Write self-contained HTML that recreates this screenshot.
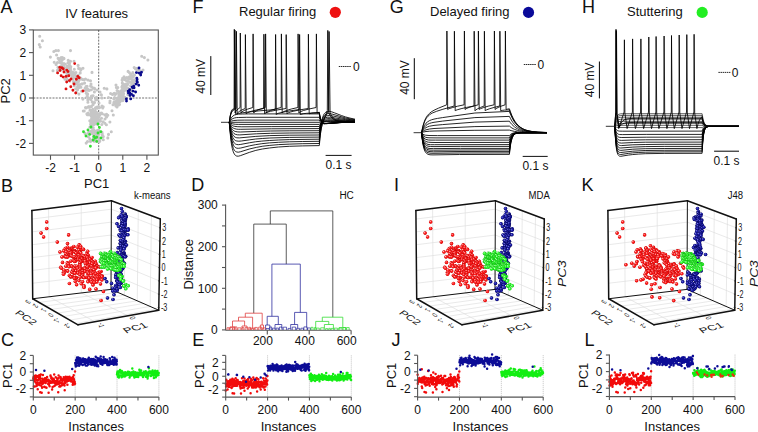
<!DOCTYPE html>
<html><head><meta charset="utf-8"><style>
html,body{margin:0;padding:0;background:#fff;}
svg{display:block;}
text{font-family:"Liberation Sans",sans-serif;fill:#111;}
</style></head><body>
<svg width="758" height="432" viewBox="0 0 758 432">
<rect width="758" height="432" fill="#fff"/>
<defs>
<clipPath id="clipA"><rect x="33.3" y="30" width="125" height="125.1"/></clipPath>
<g id="sr"><circle r="1.8" fill="#c40000"/><circle r="1.45" fill="#ff1c1c"/><circle cx="-0.5" cy="-0.55" r="0.65" fill="#ffb4b4"/></g>
<g id="sb"><circle r="1.8" fill="#000050"/><circle r="1.45" fill="#1c1ca8"/><circle cx="-0.5" cy="-0.55" r="0.6" fill="#8888ee"/></g>
<g id="sg"><circle r="1.8" fill="#10b010"/><circle r="1.45" fill="#30ff30"/><circle cx="-0.5" cy="-0.55" r="0.65" fill="#d0ffd0"/></g>
<radialGradient id="gr" cx="0.35" cy="0.35" r="0.7"><stop offset="0" stop-color="#ff9a9a"/><stop offset="0.45" stop-color="#ee1010"/><stop offset="1" stop-color="#a00000"/></radialGradient>
<radialGradient id="gb" cx="0.35" cy="0.35" r="0.7"><stop offset="0" stop-color="#8a8aee"/><stop offset="0.45" stop-color="#1a1aa8"/><stop offset="1" stop-color="#000060"/></radialGradient>
<radialGradient id="gg" cx="0.35" cy="0.35" r="0.7"><stop offset="0" stop-color="#c8ffc8"/><stop offset="0.45" stop-color="#22ee22"/><stop offset="1" stop-color="#10a010"/></radialGradient>
</defs><text x="0.5" y="12.7" font-size="18" text-anchor="start" >A</text>
<text x="1" y="191.5" font-size="18" text-anchor="start" >B</text>
<text x="0.9" y="345.5" font-size="18" text-anchor="start" >C</text>
<text x="191.3" y="191.2" font-size="18" text-anchor="start" >D</text>
<text x="192.2" y="345.6" font-size="18" text-anchor="start" >E</text>
<text x="192.6" y="12.7" font-size="18" text-anchor="start" >F</text>
<text x="389.8" y="12.7" font-size="18" text-anchor="start" >G</text>
<text x="582" y="12.9" font-size="18" text-anchor="start" >H</text>
<text x="394" y="190.7" font-size="18" text-anchor="start" >I</text>
<text x="391.5" y="345.7" font-size="18" text-anchor="start" >J</text>
<text x="581.6" y="191.3" font-size="18" text-anchor="start" >K</text>
<text x="584.5" y="345.7" font-size="18" text-anchor="start" >L</text>
<text x="96.7" y="18" font-size="13" text-anchor="middle" >IV features</text>
<rect x="33.3" y="30" width="125" height="125.1" fill="none" stroke="#555" stroke-width="1.1"/>
<line x1="29" y1="29.9" x2="33.3" y2="29.9" stroke="#555" stroke-width="1.1" />
<text x="26.2" y="34.2" font-size="12" text-anchor="end" >3</text>
<line x1="29" y1="52.6" x2="33.3" y2="52.6" stroke="#555" stroke-width="1.1" />
<text x="26.2" y="56.9" font-size="12" text-anchor="end" >2</text>
<line x1="29" y1="75.3" x2="33.3" y2="75.3" stroke="#555" stroke-width="1.1" />
<text x="26.2" y="79.6" font-size="12" text-anchor="end" >1</text>
<line x1="29" y1="98" x2="33.3" y2="98" stroke="#555" stroke-width="1.1" />
<text x="26.2" y="102.3" font-size="12" text-anchor="end" >0</text>
<line x1="29" y1="120.7" x2="33.3" y2="120.7" stroke="#555" stroke-width="1.1" />
<text x="26.2" y="125" font-size="12" text-anchor="end" >-1</text>
<line x1="29" y1="143.4" x2="33.3" y2="143.4" stroke="#555" stroke-width="1.1" />
<text x="26.2" y="147.7" font-size="12" text-anchor="end" >-2</text>
<line x1="50.5" y1="155.1" x2="50.5" y2="159.8" stroke="#555" stroke-width="1.1" />
<text x="50.5" y="172" font-size="12" text-anchor="middle" >-2</text>
<line x1="74.6" y1="155.1" x2="74.6" y2="159.8" stroke="#555" stroke-width="1.1" />
<text x="74.6" y="172" font-size="12" text-anchor="middle" >-1</text>
<line x1="98.7" y1="155.1" x2="98.7" y2="159.8" stroke="#555" stroke-width="1.1" />
<text x="98.7" y="172" font-size="12" text-anchor="middle" >0</text>
<line x1="122.8" y1="155.1" x2="122.8" y2="159.8" stroke="#555" stroke-width="1.1" />
<text x="122.8" y="172" font-size="12" text-anchor="middle" >1</text>
<line x1="146.9" y1="155.1" x2="146.9" y2="159.8" stroke="#555" stroke-width="1.1" />
<text x="146.9" y="172" font-size="12" text-anchor="middle" >2</text>
<text x="96.7" y="187.7" font-size="13" text-anchor="middle" >PC1</text>
<text x="0" y="0" font-size="13" text-anchor="middle" transform="translate(9.7,90.9) rotate(-90)">PC2</text>
<g clip-path="url(#clipA)">
<line x1="33.3" y1="98" x2="158.3" y2="98" stroke="#222" stroke-width="0.65" stroke-dasharray="2,1.2"/>
<line x1="98.7" y1="30" x2="98.7" y2="155.1" stroke="#222" stroke-width="0.65" stroke-dasharray="2,1.2"/>
<path d="M66.9 74.9h0M56.1 64.5h0M78.6 81.5h0M76 81.5h0M59.6 58.7h0M60 62.5h0M72.8 77.8h0M67.2 66.8h0M77.5 89.7h0M73.8 74.7h0M89.1 107.1h0M66.5 72.6h0M60.6 66.2h0M87 96.3h0M68 62.7h0M73.7 72.8h0M77.3 83.5h0M64.6 67.6h0M86 86.5h0M78.6 85.4h0M76.4 76.9h0M78.9 94.1h0M70 66h0M92.9 95.9h0M87.5 89h0M53 70.8h0M73.2 76.9h0M77.9 78.4h0M61.2 57.5h0M84 79.7h0M93.1 95.7h0M75.7 88.7h0M85.5 79h0M92.2 101.9h0M76.1 78.8h0M85.3 88.7h0M76.3 92.2h0M68.4 70.6h0M72.4 75.1h0M75.6 78.3h0M62.7 66.3h0M86.2 93.2h0M62 63.9h0M87.8 100h0M63.9 58.3h0M90.2 98.8h0M87.3 96.3h0M75.1 75h0M65 79.3h0M68.2 60.2h0M63.6 66.2h0M73.6 81.8h0M80 84.5h0M73.1 77.1h0M78.6 68.4h0M87.1 86.3h0M80.6 78.1h0M62.3 57.6h0M90.9 99.5h0M94.5 88.4h0M73.5 74.6h0M80.9 87.3h0M57.4 62.5h0M62.4 66.1h0M70.2 73.4h0M62.9 64.8h0M61.4 62.2h0M90.6 97.8h0M79.5 86.9h0M68.6 75.3h0M66.8 78.2h0M91.4 106.4h0M76.5 77.8h0M60.8 62.7h0M70.9 72.9h0M57.4 70.4h0M54.2 62.3h0M63.9 63.6h0M74.3 85.8h0M94.5 102.6h0M91.5 96.1h0M73.6 72.5h0M63 66h0M91.3 89.7h0M68.9 73.7h0M89.7 107.3h0M88.2 98.1h0M91.4 86.5h0M68.8 65.6h0M58.5 59h0M58.5 58.9h0M81.6 91.3h0M101.4 94.9h0M93.1 104.6h0M95.7 99.7h0M64.2 69.7h0M63.4 67.9h0M87.9 102.2h0M94.4 91.9h0M87.6 94.5h0M64 58.6h0M93.4 88.1h0M88.2 90h0M87.5 93.7h0M67.3 75.3h0M80.5 68.8h0M67.8 80.2h0M65.3 64.2h0M57.9 67.2h0M82.9 99.1h0M58.6 68.1h0M90.5 80.7h0M72.3 72.4h0M58.1 58.2h0M97.2 99.7h0M96.5 97.3h0M69.8 81.1h0M69.5 63.8h0M67.4 68.8h0M77.6 86.4h0M71.7 71.8h0M87.1 90.2h0M75.9 72.5h0M86.8 90.2h0M72.8 79.1h0M79.1 78.6h0M75.3 81.9h0M68.5 71h0M63.7 66.5h0M77.6 77.1h0M84.6 83.1h0M78.1 78.8h0M78.2 80.7h0M79.5 79.6h0M71.1 71.8h0M73.6 82.8h0M78.3 80.9h0M80.2 72.9h0M82.5 79.4h0M82.1 83.9h0M78.1 75.4h0M89 90h0M78.6 87.8h0M74.3 69.2h0M74.7 84.4h0M69 68.1h0M67.9 68.4h0M70 72.5h0M67.7 66.1h0M90.6 86.1h0M68.7 69.4h0M70.8 66.7h0M85.5 90.4h0M89.1 90.5h0M80.8 69.9h0M85.1 88.2h0M70.5 67.9h0M71.8 75.9h0M70.5 69.7h0M61.4 69.6h0M39.7 36.3h0M42.4 40.8h0M39.3 44.6h0M40.2 47h0M53.8 51.5h0M55.9 50.6h0M58.4 50.6h0M70.5 50.6h0M56.6 55h0M50.4 57.1h0M59.4 59.9h0M62.2 59.9h0M70.5 61.3h0M74 61.3h0M78.1 65.4h0M83 68.2h0M92 72.4h0M88 80h0M91 84h0M97 90h0M100 92h0M125.8 84.2h0M121.2 92.9h0M126.9 81.2h0M136.6 68.5h0M133.3 76.7h0M119.1 95h0M114.4 103.8h0M113.8 98.7h0M127.9 92.5h0M116.3 93.5h0M120 101.7h0M127.9 77.8h0M119.5 104.5h0M124.8 90.3h0M118.7 104.9h0M130.6 74.3h0M115.7 102.4h0M132.8 72.5h0M121.9 86.9h0M138.5 72.8h0M122 96.7h0M121.4 97.9h0M116.1 101.3h0M118.7 98.1h0M118.8 92.3h0M124.8 97.4h0M126.2 87.3h0M115.9 106h0M123.9 98.9h0M126.7 84.9h0M110.6 93.5h0M116.7 101.8h0M129.4 72.6h0M134.5 75.1h0M117.8 87.5h0M136.4 68.5h0M123.6 93.8h0M124.2 78.8h0M122.1 89.6h0M116.9 100.7h0M114.6 102.3h0M114.6 97.5h0M118.3 104h0M124 76.9h0M119.9 94.6h0M126.5 89.6h0M114.6 97.7h0M136.9 69.9h0M134.2 67.6h0M135.5 68.8h0M120.3 93.5h0M122.3 91h0M122.4 86.1h0M125.1 86.3h0M113 104.7h0M123.9 91.1h0M116.5 105.1h0M118.9 96.6h0M122.1 80.1h0M127.9 80.1h0M132.4 79.9h0M118.8 91.6h0M139.5 70.4h0M132.3 83.7h0M117.3 105.5h0M122.6 78.2h0M131.2 78.3h0M124 84.6h0M127.9 88.1h0M128.1 71.4h0M130.6 85.7h0M126.8 77.5h0M120.1 97.5h0M122 91.9h0M117.5 102.4h0M124.8 79.6h0M126.6 80.9h0M109.9 102.8h0M132.1 75.5h0M122.3 82.9h0M133.3 83.5h0M121 97h0M114.3 101.9h0M122.8 100.6h0M134.2 79.9h0M121.6 90.5h0M122.4 85.9h0M123.1 79.1h0M129.9 82.2h0M119.9 96.1h0M129.5 76.7h0M117 106.9h0M113.9 102.4h0M134.1 82.3h0M128.3 79.4h0M127.7 90.1h0M128.9 90.8h0M122.1 100.4h0M137 69.1h0M123.8 87.9h0M132 83.6h0M121.2 93.8h0M122.5 96.4h0M125.6 86.9h0M114.2 93.2h0M119 96.5h0M124.6 78.8h0M127.6 84.4h0M123.4 96.3h0M116.7 98.4h0M115.5 98.3h0M122.4 93.4h0M118.8 96.2h0M131.5 82.6h0M118 100h0M115.2 94.5h0M129.8 78.9h0M117.1 90.5h0M116.4 87.5h0M131.6 90.5h0M121.3 91h0M119.5 99.5h0M120.4 98.4h0M129.4 78.4h0M121.2 94.3h0M123.5 97.6h0M127.9 94.8h0M128 81.3h0M131.6 89.2h0M122.8 86.1h0M141.7 56.3h0M144.4 57.6h0M147.9 60h0M104.2 88.2h0M106.9 88.9h0M102 98h0M112.5 94.4h0M143 70h0M108.5 97.5h0M110 101h0M116 85h0M88.6 132.8h0M93.2 122.7h0M98.1 133.8h0M98 107.7h0M92.3 140.4h0M91.6 118.8h0M96.2 117h0M107.8 115.3h0M97.5 130.2h0M89.8 120.7h0M93.5 112.2h0M93.2 139.6h0M93.6 124.4h0M86.2 143.1h0M93.5 122.7h0M92.8 109.4h0M92.5 118.7h0M93.4 115.6h0M89.8 127.2h0M100.4 121.1h0M99.8 121.2h0M96 118.5h0M97.1 108.2h0M83.3 111h0M101.8 124.5h0M101.9 113.8h0M95.2 116h0M90.8 122.6h0M90.5 141.4h0M102.6 106.6h0M97.5 107.1h0M104.9 123.3h0M91 127.8h0M95.9 140.3h0M88.3 136.8h0M105 114.9h0M91.9 110.1h0M91.1 131.4h0M97.1 140.8h0M102.3 134.1h0M96.7 122.9h0M96.2 134.9h0M89.4 114.8h0M98.5 117.2h0M95.2 110.7h0M89.2 132h0M90 110.3h0M93.2 127.6h0M94.4 120.4h0M88.9 106.6h0M106.6 116.9h0M92.8 129.9h0M99.2 138.6h0M94.7 115.2h0M97.1 141.5h0M98.8 106.7h0M97.7 124.4h0M99.5 115.4h0M92.7 130.8h0M96.5 107.2h0M101.5 118.3h0M91.9 113.4h0M96.2 135.5h0M100.6 113.4h0M99.2 141.8h0M87.3 114.8h0M95 114.2h0M99.8 141.1h0M94.2 124.4h0M92.4 121.5h0M93.2 130.7h0M96.2 120.5h0M92.7 113.9h0M95.5 107.9h0M102.8 108h0M89.8 138.9h0M85.1 133.4h0M95.5 118.2h0M88.2 113.1h0M98 107.1h0M98.9 130.5h0M92.3 118.4h0M91.4 112.4h0M95.3 119h0M87.5 141.6h0M86.9 113.9h0M91.6 119.3h0M103.1 121.8h0M99.4 107.7h0M95.2 140h0M101.6 113h0M87.6 107.3h0M92.4 121.3h0M102.3 107.3h0M85.5 107.5h0M91.3 115.6h0M92.4 133.7h0M97.8 116h0M98.6 141.4h0M98.1 132.5h0M95.4 117.7h0M95.4 134h0M103.3 139.7h0M103.2 106.7h0M106.6 114.3h0M94.2 141.3h0M95.4 120.3h0M90.6 124.4h0M92.5 140.4h0M88.2 133.5h0M95.8 133.5h0M99.3 120h0M98.5 119.9h0M90 114.5h0M94.5 117.1h0M96.6 113.4h0M96.8 112.6h0M97.9 137.4h0M94.2 135.3h0M94.4 114.2h0M99.3 113.9h0M95.3 123.6h0M98.5 117.6h0M93.8 129.8h0M93.6 131.8h0M98.2 114.7h0M97.6 133.7h0M91.2 122.2h0M95.5 131.3h0M92.5 118.6h0M91.3 116.3h0M97.8 120.2h0M91.4 122.7h0M94.9 118h0M102 132.4h0M102.3 113.7h0M92.9 124.6h0M102.3 135.1h0M94.6 113h0M93 117.1h0M103.3 136.6h0M98.8 121.3h0M98.9 134.2h0M95.6 132.3h0M93.5 137h0M105 119h0M109.9 122h0M106.4 124.7h0M112 110.8h0M113.3 115h0M111.3 131.7h0M108.5 134.4h0M107.8 137.9h0M84.2 111h0M86 108h0M99 103h0M102 106h0" stroke="#c6c6c6" stroke-width="3.1" stroke-linecap="round" fill="none" />
<path d="M74.7 63.6h0M59.7 67.4h0M61.8 67.8h0M63.2 68.8h0M66.7 70.1h0M68 71.5h0M57.6 72.9h0M61.1 75.7h0M63.2 77.1h0M66 76.4h0M68.8 75.7h0M77.8 76.4h0M79.2 77.8h0M76.4 79.2h0M66.7 82h0M69.4 80.6h0M70.8 86.8h0M66 88.9h0M72.9 90.3h0M75.7 93h0M83 91h0M64 72h0M71 79h0M74 84h0M60 70.5h0" stroke="#dd1111" stroke-width="2.9" stroke-linecap="round" fill="none" />
<path d="M137.4 82.2h0M129.7 93.1h0M131.4 94.3h0M128.2 91.2h0M128.4 93.1h0M126.4 99h0M133.4 95.7h0M133 91.1h0M138.7 85.2h0M130.7 98.9h0M136 84.1h0M136.9 81.3h0M137.1 79.5h0M132.5 87.5h0M141.5 72.2h0M129.7 89.8h0M132.1 87.1h0M140.7 75h0M130.3 94.1h0M136.8 78.2h0M139.1 73.1h0M134.1 87.7h0M136.4 72.6h0M133.7 86.3h0M129.3 90.7h0M135.6 92h0M130 95.6h0M126.5 101.1h0M139 68h0" stroke="#0a0a8c" stroke-width="2.9" stroke-linecap="round" fill="none" />
<path d="M83.5 131.7h0M90.4 146.3h0M89.7 134.4h0M93.9 136.5h0M96.7 137.2h0M99.4 127.5h0M100.8 131.7h0M98 133h0M95.3 137.9h0M93.2 140h0M96.7 141.4h0M88 130h0M91 127h0M86 136h0M98 124h0M101 138h0" stroke="#33dd33" stroke-width="2.9" stroke-linecap="round" fill="none" />
</g>
<line x1="49.14" y1="296.79" x2="48.59" y2="208.52" stroke="#dadada" stroke-width="0.6" />
<line x1="81.25" y1="292.95" x2="81.19" y2="204.46" stroke="#dadada" stroke-width="0.6" />
<line x1="32.56" y1="283.26" x2="111.07" y2="273.82" stroke="#dadada" stroke-width="0.6" />
<line x1="32.44" y1="270.42" x2="111.13" y2="260.89" stroke="#dadada" stroke-width="0.6" />
<line x1="32.33" y1="257.58" x2="111.19" y2="247.97" stroke="#dadada" stroke-width="0.6" />
<line x1="32.21" y1="244.73" x2="111.25" y2="235.04" stroke="#dadada" stroke-width="0.6" />
<line x1="32.09" y1="231.89" x2="111.3" y2="222.12" stroke="#dadada" stroke-width="0.6" />
<line x1="31.98" y1="219.04" x2="111.36" y2="209.2" stroke="#dadada" stroke-width="0.6" />
<line x1="124.37" y1="295.22" x2="125.09" y2="205.82" stroke="#dadada" stroke-width="0.6" />
<line x1="137.26" y1="300.84" x2="138.3" y2="210.76" stroke="#dadada" stroke-width="0.6" />
<line x1="150.15" y1="306.46" x2="151.5" y2="215.71" stroke="#dadada" stroke-width="0.6" />
<line x1="111.07" y1="273.82" x2="159.02" y2="294.18" stroke="#dadada" stroke-width="0.6" />
<line x1="111.13" y1="260.89" x2="159.25" y2="280.89" stroke="#dadada" stroke-width="0.6" />
<line x1="111.19" y1="247.97" x2="159.47" y2="267.6" stroke="#dadada" stroke-width="0.6" />
<line x1="111.25" y1="235.04" x2="159.7" y2="254.31" stroke="#dadada" stroke-width="0.6" />
<line x1="111.3" y1="222.12" x2="159.93" y2="241.02" stroke="#dadada" stroke-width="0.6" />
<line x1="111.36" y1="209.2" x2="160.15" y2="227.74" stroke="#dadada" stroke-width="0.6" />
<line x1="49.14" y1="296.79" x2="94.96" y2="321.73" stroke="#dadada" stroke-width="0.6" />
<line x1="81.25" y1="292.95" x2="128.06" y2="315.75" stroke="#dadada" stroke-width="0.6" />
<line x1="39.04" y1="302.4" x2="117.69" y2="292.31" stroke="#dadada" stroke-width="0.6" />
<line x1="45.38" y1="306.04" x2="124.37" y2="295.22" stroke="#dadada" stroke-width="0.6" />
<line x1="51.27" y1="309.43" x2="130.58" y2="297.93" stroke="#dadada" stroke-width="0.6" />
<line x1="57.62" y1="313.08" x2="137.26" y2="300.84" stroke="#dadada" stroke-width="0.6" />
<line x1="63.5" y1="316.46" x2="143.47" y2="303.54" stroke="#dadada" stroke-width="0.6" />
<line x1="69.85" y1="320.11" x2="150.15" y2="306.46" stroke="#dadada" stroke-width="0.6" />
<line x1="75.73" y1="323.5" x2="156.36" y2="309.16" stroke="#dadada" stroke-width="0.6" />
<line x1="32.7" y1="298.75" x2="31.9" y2="210.6" stroke="#111" stroke-width="1.5" stroke-linecap="round"/>
<line x1="31.9" y1="210.6" x2="111.4" y2="200.7" stroke="#111" stroke-width="1.5" stroke-linecap="round"/>
<line x1="111.4" y1="200.7" x2="160.3" y2="219" stroke="#111" stroke-width="1.5" stroke-linecap="round"/>
<line x1="160.3" y1="219" x2="158.75" y2="310.2" stroke="#111" stroke-width="1.5" stroke-linecap="round"/>
<line x1="158.75" y1="310.2" x2="78" y2="324.8" stroke="#111" stroke-width="1.5" stroke-linecap="round"/>
<line x1="78" y1="324.8" x2="32.7" y2="298.75" stroke="#111" stroke-width="1.5" stroke-linecap="round"/>
<line x1="32.7" y1="298.75" x2="111" y2="289.4" stroke="#111" stroke-width="1.0" stroke-linecap="round"/>
<line x1="111" y1="289.4" x2="158.75" y2="310.2" stroke="#111" stroke-width="1.0" stroke-linecap="round"/>
<line x1="111" y1="289.4" x2="111.4" y2="200.7" stroke="#111" stroke-width="1.0" stroke-linecap="round"/>
<line x1="159" y1="227.8" x2="160.9" y2="227.8" stroke="#222" stroke-width="0.7" />
<text transform="translate(162.2,231.4) scale(0.72,1)" font-size="10" fill="#222">3</text>
<line x1="158.78" y1="241.08" x2="160.68" y2="241.08" stroke="#222" stroke-width="0.7" />
<text transform="translate(162,244.7) scale(0.72,1)" font-size="10" fill="#222">2</text>
<line x1="158.56" y1="254.36" x2="160.46" y2="254.36" stroke="#222" stroke-width="0.7" />
<text transform="translate(161.8,258) scale(0.72,1)" font-size="10" fill="#222">1</text>
<line x1="158.34" y1="267.64" x2="160.24" y2="267.64" stroke="#222" stroke-width="0.7" />
<text transform="translate(161.5,271.2) scale(0.72,1)" font-size="10" fill="#222">0</text>
<line x1="158.12" y1="280.92" x2="160.02" y2="280.92" stroke="#222" stroke-width="0.7" />
<text transform="translate(161.3,284.5) scale(0.72,1)" font-size="10" fill="#222">-1</text>
<line x1="157.9" y1="294.2" x2="159.8" y2="294.2" stroke="#222" stroke-width="0.7" />
<text transform="translate(161.1,297.8) scale(0.72,1)" font-size="10" fill="#222">-2</text>
<line x1="157.68" y1="307.48" x2="159.58" y2="307.48" stroke="#222" stroke-width="0.7" />
<text transform="translate(160.9,311.1) scale(0.72,1)" font-size="10" fill="#222">-3</text>
<text transform="translate(152.3,198.8) scale(0.87,1)" font-size="11" text-anchor="middle">k-means</text>
<text transform="translate(25.8,300.4) rotate(120) scale(0.7,1)" font-size="7.5" fill="#444" text-anchor="middle">3</text>
<text transform="translate(33.3,304.5) rotate(120) scale(0.7,1)" font-size="7.5" fill="#444" text-anchor="middle">2</text>
<text transform="translate(41.4,309.1) rotate(120) scale(0.7,1)" font-size="7.5" fill="#444" text-anchor="middle">1</text>
<text transform="translate(48.4,313.7) rotate(120) scale(0.7,1)" font-size="7.5" fill="#444" text-anchor="middle">0</text>
<text transform="translate(54.7,318.9) rotate(120) scale(0.7,1)" font-size="7.5" fill="#444" text-anchor="middle">-1</text>
<text transform="translate(65.1,324.1) rotate(120) scale(0.7,1)" font-size="7.5" fill="#444" text-anchor="middle">-2</text>
<text transform="translate(98.8,325.5) rotate(80) scale(0.7,1)" font-size="7.5" fill="#444" text-anchor="middle">-1</text>
<text transform="translate(130,318.5) rotate(80) scale(0.7,1)" font-size="7.5" fill="#444" text-anchor="middle">0</text>
<text transform="translate(137.5,330.2) rotate(-16) skewX(28) scale(1.05,0.72)" font-size="11.5" fill="#333" text-anchor="middle">PC1</text>
<text transform="translate(23.5,319.5) rotate(33) skewX(-20) scale(1,0.75)" font-size="11.5" fill="#333" text-anchor="middle">PC2</text>
<use href="#sr" x="46.7" y="222"/>
<use href="#sr" x="46.7" y="228.5"/>
<use href="#sr" x="41.1" y="233.1"/>
<use href="#sr" x="68.6" y="234.9"/>
<use href="#sr" x="43.6" y="237"/>
<use href="#sr" x="57.3" y="242.1"/>
<use href="#sr" x="67.5" y="243.6"/>
<use href="#sr" x="79.2" y="244.9"/>
<use href="#sr" x="80.6" y="246.2"/>
<use href="#sr" x="78.2" y="246.5"/>
<use href="#sr" x="73.8" y="246.5"/>
<use href="#sr" x="67.7" y="247.3"/>
<use href="#sr" x="77.4" y="247.3"/>
<use href="#sr" x="71.9" y="247.7"/>
<use href="#sr" x="80.6" y="247.7"/>
<use href="#sr" x="65.8" y="248.4"/>
<use href="#sr" x="70.2" y="249"/>
<use href="#sr" x="64.5" y="249.2"/>
<use href="#sr" x="83.5" y="249.3"/>
<use href="#sr" x="71.9" y="249.3"/>
<use href="#sr" x="71.4" y="249.5"/>
<use href="#sr" x="83.2" y="249.5"/>
<use href="#sr" x="80.7" y="249.9"/>
<use href="#sr" x="79" y="249.9"/>
<use href="#sr" x="70.3" y="250"/>
<use href="#sr" x="70" y="250.4"/>
<use href="#sr" x="74.7" y="250.6"/>
<use href="#sr" x="65.9" y="250.7"/>
<use href="#sr" x="63.8" y="251"/>
<use href="#sr" x="69.4" y="251.1"/>
<use href="#sr" x="75" y="251.2"/>
<use href="#sr" x="87.6" y="251.3"/>
<use href="#sr" x="75.1" y="251.9"/>
<use href="#sr" x="60" y="252"/>
<use href="#sr" x="66.3" y="252"/>
<use href="#sr" x="74.6" y="252.1"/>
<use href="#sr" x="80.2" y="252.1"/>
<use href="#sr" x="71.4" y="252.2"/>
<use href="#sr" x="71.2" y="252.4"/>
<use href="#sr" x="77.3" y="252.5"/>
<use href="#sr" x="68.6" y="253"/>
<use href="#sr" x="80.8" y="253.1"/>
<use href="#sr" x="76.1" y="253.1"/>
<use href="#sr" x="70.5" y="253.3"/>
<use href="#sr" x="86.8" y="253.6"/>
<use href="#sr" x="67.5" y="253.7"/>
<use href="#sr" x="65.6" y="254"/>
<use href="#sr" x="86.5" y="254.3"/>
<use href="#sr" x="71.2" y="254.7"/>
<use href="#sr" x="78.3" y="254.9"/>
<use href="#sr" x="69.2" y="255.1"/>
<use href="#sr" x="67.2" y="255.3"/>
<use href="#sr" x="78.7" y="255.3"/>
<use href="#sr" x="88.3" y="255.4"/>
<use href="#sr" x="83.6" y="255.5"/>
<use href="#sr" x="68.7" y="255.6"/>
<use href="#sr" x="70.8" y="255.7"/>
<use href="#sr" x="85.6" y="255.8"/>
<use href="#sr" x="83.5" y="256"/>
<use href="#sr" x="68" y="256.2"/>
<use href="#sr" x="75.6" y="256.3"/>
<use href="#sr" x="67.2" y="256.3"/>
<use href="#sr" x="72.3" y="256.5"/>
<use href="#sr" x="67.7" y="256.5"/>
<use href="#sr" x="64.9" y="256.6"/>
<use href="#sr" x="73.4" y="256.7"/>
<use href="#sr" x="80.4" y="256.8"/>
<use href="#sr" x="74.4" y="256.8"/>
<use href="#sr" x="62" y="257"/>
<use href="#sr" x="65.9" y="257"/>
<use href="#sr" x="87.7" y="257.1"/>
<use href="#sr" x="67.5" y="257.1"/>
<use href="#sr" x="78.5" y="257.3"/>
<use href="#sr" x="84.6" y="257.3"/>
<use href="#sr" x="92" y="257.5"/>
<use href="#sr" x="87.3" y="257.5"/>
<use href="#sr" x="76.6" y="257.6"/>
<use href="#sr" x="77" y="257.8"/>
<use href="#sr" x="81.9" y="257.8"/>
<use href="#sr" x="81.6" y="257.9"/>
<use href="#sr" x="82.1" y="258.4"/>
<use href="#sr" x="76.1" y="258.6"/>
<use href="#sr" x="81.8" y="258.6"/>
<use href="#sr" x="78.3" y="258.8"/>
<use href="#sr" x="88.5" y="258.8"/>
<use href="#sr" x="89.9" y="258.9"/>
<use href="#sr" x="84.9" y="259"/>
<use href="#sr" x="74.7" y="259.5"/>
<use href="#sr" x="87.8" y="259.7"/>
<use href="#sr" x="78.1" y="259.7"/>
<use href="#sr" x="73.5" y="259.8"/>
<use href="#sr" x="75" y="259.9"/>
<use href="#sr" x="84.9" y="260"/>
<use href="#sr" x="75.7" y="260.1"/>
<use href="#sr" x="80.2" y="260.2"/>
<use href="#sr" x="91.3" y="260.4"/>
<use href="#sr" x="73.3" y="260.4"/>
<use href="#sr" x="83.2" y="260.6"/>
<use href="#sr" x="91.2" y="260.7"/>
<use href="#sr" x="90.4" y="260.8"/>
<use href="#sr" x="83.2" y="260.9"/>
<use href="#sr" x="80.8" y="261"/>
<use href="#sr" x="92.2" y="261.2"/>
<use href="#sr" x="95.2" y="261.2"/>
<use href="#sr" x="70.6" y="261.2"/>
<use href="#sr" x="75.4" y="261.3"/>
<use href="#sr" x="85.2" y="261.3"/>
<use href="#sr" x="74.5" y="261.4"/>
<use href="#sr" x="81" y="261.8"/>
<use href="#sr" x="80.9" y="261.8"/>
<use href="#sr" x="88.9" y="262"/>
<use href="#sr" x="92.8" y="262"/>
<use href="#sr" x="89.5" y="262.2"/>
<use href="#sr" x="89.9" y="262.3"/>
<use href="#sr" x="62.5" y="262.4"/>
<use href="#sr" x="93.4" y="262.6"/>
<use href="#sr" x="90" y="262.8"/>
<use href="#sr" x="67.3" y="262.9"/>
<use href="#sr" x="86.9" y="263.1"/>
<use href="#sr" x="79.8" y="263.1"/>
<use href="#sr" x="85.4" y="263.5"/>
<use href="#sr" x="96" y="263.7"/>
<use href="#sr" x="92.2" y="263.8"/>
<use href="#sr" x="68.4" y="263.9"/>
<use href="#sr" x="79.7" y="264.9"/>
<use href="#sr" x="95.1" y="265.3"/>
<use href="#sr" x="79.8" y="265.4"/>
<use href="#sr" x="90.3" y="265.6"/>
<use href="#sr" x="71.1" y="265.7"/>
<use href="#sr" x="96.7" y="265.9"/>
<use href="#sr" x="86.2" y="266"/>
<use href="#sr" x="74.9" y="266.1"/>
<use href="#sr" x="97.2" y="266.1"/>
<use href="#sr" x="91.6" y="266.2"/>
<use href="#sr" x="76.7" y="266.2"/>
<use href="#sr" x="65.9" y="266.3"/>
<use href="#sr" x="88.3" y="266.3"/>
<use href="#sr" x="87.9" y="266.3"/>
<use href="#sr" x="71.7" y="266.4"/>
<use href="#sr" x="69" y="266.7"/>
<use href="#sr" x="93.8" y="267"/>
<use href="#sr" x="99.5" y="267.1"/>
<use href="#sr" x="95.9" y="267.1"/>
<use href="#sr" x="93.7" y="267.2"/>
<use href="#sr" x="87.4" y="267.3"/>
<use href="#sr" x="60.7" y="267.3"/>
<use href="#sr" x="79.8" y="267.5"/>
<use href="#sr" x="80.4" y="267.7"/>
<use href="#sr" x="93.1" y="267.9"/>
<use href="#sr" x="95.7" y="268.3"/>
<use href="#sr" x="61.5" y="268.3"/>
<use href="#sr" x="76.9" y="268.4"/>
<use href="#sr" x="84.9" y="268.4"/>
<use href="#sr" x="83.7" y="268.4"/>
<use href="#sr" x="77.6" y="268.5"/>
<use href="#sr" x="84" y="268.6"/>
<use href="#sr" x="85" y="268.7"/>
<use href="#sr" x="92" y="269"/>
<use href="#sr" x="74.5" y="269.1"/>
<use href="#sr" x="80.1" y="269.3"/>
<use href="#sr" x="87.8" y="269.5"/>
<use href="#sr" x="93.1" y="269.6"/>
<use href="#sr" x="87.6" y="269.9"/>
<use href="#sr" x="94.1" y="270"/>
<use href="#sr" x="72.6" y="270.1"/>
<use href="#sr" x="78.7" y="270.3"/>
<use href="#sr" x="64.1" y="270.3"/>
<use href="#sr" x="88.7" y="270.5"/>
<use href="#sr" x="73.1" y="270.7"/>
<use href="#sr" x="67.1" y="270.8"/>
<use href="#sr" x="82.6" y="270.9"/>
<use href="#sr" x="76.1" y="271"/>
<use href="#sr" x="67.7" y="271.1"/>
<use href="#sr" x="84.9" y="271.4"/>
<use href="#sr" x="101.1" y="271.5"/>
<use href="#sr" x="91.3" y="271.8"/>
<use href="#sr" x="78.1" y="271.8"/>
<use href="#sr" x="88.3" y="271.8"/>
<use href="#sr" x="87.6" y="272"/>
<use href="#sr" x="71.7" y="272.1"/>
<use href="#sr" x="98.8" y="272.3"/>
<use href="#sr" x="94.2" y="272.3"/>
<use href="#sr" x="99.8" y="272.5"/>
<use href="#sr" x="87.8" y="272.5"/>
<use href="#sr" x="63.4" y="272.5"/>
<use href="#sr" x="97.9" y="272.7"/>
<use href="#sr" x="79.6" y="272.8"/>
<use href="#sr" x="64.2" y="272.8"/>
<use href="#sr" x="93" y="273"/>
<use href="#sr" x="89.9" y="273"/>
<use href="#sr" x="73.7" y="273.1"/>
<use href="#sr" x="77.8" y="273.1"/>
<use href="#sr" x="75" y="273.2"/>
<use href="#sr" x="82.7" y="273.4"/>
<use href="#sr" x="87.7" y="273.5"/>
<use href="#sr" x="95.7" y="273.6"/>
<use href="#sr" x="89.2" y="273.6"/>
<use href="#sr" x="91.2" y="273.7"/>
<use href="#sr" x="63.5" y="274.3"/>
<use href="#sr" x="79.8" y="274.6"/>
<use href="#sr" x="82.7" y="274.9"/>
<use href="#sr" x="69.4" y="275.4"/>
<use href="#sr" x="100.1" y="275.5"/>
<use href="#sr" x="97.9" y="275.6"/>
<use href="#sr" x="94" y="275.7"/>
<use href="#sr" x="102.2" y="276.1"/>
<use href="#sr" x="82" y="276.2"/>
<use href="#sr" x="101.3" y="276.5"/>
<use href="#sr" x="70.4" y="276.5"/>
<use href="#sr" x="72.3" y="276.6"/>
<use href="#sr" x="102" y="276.6"/>
<use href="#sr" x="96.6" y="276.7"/>
<use href="#sr" x="88.2" y="276.7"/>
<use href="#sr" x="70.8" y="276.9"/>
<use href="#sr" x="80.2" y="277.3"/>
<use href="#sr" x="75.5" y="277.3"/>
<use href="#sr" x="99.3" y="277.4"/>
<use href="#sr" x="86.2" y="277.4"/>
<use href="#sr" x="83.3" y="277.4"/>
<use href="#sr" x="95.3" y="277.5"/>
<use href="#sr" x="97.6" y="277.5"/>
<use href="#sr" x="84" y="277.6"/>
<use href="#sr" x="90.8" y="277.7"/>
<use href="#sr" x="76.4" y="277.8"/>
<use href="#sr" x="76" y="278.1"/>
<use href="#sr" x="89.2" y="278.2"/>
<use href="#sr" x="92.1" y="278.4"/>
<use href="#sr" x="74.5" y="278.4"/>
<use href="#sr" x="92.7" y="278.8"/>
<use href="#sr" x="95.9" y="278.8"/>
<use href="#sr" x="94" y="279.1"/>
<use href="#sr" x="98.1" y="279.4"/>
<use href="#sr" x="96.9" y="279.7"/>
<use href="#sr" x="101.9" y="279.9"/>
<use href="#sr" x="91.3" y="280.3"/>
<use href="#sr" x="94.6" y="280.5"/>
<use href="#sr" x="79" y="280.6"/>
<use href="#sr" x="88.3" y="280.9"/>
<use href="#sr" x="75.3" y="281.5"/>
<use href="#sr" x="92.9" y="281.6"/>
<use href="#sr" x="82.6" y="281.8"/>
<use href="#sr" x="88" y="281.8"/>
<use href="#sr" x="96.9" y="282"/>
<use href="#sr" x="91.6" y="282.2"/>
<use href="#sr" x="94.4" y="282.5"/>
<use href="#sr" x="69.4" y="283.5"/>
<use href="#sr" x="81.3" y="283.8"/>
<use href="#sr" x="100.5" y="284"/>
<use href="#sr" x="76.6" y="284.7"/>
<use href="#sr" x="93" y="284.9"/>
<use href="#sr" x="84" y="285.9"/>
<use href="#sr" x="84" y="287.5"/>
<use href="#sr" x="96" y="289"/>
<use href="#sr" x="89.7" y="289.4"/>
<use href="#sr" x="103.4" y="291.5"/>
<use href="#sr" x="101.1" y="300.5"/>
<use href="#sb" x="121.5" y="208.5"/>
<use href="#sb" x="122.3" y="211.5"/>
<use href="#sb" x="125.2" y="214.1"/>
<use href="#sb" x="121.3" y="214.7"/>
<use href="#sb" x="125.1" y="215.2"/>
<use href="#sb" x="125.6" y="215.8"/>
<use href="#sb" x="124.9" y="215.9"/>
<use href="#sb" x="126.1" y="216.4"/>
<use href="#sb" x="122.2" y="216.5"/>
<use href="#sb" x="119.5" y="217"/>
<use href="#sb" x="126.1" y="217.2"/>
<use href="#sb" x="118.6" y="217.7"/>
<use href="#sb" x="125.3" y="218.1"/>
<use href="#sb" x="123.8" y="219.2"/>
<use href="#sb" x="125.5" y="219.7"/>
<use href="#sb" x="122" y="219.8"/>
<use href="#sb" x="125.2" y="220.2"/>
<use href="#sb" x="123.6" y="220.7"/>
<use href="#sb" x="125.1" y="220.8"/>
<use href="#sb" x="122.1" y="221.1"/>
<use href="#sb" x="124.2" y="221.8"/>
<use href="#sb" x="123" y="222.4"/>
<use href="#sb" x="125.2" y="223.4"/>
<use href="#sb" x="121.6" y="223.4"/>
<use href="#sb" x="117" y="223.8"/>
<use href="#sb" x="121.7" y="223.9"/>
<use href="#sb" x="123.1" y="224.2"/>
<use href="#sb" x="124.7" y="224.7"/>
<use href="#sb" x="124.9" y="224.7"/>
<use href="#sb" x="122.3" y="225.7"/>
<use href="#sb" x="124.8" y="225.8"/>
<use href="#sb" x="123.1" y="226"/>
<use href="#sb" x="121.9" y="226.1"/>
<use href="#sb" x="118.6" y="226.4"/>
<use href="#sb" x="124.8" y="226.8"/>
<use href="#sb" x="123.6" y="227.3"/>
<use href="#sb" x="128.1" y="228.7"/>
<use href="#sb" x="123.9" y="229.1"/>
<use href="#sb" x="122.1" y="229.3"/>
<use href="#sb" x="124.8" y="229.4"/>
<use href="#sb" x="120.3" y="229.6"/>
<use href="#sb" x="124.1" y="230"/>
<use href="#sb" x="126.5" y="230.1"/>
<use href="#sb" x="128.1" y="230.3"/>
<use href="#sb" x="120.5" y="230.8"/>
<use href="#sb" x="122.3" y="231"/>
<use href="#sb" x="122.8" y="232.2"/>
<use href="#sb" x="124.8" y="232.9"/>
<use href="#sb" x="122.5" y="232.9"/>
<use href="#sb" x="123.6" y="232.9"/>
<use href="#sb" x="124.3" y="233.9"/>
<use href="#sb" x="126.1" y="234.6"/>
<use href="#sb" x="123.6" y="234.6"/>
<use href="#sb" x="127.9" y="234.8"/>
<use href="#sb" x="121.1" y="235"/>
<use href="#sb" x="119" y="235"/>
<use href="#sb" x="124.6" y="235.6"/>
<use href="#sb" x="120.1" y="236.2"/>
<use href="#sb" x="122.8" y="236.7"/>
<use href="#sb" x="123.3" y="237.7"/>
<use href="#sb" x="123.9" y="238"/>
<use href="#sb" x="123.3" y="240"/>
<use href="#sb" x="120.4" y="240.2"/>
<use href="#sb" x="120.8" y="240.7"/>
<use href="#sb" x="125.4" y="241.2"/>
<use href="#sb" x="124.6" y="241.6"/>
<use href="#sb" x="122.5" y="241.7"/>
<use href="#sb" x="121.1" y="243.2"/>
<use href="#sb" x="123.8" y="243.3"/>
<use href="#sb" x="123.2" y="243.4"/>
<use href="#sb" x="124.8" y="243.4"/>
<use href="#sb" x="120.2" y="243.6"/>
<use href="#sb" x="121.3" y="244.1"/>
<use href="#sb" x="123.3" y="244.1"/>
<use href="#sb" x="123.6" y="244.5"/>
<use href="#sb" x="126.5" y="245.1"/>
<use href="#sb" x="123.2" y="245.2"/>
<use href="#sb" x="122" y="245.4"/>
<use href="#sb" x="122.9" y="245.9"/>
<use href="#sb" x="120.7" y="246"/>
<use href="#sb" x="123.3" y="246.3"/>
<use href="#sb" x="123.1" y="246.4"/>
<use href="#sb" x="124.8" y="246.9"/>
<use href="#sb" x="118.2" y="247.9"/>
<use href="#sb" x="120.9" y="247.9"/>
<use href="#sb" x="121.3" y="248.6"/>
<use href="#sb" x="124.1" y="249"/>
<use href="#sb" x="120.8" y="250.4"/>
<use href="#sb" x="117.3" y="252.6"/>
<use href="#sb" x="123.9" y="252.8"/>
<use href="#sb" x="121.1" y="253.7"/>
<use href="#sb" x="124.2" y="253.7"/>
<use href="#sb" x="123.1" y="254.1"/>
<use href="#sg" x="110.6" y="251.6"/>
<use href="#sb" x="123.2" y="254.6"/>
<use href="#sb" x="120.1" y="254.7"/>
<use href="#sb" x="121.9" y="254.9"/>
<use href="#sb" x="120.5" y="255.9"/>
<use href="#sb" x="123.7" y="256.1"/>
<use href="#sg" x="109.4" y="253.1"/>
<use href="#sb" x="125.7" y="256.3"/>
<use href="#sg" x="100.5" y="253.4"/>
<use href="#sg" x="104.2" y="253.4"/>
<use href="#sg" x="114.1" y="253.4"/>
<use href="#sg" x="105.7" y="253.6"/>
<use href="#sb" x="125.2" y="256.9"/>
<use href="#sb" x="121.2" y="257.2"/>
<use href="#sb" x="118.9" y="257.4"/>
<use href="#sg" x="111.6" y="254.6"/>
<use href="#sg" x="108.5" y="254.6"/>
<use href="#sg" x="109.5" y="254.8"/>
<use href="#sg" x="116" y="255"/>
<use href="#sg" x="111.1" y="255"/>
<use href="#sg" x="110.8" y="255"/>
<use href="#sg" x="108.3" y="255"/>
<use href="#sg" x="106" y="255.1"/>
<use href="#sg" x="111.9" y="255.1"/>
<use href="#sb" x="119.7" y="258.2"/>
<use href="#sg" x="112.1" y="255.2"/>
<use href="#sg" x="112.1" y="255.4"/>
<use href="#sg" x="103.4" y="255.5"/>
<use href="#sb" x="115" y="258.5"/>
<use href="#sb" x="120.7" y="258.9"/>
<use href="#sg" x="115.8" y="255.9"/>
<use href="#sg" x="115.3" y="256"/>
<use href="#sb" x="122.2" y="259.3"/>
<use href="#sg" x="105.3" y="256.3"/>
<use href="#sg" x="103.5" y="256.4"/>
<use href="#sg" x="107.7" y="256.5"/>
<use href="#sg" x="116.3" y="256.5"/>
<use href="#sg" x="104.2" y="256.7"/>
<use href="#sg" x="111.2" y="256.8"/>
<use href="#sg" x="112.8" y="256.8"/>
<use href="#sg" x="102.1" y="256.8"/>
<use href="#sg" x="110.4" y="256.8"/>
<use href="#sg" x="105" y="256.9"/>
<use href="#sg" x="118" y="256.9"/>
<use href="#sg" x="101.7" y="256.9"/>
<use href="#sg" x="104.3" y="257.1"/>
<use href="#sb" x="119.1" y="260.2"/>
<use href="#sg" x="119.3" y="257.2"/>
<use href="#sg" x="110" y="257.4"/>
<use href="#sb" x="120.7" y="260.5"/>
<use href="#sb" x="118.8" y="260.6"/>
<use href="#sg" x="109.9" y="257.6"/>
<use href="#sg" x="105.8" y="257.9"/>
<use href="#sg" x="119.7" y="258"/>
<use href="#sg" x="108.5" y="258.1"/>
<use href="#sg" x="103.5" y="258.2"/>
<use href="#sg" x="106.4" y="258.2"/>
<use href="#sg" x="115.5" y="258.4"/>
<use href="#sg" x="118.8" y="258.6"/>
<use href="#sg" x="116.6" y="258.6"/>
<use href="#sb" x="122.7" y="261.6"/>
<use href="#sg" x="101.4" y="258.6"/>
<use href="#sg" x="108.5" y="258.7"/>
<use href="#sg" x="105.8" y="258.8"/>
<use href="#sg" x="112.1" y="258.9"/>
<use href="#sg" x="102" y="259"/>
<use href="#sb" x="119.6" y="262.1"/>
<use href="#sg" x="119.8" y="259.1"/>
<use href="#sg" x="108.4" y="259.2"/>
<use href="#sg" x="101.3" y="259.3"/>
<use href="#sg" x="106.1" y="259.4"/>
<use href="#sg" x="102.9" y="259.4"/>
<use href="#sg" x="108" y="259.4"/>
<use href="#sg" x="100.5" y="259.5"/>
<use href="#sg" x="101.7" y="259.5"/>
<use href="#sg" x="121.3" y="259.6"/>
<use href="#sg" x="108" y="259.8"/>
<use href="#sg" x="102.8" y="259.9"/>
<use href="#sg" x="115.1" y="260"/>
<use href="#sg" x="105.1" y="260"/>
<use href="#sb" x="124.3" y="263.2"/>
<use href="#sg" x="112.7" y="260.2"/>
<use href="#sg" x="115.9" y="260.3"/>
<use href="#sg" x="101.5" y="260.3"/>
<use href="#sg" x="104.6" y="260.4"/>
<use href="#sb" x="121.2" y="263.4"/>
<use href="#sg" x="101.9" y="260.5"/>
<use href="#sg" x="114.9" y="260.6"/>
<use href="#sg" x="103.4" y="260.8"/>
<use href="#sg" x="106.2" y="261.1"/>
<use href="#sg" x="116.6" y="261.2"/>
<use href="#sg" x="114.9" y="261.2"/>
<use href="#sg" x="104.8" y="261.3"/>
<use href="#sb" x="123" y="264.3"/>
<use href="#sg" x="109" y="261.3"/>
<use href="#sg" x="105.1" y="261.4"/>
<use href="#sg" x="111.4" y="261.4"/>
<use href="#sg" x="103.9" y="261.4"/>
<use href="#sg" x="100.6" y="261.4"/>
<use href="#sg" x="105.6" y="261.5"/>
<use href="#sg" x="110.5" y="261.6"/>
<use href="#sg" x="101.5" y="261.7"/>
<use href="#sg" x="101.4" y="261.7"/>
<use href="#sg" x="115.1" y="261.7"/>
<use href="#sb" x="117.8" y="264.9"/>
<use href="#sg" x="115.6" y="261.9"/>
<use href="#sb" x="120.9" y="265.2"/>
<use href="#sb" x="122" y="265.4"/>
<use href="#sg" x="102.9" y="262.5"/>
<use href="#sg" x="115" y="262.8"/>
<use href="#sg" x="121.2" y="262.8"/>
<use href="#sb" x="121" y="265.8"/>
<use href="#sb" x="117.7" y="265.8"/>
<use href="#sg" x="114.5" y="262.9"/>
<use href="#sg" x="112.8" y="263"/>
<use href="#sg" x="107.9" y="263.1"/>
<use href="#sg" x="105.5" y="263.1"/>
<use href="#sg" x="108.7" y="263.1"/>
<use href="#sg" x="122.4" y="263.1"/>
<use href="#sg" x="104.5" y="263.3"/>
<use href="#sg" x="102.4" y="263.3"/>
<use href="#sg" x="103.8" y="263.4"/>
<use href="#sg" x="118.7" y="263.5"/>
<use href="#sg" x="107.1" y="263.6"/>
<use href="#sg" x="119.8" y="263.6"/>
<use href="#sg" x="106.8" y="263.9"/>
<use href="#sg" x="106.8" y="264"/>
<use href="#sg" x="124.1" y="264.1"/>
<use href="#sg" x="119.5" y="264.1"/>
<use href="#sg" x="113" y="264.1"/>
<use href="#sg" x="118.5" y="264.2"/>
<use href="#sg" x="120.5" y="264.3"/>
<use href="#sb" x="123" y="267.5"/>
<use href="#sg" x="107.6" y="264.6"/>
<use href="#sb" x="117.3" y="267.6"/>
<use href="#sg" x="121.7" y="264.6"/>
<use href="#sg" x="114.6" y="264.7"/>
<use href="#sg" x="118.8" y="264.9"/>
<use href="#sg" x="111" y="264.9"/>
<use href="#sg" x="113.1" y="265"/>
<use href="#sg" x="115.2" y="265.1"/>
<use href="#sg" x="114.1" y="265.1"/>
<use href="#sg" x="110.3" y="265.2"/>
<use href="#sg" x="107.4" y="265.4"/>
<use href="#sb" x="122.7" y="268.5"/>
<use href="#sg" x="119.7" y="265.5"/>
<use href="#sg" x="120.5" y="265.5"/>
<use href="#sg" x="111.4" y="265.6"/>
<use href="#sg" x="109.8" y="265.6"/>
<use href="#sg" x="121.1" y="265.6"/>
<use href="#sg" x="114.3" y="265.8"/>
<use href="#sg" x="122" y="266"/>
<use href="#sg" x="122" y="266.1"/>
<use href="#sg" x="108.6" y="266.1"/>
<use href="#sb" x="119" y="269.2"/>
<use href="#sg" x="110.7" y="266.3"/>
<use href="#sg" x="112.3" y="266.5"/>
<use href="#sg" x="121.5" y="266.5"/>
<use href="#sg" x="124.1" y="266.5"/>
<use href="#sg" x="117" y="266.6"/>
<use href="#sg" x="119.2" y="266.6"/>
<use href="#sb" x="121.7" y="269.7"/>
<use href="#sg" x="101.3" y="267"/>
<use href="#sg" x="104.5" y="267.1"/>
<use href="#sg" x="102.6" y="267.1"/>
<use href="#sg" x="117.6" y="267.1"/>
<use href="#sg" x="108.8" y="267.2"/>
<use href="#sg" x="114.7" y="267.6"/>
<use href="#sg" x="115.7" y="267.8"/>
<use href="#sg" x="111.7" y="267.9"/>
<use href="#sg" x="108.7" y="268.2"/>
<use href="#sb" x="120.7" y="271.5"/>
<use href="#sg" x="110" y="268.5"/>
<use href="#sb" x="116.4" y="271.6"/>
<use href="#sb" x="118.6" y="271.7"/>
<use href="#sg" x="111" y="268.8"/>
<use href="#sb" x="117.3" y="271.9"/>
<use href="#sg" x="107.5" y="269"/>
<use href="#sg" x="113.6" y="269.5"/>
<use href="#sg" x="114" y="269.6"/>
<use href="#sb" x="118.7" y="272.7"/>
<use href="#sg" x="120.1" y="269.7"/>
<use href="#sg" x="119" y="269.8"/>
<use href="#sg" x="114.8" y="269.9"/>
<use href="#sg" x="116.3" y="270.2"/>
<use href="#sg" x="117.6" y="270.4"/>
<use href="#sb" x="121.1" y="274.3"/>
<use href="#sb" x="119.8" y="274.8"/>
<use href="#sb" x="115.8" y="274.9"/>
<use href="#sb" x="119.3" y="276.1"/>
<use href="#sb" x="115.7" y="277.1"/>
<use href="#sb" x="117.4" y="277.3"/>
<use href="#sb" x="120.1" y="277.5"/>
<use href="#sb" x="115.7" y="277.5"/>
<use href="#sb" x="120.3" y="277.6"/>
<use href="#sb" x="120.7" y="277.9"/>
<use href="#sg" x="120.1" y="275"/>
<use href="#sg" x="118.8" y="275.4"/>
<use href="#sb" x="121.3" y="278.4"/>
<use href="#sb" x="105" y="278.6"/>
<use href="#sg" x="120.3" y="275.6"/>
<use href="#sg" x="120.4" y="275.9"/>
<use href="#sg" x="119.5" y="275.9"/>
<use href="#sg" x="122.2" y="276.5"/>
<use href="#sg" x="121" y="276.6"/>
<use href="#sb" x="121.2" y="279.9"/>
<use href="#sg" x="120.7" y="277.2"/>
<use href="#sb" x="117.1" y="280.7"/>
<use href="#sb" x="117" y="280.9"/>
<use href="#sb" x="117.3" y="281"/>
<use href="#sb" x="120" y="281.7"/>
<use href="#sb" x="106.7" y="281.8"/>
<use href="#sb" x="117.6" y="281.9"/>
<use href="#sb" x="120.4" y="282.3"/>
<use href="#sg" x="120.8" y="279.5"/>
<use href="#sb" x="121.4" y="283.1"/>
<use href="#sb" x="111.5" y="283.4"/>
<use href="#sb" x="119.3" y="283.5"/>
<use href="#sb" x="120.3" y="283.6"/>
<use href="#sg" x="123.6" y="280.7"/>
<use href="#sg" x="123.2" y="281.3"/>
<use href="#sb" x="117.5" y="284.7"/>
<use href="#sb" x="119.5" y="284.8"/>
<use href="#sb" x="116.5" y="285.4"/>
<use href="#sb" x="115.7" y="285.5"/>
<use href="#sb" x="116.6" y="286.7"/>
<use href="#sb" x="115.7" y="287.3"/>
<use href="#sb" x="120.3" y="287.5"/>
<use href="#sg" x="125.9" y="284.6"/>
<use href="#sb" x="112.8" y="288.2"/>
<use href="#sb" x="114.8" y="288.3"/>
<use href="#sg" x="128.2" y="285.7"/>
<use href="#sg" x="123.9" y="285.9"/>
<use href="#sg" x="124.1" y="285.9"/>
<use href="#sb" x="117.3" y="289.4"/>
<use href="#sb" x="113.8" y="290.2"/>
<use href="#sb" x="117" y="290.7"/>
<use href="#sb" x="115.2" y="291.1"/>
<use href="#sb" x="112.7" y="291.1"/>
<use href="#sg" x="125.8" y="288.7"/>
<use href="#sb" x="114" y="294.8"/>
<use href="#sb" x="107.5" y="298"/>
<use href="#sb" x="113" y="299.5"/>
<line x1="433.14" y1="296.79" x2="432.6" y2="208.52" stroke="#dadada" stroke-width="0.6" />
<line x1="465.25" y1="292.95" x2="465.19" y2="204.46" stroke="#dadada" stroke-width="0.6" />
<line x1="416.56" y1="283.26" x2="495.07" y2="273.82" stroke="#dadada" stroke-width="0.6" />
<line x1="416.44" y1="270.42" x2="495.13" y2="260.89" stroke="#dadada" stroke-width="0.6" />
<line x1="416.33" y1="257.58" x2="495.19" y2="247.97" stroke="#dadada" stroke-width="0.6" />
<line x1="416.21" y1="244.73" x2="495.25" y2="235.04" stroke="#dadada" stroke-width="0.6" />
<line x1="416.09" y1="231.89" x2="495.3" y2="222.12" stroke="#dadada" stroke-width="0.6" />
<line x1="415.98" y1="219.04" x2="495.36" y2="209.2" stroke="#dadada" stroke-width="0.6" />
<line x1="508.37" y1="295.22" x2="509.09" y2="205.82" stroke="#dadada" stroke-width="0.6" />
<line x1="521.26" y1="300.84" x2="522.3" y2="210.76" stroke="#dadada" stroke-width="0.6" />
<line x1="534.15" y1="306.46" x2="535.5" y2="215.71" stroke="#dadada" stroke-width="0.6" />
<line x1="495.07" y1="273.82" x2="543.02" y2="294.18" stroke="#dadada" stroke-width="0.6" />
<line x1="495.13" y1="260.89" x2="543.25" y2="280.89" stroke="#dadada" stroke-width="0.6" />
<line x1="495.19" y1="247.97" x2="543.47" y2="267.6" stroke="#dadada" stroke-width="0.6" />
<line x1="495.25" y1="235.04" x2="543.7" y2="254.31" stroke="#dadada" stroke-width="0.6" />
<line x1="495.3" y1="222.12" x2="543.93" y2="241.02" stroke="#dadada" stroke-width="0.6" />
<line x1="495.36" y1="209.2" x2="544.15" y2="227.74" stroke="#dadada" stroke-width="0.6" />
<line x1="433.14" y1="296.79" x2="478.96" y2="321.73" stroke="#dadada" stroke-width="0.6" />
<line x1="465.25" y1="292.95" x2="512.07" y2="315.75" stroke="#dadada" stroke-width="0.6" />
<line x1="423.04" y1="302.4" x2="501.69" y2="292.31" stroke="#dadada" stroke-width="0.6" />
<line x1="429.38" y1="306.04" x2="508.37" y2="295.22" stroke="#dadada" stroke-width="0.6" />
<line x1="435.27" y1="309.43" x2="514.58" y2="297.93" stroke="#dadada" stroke-width="0.6" />
<line x1="441.62" y1="313.08" x2="521.26" y2="300.84" stroke="#dadada" stroke-width="0.6" />
<line x1="447.5" y1="316.46" x2="527.47" y2="303.54" stroke="#dadada" stroke-width="0.6" />
<line x1="453.85" y1="320.11" x2="534.15" y2="306.46" stroke="#dadada" stroke-width="0.6" />
<line x1="459.74" y1="323.5" x2="540.36" y2="309.16" stroke="#dadada" stroke-width="0.6" />
<line x1="416.7" y1="298.75" x2="415.9" y2="210.6" stroke="#111" stroke-width="1.5" stroke-linecap="round"/>
<line x1="415.9" y1="210.6" x2="495.4" y2="200.7" stroke="#111" stroke-width="1.5" stroke-linecap="round"/>
<line x1="495.4" y1="200.7" x2="544.3" y2="219" stroke="#111" stroke-width="1.5" stroke-linecap="round"/>
<line x1="544.3" y1="219" x2="542.75" y2="310.2" stroke="#111" stroke-width="1.5" stroke-linecap="round"/>
<line x1="542.75" y1="310.2" x2="462" y2="324.8" stroke="#111" stroke-width="1.5" stroke-linecap="round"/>
<line x1="462" y1="324.8" x2="416.7" y2="298.75" stroke="#111" stroke-width="1.5" stroke-linecap="round"/>
<line x1="416.7" y1="298.75" x2="495" y2="289.4" stroke="#111" stroke-width="1.0" stroke-linecap="round"/>
<line x1="495" y1="289.4" x2="542.75" y2="310.2" stroke="#111" stroke-width="1.0" stroke-linecap="round"/>
<line x1="495" y1="289.4" x2="495.4" y2="200.7" stroke="#111" stroke-width="1.0" stroke-linecap="round"/>
<line x1="543" y1="227.8" x2="544.9" y2="227.8" stroke="#222" stroke-width="0.7" />
<text transform="translate(546.2,231.4) scale(0.72,1)" font-size="10" fill="#222">3</text>
<line x1="542.78" y1="241.08" x2="544.68" y2="241.08" stroke="#222" stroke-width="0.7" />
<text transform="translate(546,244.7) scale(0.72,1)" font-size="10" fill="#222">2</text>
<line x1="542.56" y1="254.36" x2="544.46" y2="254.36" stroke="#222" stroke-width="0.7" />
<text transform="translate(545.8,258) scale(0.72,1)" font-size="10" fill="#222">1</text>
<line x1="542.34" y1="267.64" x2="544.24" y2="267.64" stroke="#222" stroke-width="0.7" />
<text transform="translate(545.5,271.2) scale(0.72,1)" font-size="10" fill="#222">0</text>
<line x1="542.12" y1="280.92" x2="544.02" y2="280.92" stroke="#222" stroke-width="0.7" />
<text transform="translate(545.3,284.5) scale(0.72,1)" font-size="10" fill="#222">-1</text>
<line x1="541.9" y1="294.2" x2="543.8" y2="294.2" stroke="#222" stroke-width="0.7" />
<text transform="translate(545.1,297.8) scale(0.72,1)" font-size="10" fill="#222">-2</text>
<line x1="541.68" y1="307.48" x2="543.58" y2="307.48" stroke="#222" stroke-width="0.7" />
<text transform="translate(544.9,311.1) scale(0.72,1)" font-size="10" fill="#222">-3</text>
<text transform="translate(539.2,198.8) scale(0.87,1)" font-size="11" text-anchor="middle">MDA</text>
<text transform="translate(409.8,300.4) rotate(120) scale(0.7,1)" font-size="7.5" fill="#444" text-anchor="middle">3</text>
<text transform="translate(417.3,304.5) rotate(120) scale(0.7,1)" font-size="7.5" fill="#444" text-anchor="middle">2</text>
<text transform="translate(425.4,309.1) rotate(120) scale(0.7,1)" font-size="7.5" fill="#444" text-anchor="middle">1</text>
<text transform="translate(432.4,313.7) rotate(120) scale(0.7,1)" font-size="7.5" fill="#444" text-anchor="middle">0</text>
<text transform="translate(438.7,318.9) rotate(120) scale(0.7,1)" font-size="7.5" fill="#444" text-anchor="middle">-1</text>
<text transform="translate(449.1,324.1) rotate(120) scale(0.7,1)" font-size="7.5" fill="#444" text-anchor="middle">-2</text>
<text transform="translate(482.8,325.5) rotate(80) scale(0.7,1)" font-size="7.5" fill="#444" text-anchor="middle">-1</text>
<text transform="translate(514,318.5) rotate(80) scale(0.7,1)" font-size="7.5" fill="#444" text-anchor="middle">0</text>
<text transform="translate(521.5,330.2) rotate(-16) skewX(28) scale(1.05,0.72)" font-size="11.5" fill="#333" text-anchor="middle">PC1</text>
<text transform="translate(407.5,319.5) rotate(33) skewX(-20) scale(1,0.75)" font-size="11.5" fill="#333" text-anchor="middle">PC2</text>
<text transform="translate(566.4,273.6) rotate(-90) scale(1.25,1)" font-size="11" font-style="italic" fill="#111" text-anchor="middle">PC3</text>
<use href="#sr" x="430.7" y="222"/>
<use href="#sr" x="430.7" y="228.5"/>
<use href="#sr" x="425.1" y="233.1"/>
<use href="#sr" x="452.6" y="234.9"/>
<use href="#sr" x="427.6" y="237"/>
<use href="#sr" x="441.3" y="242.1"/>
<use href="#sr" x="451.5" y="243.6"/>
<use href="#sr" x="463.2" y="244.9"/>
<use href="#sr" x="464.6" y="246.2"/>
<use href="#sr" x="462.2" y="246.5"/>
<use href="#sr" x="457.8" y="246.5"/>
<use href="#sr" x="451.7" y="247.3"/>
<use href="#sr" x="461.4" y="247.3"/>
<use href="#sr" x="455.9" y="247.7"/>
<use href="#sr" x="464.6" y="247.7"/>
<use href="#sr" x="449.8" y="248.4"/>
<use href="#sr" x="454.2" y="249"/>
<use href="#sr" x="448.5" y="249.2"/>
<use href="#sr" x="467.5" y="249.3"/>
<use href="#sr" x="455.9" y="249.3"/>
<use href="#sr" x="455.4" y="249.5"/>
<use href="#sr" x="467.2" y="249.5"/>
<use href="#sr" x="464.7" y="249.9"/>
<use href="#sr" x="463" y="249.9"/>
<use href="#sr" x="454.3" y="250"/>
<use href="#sr" x="454" y="250.4"/>
<use href="#sr" x="458.7" y="250.6"/>
<use href="#sr" x="449.9" y="250.7"/>
<use href="#sr" x="447.8" y="251"/>
<use href="#sr" x="453.4" y="251.1"/>
<use href="#sr" x="459" y="251.2"/>
<use href="#sr" x="471.6" y="251.3"/>
<use href="#sr" x="459.1" y="251.9"/>
<use href="#sr" x="444" y="252"/>
<use href="#sr" x="450.3" y="252"/>
<use href="#sr" x="458.6" y="252.1"/>
<use href="#sr" x="464.2" y="252.1"/>
<use href="#sr" x="455.4" y="252.2"/>
<use href="#sr" x="455.2" y="252.4"/>
<use href="#sr" x="461.3" y="252.5"/>
<use href="#sr" x="452.6" y="253"/>
<use href="#sr" x="464.8" y="253.1"/>
<use href="#sr" x="460.1" y="253.1"/>
<use href="#sr" x="454.5" y="253.3"/>
<use href="#sr" x="470.8" y="253.6"/>
<use href="#sr" x="451.5" y="253.7"/>
<use href="#sr" x="449.6" y="254"/>
<use href="#sr" x="470.5" y="254.3"/>
<use href="#sr" x="455.2" y="254.7"/>
<use href="#sr" x="462.3" y="254.9"/>
<use href="#sr" x="453.2" y="255.1"/>
<use href="#sr" x="451.2" y="255.3"/>
<use href="#sr" x="462.7" y="255.3"/>
<use href="#sr" x="472.3" y="255.4"/>
<use href="#sr" x="467.6" y="255.5"/>
<use href="#sr" x="452.7" y="255.6"/>
<use href="#sr" x="454.8" y="255.7"/>
<use href="#sr" x="469.6" y="255.8"/>
<use href="#sr" x="467.5" y="256"/>
<use href="#sr" x="452" y="256.2"/>
<use href="#sr" x="459.6" y="256.3"/>
<use href="#sr" x="451.2" y="256.3"/>
<use href="#sr" x="456.3" y="256.5"/>
<use href="#sr" x="451.7" y="256.5"/>
<use href="#sr" x="448.9" y="256.6"/>
<use href="#sr" x="457.4" y="256.7"/>
<use href="#sr" x="464.4" y="256.8"/>
<use href="#sr" x="458.4" y="256.8"/>
<use href="#sr" x="446" y="257"/>
<use href="#sr" x="449.9" y="257"/>
<use href="#sr" x="471.7" y="257.1"/>
<use href="#sr" x="451.5" y="257.1"/>
<use href="#sr" x="462.5" y="257.3"/>
<use href="#sr" x="468.6" y="257.3"/>
<use href="#sr" x="476" y="257.5"/>
<use href="#sr" x="471.3" y="257.5"/>
<use href="#sr" x="460.6" y="257.6"/>
<use href="#sr" x="461" y="257.8"/>
<use href="#sr" x="465.9" y="257.8"/>
<use href="#sr" x="465.6" y="257.9"/>
<use href="#sr" x="466.1" y="258.4"/>
<use href="#sr" x="460.1" y="258.6"/>
<use href="#sr" x="465.8" y="258.6"/>
<use href="#sr" x="462.3" y="258.8"/>
<use href="#sr" x="472.5" y="258.8"/>
<use href="#sr" x="473.9" y="258.9"/>
<use href="#sr" x="468.9" y="259"/>
<use href="#sr" x="458.7" y="259.5"/>
<use href="#sr" x="471.8" y="259.7"/>
<use href="#sr" x="462.1" y="259.7"/>
<use href="#sr" x="457.5" y="259.8"/>
<use href="#sr" x="459" y="259.9"/>
<use href="#sr" x="468.9" y="260"/>
<use href="#sr" x="459.7" y="260.1"/>
<use href="#sr" x="464.2" y="260.2"/>
<use href="#sr" x="475.3" y="260.4"/>
<use href="#sr" x="457.3" y="260.4"/>
<use href="#sr" x="467.2" y="260.6"/>
<use href="#sr" x="475.2" y="260.7"/>
<use href="#sr" x="474.4" y="260.8"/>
<use href="#sr" x="467.2" y="260.9"/>
<use href="#sr" x="464.8" y="261"/>
<use href="#sr" x="476.2" y="261.2"/>
<use href="#sr" x="479.2" y="261.2"/>
<use href="#sr" x="454.6" y="261.2"/>
<use href="#sr" x="459.4" y="261.3"/>
<use href="#sr" x="469.2" y="261.3"/>
<use href="#sr" x="458.5" y="261.4"/>
<use href="#sr" x="465" y="261.8"/>
<use href="#sr" x="464.9" y="261.8"/>
<use href="#sr" x="472.9" y="262"/>
<use href="#sr" x="476.8" y="262"/>
<use href="#sr" x="473.5" y="262.2"/>
<use href="#sr" x="473.9" y="262.3"/>
<use href="#sr" x="446.5" y="262.4"/>
<use href="#sr" x="477.4" y="262.6"/>
<use href="#sr" x="474" y="262.8"/>
<use href="#sr" x="451.3" y="262.9"/>
<use href="#sr" x="470.9" y="263.1"/>
<use href="#sr" x="463.8" y="263.1"/>
<use href="#sr" x="469.4" y="263.5"/>
<use href="#sr" x="480" y="263.7"/>
<use href="#sr" x="476.2" y="263.8"/>
<use href="#sr" x="452.4" y="263.9"/>
<use href="#sr" x="463.7" y="264.9"/>
<use href="#sr" x="479.1" y="265.3"/>
<use href="#sr" x="463.8" y="265.4"/>
<use href="#sr" x="474.3" y="265.6"/>
<use href="#sr" x="455.1" y="265.7"/>
<use href="#sr" x="480.7" y="265.9"/>
<use href="#sr" x="470.2" y="266"/>
<use href="#sr" x="458.9" y="266.1"/>
<use href="#sr" x="481.2" y="266.1"/>
<use href="#sr" x="475.6" y="266.2"/>
<use href="#sr" x="460.7" y="266.2"/>
<use href="#sr" x="449.9" y="266.3"/>
<use href="#sr" x="472.3" y="266.3"/>
<use href="#sr" x="471.9" y="266.3"/>
<use href="#sr" x="455.7" y="266.4"/>
<use href="#sr" x="453" y="266.7"/>
<use href="#sr" x="477.8" y="267"/>
<use href="#sr" x="483.5" y="267.1"/>
<use href="#sr" x="479.9" y="267.1"/>
<use href="#sr" x="477.7" y="267.2"/>
<use href="#sr" x="471.4" y="267.3"/>
<use href="#sr" x="444.7" y="267.3"/>
<use href="#sr" x="463.8" y="267.5"/>
<use href="#sr" x="464.4" y="267.7"/>
<use href="#sr" x="477.1" y="267.9"/>
<use href="#sr" x="479.7" y="268.3"/>
<use href="#sr" x="445.5" y="268.3"/>
<use href="#sr" x="460.9" y="268.4"/>
<use href="#sr" x="468.9" y="268.4"/>
<use href="#sr" x="467.7" y="268.4"/>
<use href="#sr" x="461.6" y="268.5"/>
<use href="#sr" x="468" y="268.6"/>
<use href="#sr" x="469" y="268.7"/>
<use href="#sr" x="476" y="269"/>
<use href="#sr" x="458.5" y="269.1"/>
<use href="#sr" x="464.1" y="269.3"/>
<use href="#sr" x="471.8" y="269.5"/>
<use href="#sr" x="477.1" y="269.6"/>
<use href="#sr" x="471.6" y="269.9"/>
<use href="#sr" x="478.1" y="270"/>
<use href="#sr" x="456.6" y="270.1"/>
<use href="#sr" x="462.7" y="270.3"/>
<use href="#sr" x="448.1" y="270.3"/>
<use href="#sr" x="472.7" y="270.5"/>
<use href="#sr" x="457.1" y="270.7"/>
<use href="#sr" x="451.1" y="270.8"/>
<use href="#sr" x="466.6" y="270.9"/>
<use href="#sr" x="460.1" y="271"/>
<use href="#sr" x="451.7" y="271.1"/>
<use href="#sr" x="468.9" y="271.4"/>
<use href="#sr" x="485.1" y="271.5"/>
<use href="#sr" x="475.3" y="271.8"/>
<use href="#sr" x="462.1" y="271.8"/>
<use href="#sr" x="472.3" y="271.8"/>
<use href="#sr" x="471.6" y="272"/>
<use href="#sr" x="455.7" y="272.1"/>
<use href="#sr" x="482.8" y="272.3"/>
<use href="#sr" x="478.2" y="272.3"/>
<use href="#sr" x="483.8" y="272.5"/>
<use href="#sr" x="471.8" y="272.5"/>
<use href="#sr" x="447.4" y="272.5"/>
<use href="#sr" x="481.9" y="272.7"/>
<use href="#sr" x="463.6" y="272.8"/>
<use href="#sr" x="448.2" y="272.8"/>
<use href="#sr" x="477" y="273"/>
<use href="#sr" x="473.9" y="273"/>
<use href="#sr" x="457.7" y="273.1"/>
<use href="#sr" x="461.8" y="273.1"/>
<use href="#sr" x="459" y="273.2"/>
<use href="#sr" x="466.7" y="273.4"/>
<use href="#sr" x="471.7" y="273.5"/>
<use href="#sr" x="479.7" y="273.6"/>
<use href="#sr" x="473.2" y="273.6"/>
<use href="#sr" x="475.2" y="273.7"/>
<use href="#sr" x="447.5" y="274.3"/>
<use href="#sr" x="463.8" y="274.6"/>
<use href="#sr" x="466.7" y="274.9"/>
<use href="#sr" x="453.4" y="275.4"/>
<use href="#sr" x="484.1" y="275.5"/>
<use href="#sr" x="481.9" y="275.6"/>
<use href="#sr" x="478" y="275.7"/>
<use href="#sr" x="486.2" y="276.1"/>
<use href="#sr" x="466" y="276.2"/>
<use href="#sr" x="485.3" y="276.5"/>
<use href="#sr" x="454.4" y="276.5"/>
<use href="#sr" x="456.3" y="276.6"/>
<use href="#sr" x="486" y="276.6"/>
<use href="#sr" x="480.6" y="276.7"/>
<use href="#sr" x="472.2" y="276.7"/>
<use href="#sr" x="454.8" y="276.9"/>
<use href="#sr" x="464.2" y="277.3"/>
<use href="#sr" x="459.5" y="277.3"/>
<use href="#sr" x="483.3" y="277.4"/>
<use href="#sr" x="470.2" y="277.4"/>
<use href="#sr" x="467.3" y="277.4"/>
<use href="#sr" x="479.3" y="277.5"/>
<use href="#sr" x="481.6" y="277.5"/>
<use href="#sr" x="468" y="277.6"/>
<use href="#sr" x="474.8" y="277.7"/>
<use href="#sr" x="460.4" y="277.8"/>
<use href="#sr" x="460" y="278.1"/>
<use href="#sr" x="473.2" y="278.2"/>
<use href="#sr" x="476.1" y="278.4"/>
<use href="#sr" x="458.5" y="278.4"/>
<use href="#sr" x="476.7" y="278.8"/>
<use href="#sr" x="479.9" y="278.8"/>
<use href="#sr" x="478" y="279.1"/>
<use href="#sr" x="482.1" y="279.4"/>
<use href="#sr" x="480.9" y="279.7"/>
<use href="#sr" x="485.9" y="279.9"/>
<use href="#sr" x="475.3" y="280.3"/>
<use href="#sr" x="478.6" y="280.5"/>
<use href="#sr" x="463" y="280.6"/>
<use href="#sr" x="472.3" y="280.9"/>
<use href="#sr" x="459.3" y="281.5"/>
<use href="#sr" x="476.9" y="281.6"/>
<use href="#sr" x="466.6" y="281.8"/>
<use href="#sr" x="472" y="281.8"/>
<use href="#sr" x="480.9" y="282"/>
<use href="#sr" x="475.6" y="282.2"/>
<use href="#sr" x="478.4" y="282.5"/>
<use href="#sr" x="453.4" y="283.5"/>
<use href="#sr" x="465.3" y="283.8"/>
<use href="#sr" x="484.5" y="284"/>
<use href="#sr" x="460.6" y="284.7"/>
<use href="#sr" x="477" y="284.9"/>
<use href="#sr" x="468" y="285.9"/>
<use href="#sr" x="468" y="287.5"/>
<use href="#sr" x="480" y="289"/>
<use href="#sr" x="473.7" y="289.4"/>
<use href="#sr" x="487.4" y="291.5"/>
<use href="#sr" x="485.1" y="300.5"/>
<use href="#sb" x="505.5" y="208.5"/>
<use href="#sb" x="506.3" y="211.5"/>
<use href="#sb" x="509.2" y="214.1"/>
<use href="#sb" x="505.3" y="214.7"/>
<use href="#sb" x="509.1" y="215.2"/>
<use href="#sb" x="509.6" y="215.8"/>
<use href="#sb" x="508.9" y="215.9"/>
<use href="#sb" x="510.1" y="216.4"/>
<use href="#sb" x="506.2" y="216.5"/>
<use href="#sb" x="503.5" y="217"/>
<use href="#sb" x="510.1" y="217.2"/>
<use href="#sb" x="502.6" y="217.7"/>
<use href="#sb" x="509.3" y="218.1"/>
<use href="#sb" x="507.8" y="219.2"/>
<use href="#sb" x="509.5" y="219.7"/>
<use href="#sb" x="506" y="219.8"/>
<use href="#sb" x="509.2" y="220.2"/>
<use href="#sb" x="507.6" y="220.7"/>
<use href="#sb" x="509.1" y="220.8"/>
<use href="#sb" x="506.1" y="221.1"/>
<use href="#sb" x="508.2" y="221.8"/>
<use href="#sb" x="507" y="222.4"/>
<use href="#sb" x="509.2" y="223.4"/>
<use href="#sb" x="505.6" y="223.4"/>
<use href="#sb" x="501" y="223.8"/>
<use href="#sb" x="505.7" y="223.9"/>
<use href="#sb" x="507.1" y="224.2"/>
<use href="#sb" x="508.7" y="224.7"/>
<use href="#sb" x="508.9" y="224.7"/>
<use href="#sb" x="506.3" y="225.7"/>
<use href="#sb" x="508.8" y="225.8"/>
<use href="#sb" x="507.1" y="226"/>
<use href="#sb" x="505.9" y="226.1"/>
<use href="#sb" x="502.6" y="226.4"/>
<use href="#sb" x="508.8" y="226.8"/>
<use href="#sb" x="507.6" y="227.3"/>
<use href="#sb" x="512.1" y="228.7"/>
<use href="#sb" x="507.9" y="229.1"/>
<use href="#sb" x="506.1" y="229.3"/>
<use href="#sb" x="508.8" y="229.4"/>
<use href="#sb" x="504.3" y="229.6"/>
<use href="#sb" x="508.1" y="230"/>
<use href="#sb" x="510.5" y="230.1"/>
<use href="#sb" x="512.1" y="230.3"/>
<use href="#sb" x="504.5" y="230.8"/>
<use href="#sb" x="506.3" y="231"/>
<use href="#sb" x="506.8" y="232.2"/>
<use href="#sb" x="508.8" y="232.9"/>
<use href="#sb" x="506.5" y="232.9"/>
<use href="#sb" x="507.6" y="232.9"/>
<use href="#sb" x="508.3" y="233.9"/>
<use href="#sb" x="510.1" y="234.6"/>
<use href="#sb" x="507.6" y="234.6"/>
<use href="#sb" x="511.9" y="234.8"/>
<use href="#sb" x="505.1" y="235"/>
<use href="#sb" x="503" y="235"/>
<use href="#sb" x="508.6" y="235.6"/>
<use href="#sb" x="504.1" y="236.2"/>
<use href="#sb" x="506.8" y="236.7"/>
<use href="#sb" x="507.3" y="237.7"/>
<use href="#sb" x="507.9" y="238"/>
<use href="#sb" x="507.3" y="240"/>
<use href="#sb" x="504.4" y="240.2"/>
<use href="#sb" x="504.8" y="240.7"/>
<use href="#sb" x="509.4" y="241.2"/>
<use href="#sb" x="508.6" y="241.6"/>
<use href="#sb" x="506.5" y="241.7"/>
<use href="#sb" x="505.1" y="243.2"/>
<use href="#sb" x="507.8" y="243.3"/>
<use href="#sb" x="507.2" y="243.4"/>
<use href="#sb" x="508.8" y="243.4"/>
<use href="#sb" x="504.2" y="243.6"/>
<use href="#sb" x="505.3" y="244.1"/>
<use href="#sb" x="507.3" y="244.1"/>
<use href="#sb" x="507.6" y="244.5"/>
<use href="#sb" x="510.5" y="245.1"/>
<use href="#sb" x="507.2" y="245.2"/>
<use href="#sb" x="506" y="245.4"/>
<use href="#sb" x="506.9" y="245.9"/>
<use href="#sb" x="504.7" y="246"/>
<use href="#sb" x="507.3" y="246.3"/>
<use href="#sb" x="507.1" y="246.4"/>
<use href="#sb" x="508.8" y="246.9"/>
<use href="#sb" x="502.2" y="247.9"/>
<use href="#sb" x="504.9" y="247.9"/>
<use href="#sb" x="505.3" y="248.6"/>
<use href="#sb" x="508.1" y="249"/>
<use href="#sb" x="504.8" y="250.4"/>
<use href="#sb" x="501.3" y="252.6"/>
<use href="#sb" x="507.9" y="252.8"/>
<use href="#sb" x="505.1" y="253.7"/>
<use href="#sb" x="508.2" y="253.7"/>
<use href="#sb" x="507.1" y="254.1"/>
<use href="#sg" x="494.6" y="251.6"/>
<use href="#sb" x="507.2" y="254.6"/>
<use href="#sb" x="504.1" y="254.7"/>
<use href="#sb" x="505.9" y="254.9"/>
<use href="#sb" x="504.5" y="255.9"/>
<use href="#sb" x="507.7" y="256.1"/>
<use href="#sg" x="493.4" y="253.1"/>
<use href="#sb" x="509.7" y="256.3"/>
<use href="#sg" x="484.5" y="253.4"/>
<use href="#sg" x="488.2" y="253.4"/>
<use href="#sg" x="498.1" y="253.4"/>
<use href="#sg" x="489.7" y="253.6"/>
<use href="#sb" x="509.2" y="256.9"/>
<use href="#sb" x="505.2" y="257.2"/>
<use href="#sb" x="502.9" y="257.4"/>
<use href="#sg" x="495.6" y="254.6"/>
<use href="#sg" x="492.5" y="254.6"/>
<use href="#sg" x="493.5" y="254.8"/>
<use href="#sg" x="500" y="255"/>
<use href="#sg" x="495.1" y="255"/>
<use href="#sg" x="494.8" y="255"/>
<use href="#sg" x="492.3" y="255"/>
<use href="#sg" x="490" y="255.1"/>
<use href="#sg" x="495.9" y="255.1"/>
<use href="#sb" x="503.7" y="258.2"/>
<use href="#sg" x="496.1" y="255.2"/>
<use href="#sg" x="496.1" y="255.4"/>
<use href="#sg" x="487.4" y="255.5"/>
<use href="#sb" x="499" y="258.5"/>
<use href="#sb" x="504.7" y="258.9"/>
<use href="#sg" x="499.8" y="255.9"/>
<use href="#sg" x="499.3" y="256"/>
<use href="#sb" x="506.2" y="259.3"/>
<use href="#sg" x="489.3" y="256.3"/>
<use href="#sg" x="487.5" y="256.4"/>
<use href="#sg" x="491.7" y="256.5"/>
<use href="#sg" x="500.3" y="256.5"/>
<use href="#sg" x="488.2" y="256.7"/>
<use href="#sg" x="495.2" y="256.8"/>
<use href="#sg" x="496.8" y="256.8"/>
<use href="#sg" x="486.1" y="256.8"/>
<use href="#sg" x="494.4" y="256.8"/>
<use href="#sg" x="489" y="256.9"/>
<use href="#sg" x="502" y="256.9"/>
<use href="#sg" x="485.7" y="256.9"/>
<use href="#sg" x="488.3" y="257.1"/>
<use href="#sb" x="503.1" y="260.2"/>
<use href="#sg" x="503.3" y="257.2"/>
<use href="#sg" x="494" y="257.4"/>
<use href="#sb" x="504.7" y="260.5"/>
<use href="#sb" x="502.8" y="260.6"/>
<use href="#sg" x="493.9" y="257.6"/>
<use href="#sg" x="489.8" y="257.9"/>
<use href="#sg" x="503.7" y="258"/>
<use href="#sg" x="492.5" y="258.1"/>
<use href="#sg" x="487.5" y="258.2"/>
<use href="#sg" x="490.4" y="258.2"/>
<use href="#sg" x="499.5" y="258.4"/>
<use href="#sg" x="502.8" y="258.6"/>
<use href="#sg" x="500.6" y="258.6"/>
<use href="#sb" x="506.7" y="261.6"/>
<use href="#sg" x="485.4" y="258.6"/>
<use href="#sg" x="492.5" y="258.7"/>
<use href="#sg" x="489.8" y="258.8"/>
<use href="#sg" x="496.1" y="258.9"/>
<use href="#sg" x="486" y="259"/>
<use href="#sb" x="503.6" y="262.1"/>
<use href="#sg" x="503.8" y="259.1"/>
<use href="#sg" x="492.4" y="259.2"/>
<use href="#sg" x="485.3" y="259.3"/>
<use href="#sg" x="490.1" y="259.4"/>
<use href="#sg" x="486.9" y="259.4"/>
<use href="#sg" x="492" y="259.4"/>
<use href="#sg" x="484.5" y="259.5"/>
<use href="#sg" x="485.7" y="259.5"/>
<use href="#sg" x="505.3" y="259.6"/>
<use href="#sg" x="492" y="259.8"/>
<use href="#sg" x="486.8" y="259.9"/>
<use href="#sg" x="499.1" y="260"/>
<use href="#sg" x="489.1" y="260"/>
<use href="#sb" x="508.3" y="263.2"/>
<use href="#sg" x="496.7" y="260.2"/>
<use href="#sg" x="499.9" y="260.3"/>
<use href="#sg" x="485.5" y="260.3"/>
<use href="#sg" x="488.6" y="260.4"/>
<use href="#sb" x="505.2" y="263.4"/>
<use href="#sg" x="485.9" y="260.5"/>
<use href="#sg" x="498.9" y="260.6"/>
<use href="#sg" x="487.4" y="260.8"/>
<use href="#sg" x="490.2" y="261.1"/>
<use href="#sg" x="500.6" y="261.2"/>
<use href="#sg" x="498.9" y="261.2"/>
<use href="#sg" x="488.8" y="261.3"/>
<use href="#sb" x="507" y="264.3"/>
<use href="#sg" x="493" y="261.3"/>
<use href="#sg" x="489.1" y="261.4"/>
<use href="#sg" x="495.4" y="261.4"/>
<use href="#sg" x="487.9" y="261.4"/>
<use href="#sg" x="484.6" y="261.4"/>
<use href="#sg" x="489.6" y="261.5"/>
<use href="#sg" x="494.5" y="261.6"/>
<use href="#sg" x="485.5" y="261.7"/>
<use href="#sg" x="485.4" y="261.7"/>
<use href="#sg" x="499.1" y="261.7"/>
<use href="#sb" x="501.8" y="264.9"/>
<use href="#sg" x="499.6" y="261.9"/>
<use href="#sb" x="504.9" y="265.2"/>
<use href="#sb" x="506" y="265.4"/>
<use href="#sg" x="486.9" y="262.5"/>
<use href="#sg" x="499" y="262.8"/>
<use href="#sg" x="505.2" y="262.8"/>
<use href="#sb" x="505" y="265.8"/>
<use href="#sb" x="501.7" y="265.8"/>
<use href="#sg" x="498.5" y="262.9"/>
<use href="#sg" x="496.8" y="263"/>
<use href="#sg" x="491.9" y="263.1"/>
<use href="#sg" x="489.5" y="263.1"/>
<use href="#sg" x="492.7" y="263.1"/>
<use href="#sg" x="506.4" y="263.1"/>
<use href="#sg" x="488.5" y="263.3"/>
<use href="#sg" x="486.4" y="263.3"/>
<use href="#sg" x="487.8" y="263.4"/>
<use href="#sg" x="502.7" y="263.5"/>
<use href="#sg" x="491.1" y="263.6"/>
<use href="#sg" x="503.8" y="263.6"/>
<use href="#sg" x="490.8" y="263.9"/>
<use href="#sg" x="490.8" y="264"/>
<use href="#sg" x="508.1" y="264.1"/>
<use href="#sg" x="503.5" y="264.1"/>
<use href="#sg" x="497" y="264.1"/>
<use href="#sg" x="502.5" y="264.2"/>
<use href="#sg" x="504.5" y="264.3"/>
<use href="#sb" x="507" y="267.5"/>
<use href="#sg" x="491.6" y="264.6"/>
<use href="#sb" x="501.3" y="267.6"/>
<use href="#sg" x="505.7" y="264.6"/>
<use href="#sg" x="498.6" y="264.7"/>
<use href="#sg" x="502.8" y="264.9"/>
<use href="#sg" x="495" y="264.9"/>
<use href="#sg" x="497.1" y="265"/>
<use href="#sg" x="499.2" y="265.1"/>
<use href="#sg" x="498.1" y="265.1"/>
<use href="#sg" x="494.3" y="265.2"/>
<use href="#sg" x="491.4" y="265.4"/>
<use href="#sb" x="506.7" y="268.5"/>
<use href="#sg" x="503.7" y="265.5"/>
<use href="#sg" x="504.5" y="265.5"/>
<use href="#sg" x="495.4" y="265.6"/>
<use href="#sg" x="493.8" y="265.6"/>
<use href="#sg" x="505.1" y="265.6"/>
<use href="#sg" x="498.3" y="265.8"/>
<use href="#sg" x="506" y="266"/>
<use href="#sg" x="506" y="266.1"/>
<use href="#sg" x="492.6" y="266.1"/>
<use href="#sb" x="503" y="269.2"/>
<use href="#sg" x="494.7" y="266.3"/>
<use href="#sg" x="496.3" y="266.5"/>
<use href="#sg" x="505.5" y="266.5"/>
<use href="#sg" x="508.1" y="266.5"/>
<use href="#sg" x="501" y="266.6"/>
<use href="#sg" x="503.2" y="266.6"/>
<use href="#sb" x="505.7" y="269.7"/>
<use href="#sg" x="485.3" y="267"/>
<use href="#sg" x="488.5" y="267.1"/>
<use href="#sg" x="486.6" y="267.1"/>
<use href="#sg" x="501.6" y="267.1"/>
<use href="#sg" x="492.8" y="267.2"/>
<use href="#sg" x="498.7" y="267.6"/>
<use href="#sg" x="499.7" y="267.8"/>
<use href="#sg" x="495.7" y="267.9"/>
<use href="#sg" x="492.7" y="268.2"/>
<use href="#sb" x="504.7" y="271.5"/>
<use href="#sg" x="494" y="268.5"/>
<use href="#sb" x="500.4" y="271.6"/>
<use href="#sb" x="502.6" y="271.7"/>
<use href="#sg" x="495" y="268.8"/>
<use href="#sb" x="501.3" y="271.9"/>
<use href="#sg" x="491.5" y="269"/>
<use href="#sg" x="497.6" y="269.5"/>
<use href="#sg" x="498" y="269.6"/>
<use href="#sb" x="502.7" y="272.7"/>
<use href="#sg" x="504.1" y="269.7"/>
<use href="#sg" x="503" y="269.8"/>
<use href="#sg" x="498.8" y="269.9"/>
<use href="#sg" x="500.3" y="270.2"/>
<use href="#sg" x="501.6" y="270.4"/>
<use href="#sb" x="505.1" y="274.3"/>
<use href="#sb" x="503.8" y="274.8"/>
<use href="#sb" x="499.8" y="274.9"/>
<use href="#sb" x="503.3" y="276.1"/>
<use href="#sb" x="499.7" y="277.1"/>
<use href="#sb" x="501.4" y="277.3"/>
<use href="#sb" x="504.1" y="277.5"/>
<use href="#sb" x="499.7" y="277.5"/>
<use href="#sb" x="504.3" y="277.6"/>
<use href="#sb" x="504.7" y="277.9"/>
<use href="#sg" x="504.1" y="275"/>
<use href="#sg" x="502.8" y="275.4"/>
<use href="#sb" x="505.3" y="278.4"/>
<use href="#sb" x="489" y="278.6"/>
<use href="#sg" x="504.3" y="275.6"/>
<use href="#sg" x="504.4" y="275.9"/>
<use href="#sg" x="503.5" y="275.9"/>
<use href="#sg" x="506.2" y="276.5"/>
<use href="#sg" x="505" y="276.6"/>
<use href="#sb" x="505.2" y="279.9"/>
<use href="#sg" x="504.7" y="277.2"/>
<use href="#sb" x="501.1" y="280.7"/>
<use href="#sb" x="501" y="280.9"/>
<use href="#sb" x="501.3" y="281"/>
<use href="#sb" x="504" y="281.7"/>
<use href="#sb" x="490.7" y="281.8"/>
<use href="#sb" x="501.6" y="281.9"/>
<use href="#sb" x="504.4" y="282.3"/>
<use href="#sg" x="504.8" y="279.5"/>
<use href="#sb" x="505.4" y="283.1"/>
<use href="#sb" x="495.5" y="283.4"/>
<use href="#sb" x="503.3" y="283.5"/>
<use href="#sb" x="504.3" y="283.6"/>
<use href="#sg" x="507.6" y="280.7"/>
<use href="#sg" x="507.2" y="281.3"/>
<use href="#sb" x="501.5" y="284.7"/>
<use href="#sb" x="503.5" y="284.8"/>
<use href="#sb" x="500.5" y="285.4"/>
<use href="#sb" x="499.7" y="285.5"/>
<use href="#sb" x="500.6" y="286.7"/>
<use href="#sb" x="499.7" y="287.3"/>
<use href="#sb" x="504.3" y="287.5"/>
<use href="#sg" x="509.9" y="284.6"/>
<use href="#sb" x="496.8" y="288.2"/>
<use href="#sb" x="498.8" y="288.3"/>
<use href="#sg" x="512.2" y="285.7"/>
<use href="#sg" x="507.9" y="285.9"/>
<use href="#sg" x="508.1" y="285.9"/>
<use href="#sb" x="501.3" y="289.4"/>
<use href="#sb" x="497.8" y="290.2"/>
<use href="#sb" x="501" y="290.7"/>
<use href="#sb" x="499.2" y="291.1"/>
<use href="#sb" x="496.7" y="291.1"/>
<use href="#sg" x="509.8" y="288.7"/>
<use href="#sb" x="498" y="294.8"/>
<use href="#sb" x="491.5" y="298"/>
<use href="#sb" x="497" y="299.5"/>
<line x1="625.14" y1="296.79" x2="624.6" y2="208.52" stroke="#dadada" stroke-width="0.6" />
<line x1="657.25" y1="292.95" x2="657.19" y2="204.46" stroke="#dadada" stroke-width="0.6" />
<line x1="608.56" y1="283.26" x2="687.07" y2="273.82" stroke="#dadada" stroke-width="0.6" />
<line x1="608.44" y1="270.42" x2="687.13" y2="260.89" stroke="#dadada" stroke-width="0.6" />
<line x1="608.33" y1="257.58" x2="687.19" y2="247.97" stroke="#dadada" stroke-width="0.6" />
<line x1="608.21" y1="244.73" x2="687.25" y2="235.04" stroke="#dadada" stroke-width="0.6" />
<line x1="608.09" y1="231.89" x2="687.3" y2="222.12" stroke="#dadada" stroke-width="0.6" />
<line x1="607.98" y1="219.04" x2="687.36" y2="209.2" stroke="#dadada" stroke-width="0.6" />
<line x1="700.37" y1="295.22" x2="701.09" y2="205.82" stroke="#dadada" stroke-width="0.6" />
<line x1="713.26" y1="300.84" x2="714.3" y2="210.76" stroke="#dadada" stroke-width="0.6" />
<line x1="726.15" y1="306.46" x2="727.5" y2="215.71" stroke="#dadada" stroke-width="0.6" />
<line x1="687.07" y1="273.82" x2="735.02" y2="294.18" stroke="#dadada" stroke-width="0.6" />
<line x1="687.13" y1="260.89" x2="735.25" y2="280.89" stroke="#dadada" stroke-width="0.6" />
<line x1="687.19" y1="247.97" x2="735.47" y2="267.6" stroke="#dadada" stroke-width="0.6" />
<line x1="687.25" y1="235.04" x2="735.7" y2="254.31" stroke="#dadada" stroke-width="0.6" />
<line x1="687.3" y1="222.12" x2="735.93" y2="241.02" stroke="#dadada" stroke-width="0.6" />
<line x1="687.36" y1="209.2" x2="736.15" y2="227.74" stroke="#dadada" stroke-width="0.6" />
<line x1="625.14" y1="296.79" x2="670.96" y2="321.73" stroke="#dadada" stroke-width="0.6" />
<line x1="657.25" y1="292.95" x2="704.07" y2="315.75" stroke="#dadada" stroke-width="0.6" />
<line x1="615.04" y1="302.4" x2="693.68" y2="292.31" stroke="#dadada" stroke-width="0.6" />
<line x1="621.38" y1="306.04" x2="700.37" y2="295.22" stroke="#dadada" stroke-width="0.6" />
<line x1="627.27" y1="309.43" x2="706.58" y2="297.93" stroke="#dadada" stroke-width="0.6" />
<line x1="633.62" y1="313.08" x2="713.26" y2="300.84" stroke="#dadada" stroke-width="0.6" />
<line x1="639.5" y1="316.46" x2="719.47" y2="303.54" stroke="#dadada" stroke-width="0.6" />
<line x1="645.85" y1="320.11" x2="726.15" y2="306.46" stroke="#dadada" stroke-width="0.6" />
<line x1="651.74" y1="323.5" x2="732.36" y2="309.16" stroke="#dadada" stroke-width="0.6" />
<line x1="608.7" y1="298.75" x2="607.9" y2="210.6" stroke="#111" stroke-width="1.5" stroke-linecap="round"/>
<line x1="607.9" y1="210.6" x2="687.4" y2="200.7" stroke="#111" stroke-width="1.5" stroke-linecap="round"/>
<line x1="687.4" y1="200.7" x2="736.3" y2="219" stroke="#111" stroke-width="1.5" stroke-linecap="round"/>
<line x1="736.3" y1="219" x2="734.75" y2="310.2" stroke="#111" stroke-width="1.5" stroke-linecap="round"/>
<line x1="734.75" y1="310.2" x2="654" y2="324.8" stroke="#111" stroke-width="1.5" stroke-linecap="round"/>
<line x1="654" y1="324.8" x2="608.7" y2="298.75" stroke="#111" stroke-width="1.5" stroke-linecap="round"/>
<line x1="608.7" y1="298.75" x2="687" y2="289.4" stroke="#111" stroke-width="1.0" stroke-linecap="round"/>
<line x1="687" y1="289.4" x2="734.75" y2="310.2" stroke="#111" stroke-width="1.0" stroke-linecap="round"/>
<line x1="687" y1="289.4" x2="687.4" y2="200.7" stroke="#111" stroke-width="1.0" stroke-linecap="round"/>
<line x1="735" y1="227.8" x2="736.9" y2="227.8" stroke="#222" stroke-width="0.7" />
<text transform="translate(738.2,231.4) scale(0.72,1)" font-size="10" fill="#222">3</text>
<line x1="734.78" y1="241.08" x2="736.68" y2="241.08" stroke="#222" stroke-width="0.7" />
<text transform="translate(738,244.7) scale(0.72,1)" font-size="10" fill="#222">2</text>
<line x1="734.56" y1="254.36" x2="736.46" y2="254.36" stroke="#222" stroke-width="0.7" />
<text transform="translate(737.8,258) scale(0.72,1)" font-size="10" fill="#222">1</text>
<line x1="734.34" y1="267.64" x2="736.24" y2="267.64" stroke="#222" stroke-width="0.7" />
<text transform="translate(737.5,271.2) scale(0.72,1)" font-size="10" fill="#222">0</text>
<line x1="734.12" y1="280.92" x2="736.02" y2="280.92" stroke="#222" stroke-width="0.7" />
<text transform="translate(737.3,284.5) scale(0.72,1)" font-size="10" fill="#222">-1</text>
<line x1="733.9" y1="294.2" x2="735.8" y2="294.2" stroke="#222" stroke-width="0.7" />
<text transform="translate(737.1,297.8) scale(0.72,1)" font-size="10" fill="#222">-2</text>
<line x1="733.68" y1="307.48" x2="735.58" y2="307.48" stroke="#222" stroke-width="0.7" />
<text transform="translate(736.9,311.1) scale(0.72,1)" font-size="10" fill="#222">-3</text>
<text transform="translate(735.4,198.8) scale(0.87,1)" font-size="11" text-anchor="middle">J48</text>
<text transform="translate(601.8,300.4) rotate(120) scale(0.7,1)" font-size="7.5" fill="#444" text-anchor="middle">3</text>
<text transform="translate(609.3,304.5) rotate(120) scale(0.7,1)" font-size="7.5" fill="#444" text-anchor="middle">2</text>
<text transform="translate(617.4,309.1) rotate(120) scale(0.7,1)" font-size="7.5" fill="#444" text-anchor="middle">1</text>
<text transform="translate(624.4,313.7) rotate(120) scale(0.7,1)" font-size="7.5" fill="#444" text-anchor="middle">0</text>
<text transform="translate(630.7,318.9) rotate(120) scale(0.7,1)" font-size="7.5" fill="#444" text-anchor="middle">-1</text>
<text transform="translate(641.1,324.1) rotate(120) scale(0.7,1)" font-size="7.5" fill="#444" text-anchor="middle">-2</text>
<text transform="translate(674.8,325.5) rotate(80) scale(0.7,1)" font-size="7.5" fill="#444" text-anchor="middle">-1</text>
<text transform="translate(706,318.5) rotate(80) scale(0.7,1)" font-size="7.5" fill="#444" text-anchor="middle">0</text>
<text transform="translate(713.5,330.2) rotate(-16) skewX(28) scale(1.05,0.72)" font-size="11.5" fill="#333" text-anchor="middle">PC1</text>
<text transform="translate(599.5,319.5) rotate(33) skewX(-20) scale(1,0.75)" font-size="11.5" fill="#333" text-anchor="middle">PC2</text>
<text transform="translate(758.4,273.6) rotate(-90) scale(1.25,1)" font-size="11" font-style="italic" fill="#111" text-anchor="middle">PC3</text>
<use href="#sr" x="622.7" y="222"/>
<use href="#sr" x="622.7" y="228.5"/>
<use href="#sr" x="617.1" y="233.1"/>
<use href="#sr" x="644.6" y="234.9"/>
<use href="#sr" x="619.6" y="237"/>
<use href="#sr" x="633.3" y="242.1"/>
<use href="#sr" x="650.4" y="245.7"/>
<use href="#sr" x="653.5" y="247.4"/>
<use href="#sr" x="645.9" y="248"/>
<use href="#sr" x="646" y="248.3"/>
<use href="#sr" x="653.5" y="248.6"/>
<use href="#sr" x="640.4" y="249"/>
<use href="#sr" x="652.5" y="249.3"/>
<use href="#sr" x="650.9" y="249.5"/>
<use href="#sr" x="656.1" y="249.7"/>
<use href="#sr" x="637.3" y="249.7"/>
<use href="#sr" x="647.4" y="249.9"/>
<use href="#sr" x="654.2" y="249.9"/>
<use href="#sr" x="641.1" y="250.2"/>
<use href="#sr" x="641.2" y="250.9"/>
<use href="#sr" x="677.4" y="250.9"/>
<use href="#sr" x="657.3" y="251"/>
<use href="#sr" x="652.1" y="251"/>
<use href="#sr" x="679.2" y="251.2"/>
<use href="#sr" x="647" y="251.4"/>
<use href="#sr" x="645" y="251.6"/>
<use href="#sr" x="659.1" y="251.7"/>
<use href="#sr" x="654.6" y="251.8"/>
<use href="#sr" x="674" y="252"/>
<use href="#sr" x="636" y="252"/>
<use href="#sr" x="657.9" y="252.2"/>
<use href="#sr" x="659.6" y="253.2"/>
<use href="#sr" x="648.6" y="253.4"/>
<use href="#sr" x="652" y="253.4"/>
<use href="#sr" x="641" y="253.4"/>
<use href="#sr" x="646.9" y="253.5"/>
<use href="#sr" x="662.1" y="253.6"/>
<use href="#sr" x="683.3" y="253.6"/>
<use href="#sr" x="663.3" y="253.7"/>
<use href="#sr" x="656.8" y="253.8"/>
<use href="#sr" x="673.4" y="253.8"/>
<use href="#sr" x="640.2" y="253.9"/>
<use href="#sr" x="653.5" y="254.3"/>
<use href="#sr" x="653.6" y="254.3"/>
<use href="#sr" x="657.6" y="254.3"/>
<use href="#sr" x="656.3" y="254.4"/>
<use href="#sr" x="674.9" y="254.5"/>
<use href="#sr" x="665.4" y="254.5"/>
<use href="#sr" x="678.6" y="254.6"/>
<use href="#sr" x="644" y="254.8"/>
<use href="#sr" x="655.8" y="254.8"/>
<use href="#sr" x="683.3" y="255"/>
<use href="#sr" x="650.1" y="255"/>
<use href="#sr" x="658.1" y="255.2"/>
<use href="#sr" x="650.9" y="255.6"/>
<use href="#sr" x="664.5" y="255.6"/>
<use href="#sr" x="663.7" y="255.7"/>
<use href="#sr" x="664.6" y="255.8"/>
<use href="#sr" x="661.6" y="255.8"/>
<use href="#sr" x="652.5" y="256"/>
<use href="#sr" x="661.6" y="256"/>
<use href="#sr" x="654.2" y="256.3"/>
<use href="#sr" x="665.6" y="256.3"/>
<use href="#sr" x="637.6" y="256.5"/>
<use href="#sr" x="654.5" y="256.7"/>
<use href="#sr" x="658.5" y="256.7"/>
<use href="#sr" x="641.8" y="256.7"/>
<use href="#sr" x="653.4" y="256.8"/>
<use href="#sr" x="678.1" y="256.9"/>
<use href="#sr" x="668.5" y="257"/>
<use href="#sr" x="638" y="257"/>
<use href="#sr" x="640.1" y="257"/>
<use href="#sr" x="644.6" y="257"/>
<use href="#sr" x="652.1" y="257.1"/>
<use href="#sr" x="651.6" y="257.2"/>
<use href="#sr" x="649.1" y="257.3"/>
<use href="#sr" x="649.1" y="257.4"/>
<use href="#sr" x="648.9" y="257.7"/>
<use href="#sr" x="645.9" y="257.8"/>
<use href="#sr" x="665.6" y="258"/>
<use href="#sr" x="650.1" y="258"/>
<use href="#sr" x="666" y="258.1"/>
<use href="#sr" x="665" y="258.7"/>
<use href="#sr" x="666.8" y="258.7"/>
<use href="#sr" x="649.8" y="258.7"/>
<use href="#sr" x="656.8" y="258.8"/>
<use href="#sr" x="657.3" y="258.8"/>
<use href="#sr" x="663.1" y="258.9"/>
<use href="#sr" x="653.6" y="259"/>
<use href="#sr" x="642.7" y="259"/>
<use href="#sr" x="647.5" y="259.3"/>
<use href="#sr" x="641.3" y="259.4"/>
<use href="#sr" x="650.8" y="259.5"/>
<use href="#sr" x="683.6" y="260.2"/>
<use href="#sr" x="650.9" y="260.4"/>
<use href="#sr" x="665.8" y="260.6"/>
<use href="#sr" x="683.4" y="260.9"/>
<use href="#sr" x="656.1" y="260.9"/>
<use href="#sr" x="656.7" y="260.9"/>
<use href="#sr" x="665.2" y="261.2"/>
<use href="#sr" x="667.4" y="261.4"/>
<use href="#sr" x="654.5" y="261.5"/>
<use href="#sr" x="665.3" y="261.5"/>
<use href="#sr" x="656.6" y="261.5"/>
<use href="#sr" x="656.1" y="261.5"/>
<use href="#sr" x="637" y="261.6"/>
<use href="#sr" x="654.5" y="261.6"/>
<use href="#sr" x="642.4" y="261.8"/>
<use href="#sr" x="648.3" y="261.9"/>
<use href="#sr" x="653.8" y="262"/>
<use href="#sr" x="666.9" y="262"/>
<use href="#sr" x="664.3" y="262.8"/>
<use href="#sr" x="681.3" y="262.8"/>
<use href="#sr" x="666.7" y="263.1"/>
<use href="#sr" x="631.8" y="263.2"/>
<use href="#sr" x="649.3" y="263.3"/>
<use href="#sr" x="645" y="263.3"/>
<use href="#sr" x="680.6" y="263.3"/>
<use href="#sr" x="665.4" y="263.6"/>
<use href="#sr" x="636.2" y="263.7"/>
<use href="#sr" x="647.8" y="263.8"/>
<use href="#sr" x="649.9" y="263.8"/>
<use href="#sr" x="674" y="263.9"/>
<use href="#sr" x="669" y="264"/>
<use href="#sr" x="652.8" y="264.4"/>
<use href="#sr" x="671.4" y="264.5"/>
<use href="#sr" x="648.1" y="264.6"/>
<use href="#sr" x="674.3" y="264.6"/>
<use href="#sr" x="625.9" y="264.7"/>
<use href="#sr" x="658.4" y="264.7"/>
<use href="#sr" x="652.8" y="264.7"/>
<use href="#sr" x="666.5" y="264.8"/>
<use href="#sr" x="670.8" y="264.8"/>
<use href="#sr" x="650.8" y="265.1"/>
<use href="#sr" x="659.3" y="265.2"/>
<use href="#sr" x="666.9" y="265.2"/>
<use href="#sr" x="659.8" y="265.3"/>
<use href="#sr" x="643.7" y="265.3"/>
<use href="#sr" x="652.5" y="265.4"/>
<use href="#sr" x="676.4" y="266"/>
<use href="#sr" x="650.4" y="266"/>
<use href="#sr" x="645.2" y="266.1"/>
<use href="#sr" x="634.2" y="266.1"/>
<use href="#sr" x="659.5" y="266.2"/>
<use href="#sr" x="670.8" y="266.2"/>
<use href="#sr" x="655.1" y="266.3"/>
<use href="#sr" x="669.1" y="266.4"/>
<use href="#sr" x="653.4" y="266.7"/>
<use href="#sr" x="656.3" y="266.8"/>
<use href="#sr" x="683" y="266.8"/>
<use href="#sr" x="645.8" y="267.2"/>
<use href="#sr" x="639.9" y="267.2"/>
<use href="#sr" x="652.7" y="267.4"/>
<use href="#sr" x="653" y="267.7"/>
<use href="#sr" x="656.4" y="267.9"/>
<use href="#sr" x="661.4" y="267.9"/>
<use href="#sr" x="669.6" y="268.1"/>
<use href="#sr" x="683.7" y="268.1"/>
<use href="#sr" x="673.5" y="268.5"/>
<use href="#sr" x="646.9" y="268.6"/>
<use href="#sr" x="677.1" y="268.6"/>
<use href="#sr" x="652.7" y="268.7"/>
<use href="#sr" x="666.6" y="268.8"/>
<use href="#sr" x="650.5" y="268.9"/>
<use href="#sr" x="647.1" y="268.9"/>
<use href="#sr" x="674.6" y="269.1"/>
<use href="#sr" x="655.4" y="269.2"/>
<use href="#sr" x="665.8" y="269.2"/>
<use href="#sr" x="661.2" y="269.2"/>
<use href="#sr" x="655.5" y="269.7"/>
<use href="#sr" x="652.4" y="269.9"/>
<use href="#sr" x="657.8" y="270"/>
<use href="#sr" x="674.8" y="270"/>
<use href="#sr" x="659.6" y="270.1"/>
<use href="#sr" x="664.4" y="270.5"/>
<use href="#sr" x="653" y="270.7"/>
<use href="#sr" x="649.3" y="270.8"/>
<use href="#sr" x="667.5" y="271"/>
<use href="#sr" x="678.9" y="271"/>
<use href="#sr" x="646.7" y="271.1"/>
<use href="#sr" x="652.5" y="271.3"/>
<use href="#sr" x="648.1" y="271.3"/>
<use href="#sr" x="649.2" y="271.4"/>
<use href="#sr" x="656.6" y="271.4"/>
<use href="#sr" x="671.1" y="271.4"/>
<use href="#sr" x="662.3" y="271.4"/>
<use href="#sr" x="663.6" y="271.6"/>
<use href="#sr" x="658.3" y="271.7"/>
<use href="#sr" x="661.9" y="271.7"/>
<use href="#sr" x="658.6" y="272"/>
<use href="#sr" x="671.5" y="272.1"/>
<use href="#sr" x="646.3" y="272.1"/>
<use href="#sr" x="655.9" y="272.3"/>
<use href="#sr" x="665.8" y="272.3"/>
<use href="#sr" x="676.1" y="272.3"/>
<use href="#sr" x="657.3" y="272.4"/>
<use href="#sr" x="673.2" y="272.6"/>
<use href="#sr" x="656.9" y="272.7"/>
<use href="#sr" x="653.1" y="272.7"/>
<use href="#sr" x="669.8" y="272.8"/>
<use href="#sr" x="667.2" y="272.9"/>
<use href="#sr" x="666.9" y="272.9"/>
<use href="#sr" x="677.2" y="273"/>
<use href="#sr" x="662.2" y="273"/>
<use href="#sr" x="676.8" y="273"/>
<use href="#sr" x="673.7" y="273.3"/>
<use href="#sr" x="646" y="273.3"/>
<use href="#sr" x="658.4" y="273.4"/>
<use href="#sr" x="651.1" y="273.4"/>
<use href="#sr" x="656.5" y="273.4"/>
<use href="#sr" x="656.2" y="273.5"/>
<use href="#sr" x="681.8" y="273.7"/>
<use href="#sr" x="670.4" y="273.7"/>
<use href="#sr" x="674.4" y="273.8"/>
<use href="#sr" x="666.4" y="273.9"/>
<use href="#sr" x="662.2" y="274"/>
<use href="#sr" x="675.3" y="274.1"/>
<use href="#sr" x="663.3" y="274.2"/>
<use href="#sr" x="678.3" y="274.4"/>
<use href="#sr" x="645.1" y="274.5"/>
<use href="#sr" x="665.3" y="274.6"/>
<use href="#sr" x="674.4" y="274.6"/>
<use href="#sr" x="676.3" y="274.7"/>
<use href="#sr" x="657.9" y="275.1"/>
<use href="#sr" x="675.2" y="275.2"/>
<use href="#sr" x="664.7" y="275.2"/>
<use href="#sr" x="658.2" y="275.3"/>
<use href="#sr" x="662.1" y="275.3"/>
<use href="#sr" x="674.4" y="275.5"/>
<use href="#sr" x="654.6" y="275.5"/>
<use href="#sr" x="676.1" y="275.7"/>
<use href="#sr" x="659.5" y="276"/>
<use href="#sr" x="645.7" y="276"/>
<use href="#sr" x="656.6" y="276.2"/>
<use href="#sr" x="670.2" y="276.3"/>
<use href="#sr" x="664.3" y="276.3"/>
<use href="#sr" x="660.8" y="276.9"/>
<use href="#sr" x="669.3" y="277"/>
<use href="#sr" x="654.2" y="277.1"/>
<use href="#sr" x="647.3" y="277.3"/>
<use href="#sr" x="648.7" y="277.6"/>
<use href="#sr" x="654.9" y="277.6"/>
<use href="#sr" x="649.5" y="277.8"/>
<use href="#sr" x="649.9" y="278"/>
<use href="#sr" x="654.7" y="278"/>
<use href="#sr" x="667.1" y="278.9"/>
<use href="#sr" x="675.4" y="279"/>
<use href="#sr" x="663.8" y="279"/>
<use href="#sr" x="665" y="279"/>
<use href="#sr" x="656" y="279"/>
<use href="#sr" x="643" y="279.3"/>
<use href="#sr" x="664.5" y="279.4"/>
<use href="#sr" x="666.7" y="279.5"/>
<use href="#sr" x="671.5" y="280"/>
<use href="#sr" x="641" y="280"/>
<use href="#sr" x="666.2" y="280.1"/>
<use href="#sr" x="672.1" y="280.3"/>
<use href="#sr" x="672.3" y="280.5"/>
<use href="#sr" x="636.6" y="280.7"/>
<use href="#sr" x="667.9" y="280.8"/>
<use href="#sr" x="666.1" y="281.1"/>
<use href="#sr" x="666.2" y="281.4"/>
<use href="#sr" x="669.8" y="281.4"/>
<use href="#sr" x="670.4" y="281.5"/>
<use href="#sr" x="664" y="281.8"/>
<use href="#sr" x="672.9" y="281.9"/>
<use href="#sr" x="665.8" y="282.6"/>
<use href="#sr" x="646.6" y="283.1"/>
<use href="#sr" x="655" y="283.7"/>
<use href="#sr" x="676.5" y="284"/>
<use href="#sr" x="651.6" y="284.7"/>
<use href="#sr" x="660" y="287.5"/>
<use href="#sr" x="672" y="289"/>
<use href="#sr" x="651.3" y="289.3"/>
<use href="#sr" x="679.4" y="291.5"/>
<use href="#sr" x="652" y="296.9"/>
<use href="#sr" x="659.7" y="297.8"/>
<use href="#sr" x="673.7" y="300.6"/>
<use href="#sb" x="697.5" y="208.5"/>
<use href="#sb" x="698.3" y="211.5"/>
<use href="#sb" x="698.2" y="212.9"/>
<use href="#sb" x="699.1" y="214.1"/>
<use href="#sb" x="701.1" y="214.2"/>
<use href="#sb" x="698.2" y="215.1"/>
<use href="#sb" x="699.8" y="215.7"/>
<use href="#sb" x="700.8" y="215.9"/>
<use href="#sb" x="698.8" y="216.1"/>
<use href="#sb" x="695.5" y="217"/>
<use href="#sb" x="697.9" y="217.4"/>
<use href="#sb" x="694.1" y="217.9"/>
<use href="#sb" x="698.7" y="218.3"/>
<use href="#sb" x="697.9" y="218.6"/>
<use href="#sb" x="699.2" y="218.8"/>
<use href="#sb" x="697.8" y="219.2"/>
<use href="#sb" x="694.4" y="219.4"/>
<use href="#sb" x="698.4" y="220"/>
<use href="#sb" x="701.8" y="220.1"/>
<use href="#sb" x="701.5" y="221"/>
<use href="#sb" x="699.8" y="221.2"/>
<use href="#sb" x="697.4" y="221.3"/>
<use href="#sb" x="697.8" y="223.1"/>
<use href="#sb" x="701.3" y="223.2"/>
<use href="#sb" x="697.5" y="223.4"/>
<use href="#sb" x="700.2" y="223.6"/>
<use href="#sb" x="697.9" y="224.1"/>
<use href="#sb" x="701.3" y="224.8"/>
<use href="#sb" x="702.3" y="225.4"/>
<use href="#sb" x="697" y="225.7"/>
<use href="#sb" x="700.6" y="226"/>
<use href="#sb" x="697.8" y="226.3"/>
<use href="#sb" x="701.1" y="226.3"/>
<use href="#sb" x="699.7" y="226.5"/>
<use href="#sb" x="699.7" y="226.9"/>
<use href="#sb" x="700.2" y="227.2"/>
<use href="#sb" x="703.8" y="227.3"/>
<use href="#sb" x="701.6" y="228.2"/>
<use href="#sb" x="699" y="228.4"/>
<use href="#sb" x="696.7" y="228.5"/>
<use href="#sb" x="697.5" y="228.6"/>
<use href="#sb" x="700.4" y="229.2"/>
<use href="#sb" x="700.2" y="229.7"/>
<use href="#sb" x="700.8" y="229.8"/>
<use href="#sb" x="701.8" y="231"/>
<use href="#sb" x="702.5" y="231.1"/>
<use href="#sb" x="696.8" y="231.2"/>
<use href="#sb" x="699.8" y="231.7"/>
<use href="#sb" x="700.7" y="232.5"/>
<use href="#sb" x="701.2" y="233.4"/>
<use href="#sb" x="696" y="233.7"/>
<use href="#sb" x="700.2" y="233.7"/>
<use href="#sb" x="698.7" y="234"/>
<use href="#sb" x="701" y="235.7"/>
<use href="#sb" x="697.7" y="236.6"/>
<use href="#sb" x="696.8" y="236.8"/>
<use href="#sb" x="699.5" y="237.6"/>
<use href="#sb" x="695" y="238.2"/>
<use href="#sb" x="697" y="238.8"/>
<use href="#sb" x="696.8" y="239"/>
<use href="#sb" x="702" y="239.1"/>
<use href="#sb" x="699.6" y="239.2"/>
<use href="#sb" x="696.7" y="239.3"/>
<use href="#sb" x="700.8" y="239.4"/>
<use href="#sb" x="703.1" y="239.4"/>
<use href="#sb" x="698.1" y="240"/>
<use href="#sb" x="698.6" y="241.6"/>
<use href="#sb" x="699.7" y="241.6"/>
<use href="#sb" x="697.9" y="241.6"/>
<use href="#sb" x="699.3" y="243.2"/>
<use href="#sb" x="699.7" y="244.5"/>
<use href="#sb" x="696.9" y="245.2"/>
<use href="#sb" x="694.9" y="245.6"/>
<use href="#sb" x="700.3" y="246.7"/>
<use href="#sb" x="697.6" y="246.9"/>
<use href="#sb" x="693.5" y="247.6"/>
<use href="#sb" x="696.5" y="247.9"/>
<use href="#sb" x="696.8" y="248.1"/>
<use href="#sb" x="696.2" y="248.3"/>
<use href="#sb" x="700.8" y="248.5"/>
<use href="#sb" x="698.1" y="248.6"/>
<use href="#sb" x="696" y="248.9"/>
<use href="#sb" x="700" y="249.3"/>
<use href="#sb" x="695.6" y="249.5"/>
<use href="#sb" x="698.8" y="249.6"/>
<use href="#sb" x="697.1" y="249.7"/>
<use href="#sb" x="695.4" y="250.5"/>
<use href="#sb" x="699.3" y="251.4"/>
<use href="#sb" x="699.4" y="251.5"/>
<use href="#sb" x="700" y="252"/>
<use href="#sb" x="699.4" y="252.1"/>
<use href="#sb" x="700.4" y="252.1"/>
<use href="#sb" x="701.5" y="253.1"/>
<use href="#sb" x="695.8" y="253.2"/>
<use href="#sb" x="699.1" y="253.3"/>
<use href="#sb" x="697.3" y="253.4"/>
<use href="#sb" x="695.7" y="253.9"/>
<use href="#sb" x="695.1" y="254"/>
<use href="#sb" x="698.3" y="254.4"/>
<use href="#sb" x="705.6" y="254.5"/>
<use href="#sb" x="699.5" y="254.7"/>
<use href="#sb" x="695.4" y="254.8"/>
<use href="#sb" x="700.5" y="254.8"/>
<use href="#sb" x="695.5" y="255"/>
<use href="#sg" x="686.4" y="253.1"/>
<use href="#sb" x="694" y="256.3"/>
<use href="#sg" x="682.9" y="253.6"/>
<use href="#sg" x="688" y="253.6"/>
<use href="#sg" x="683.5" y="253.6"/>
<use href="#sg" x="691.1" y="253.7"/>
<use href="#sg" x="682.5" y="253.9"/>
<use href="#sg" x="688.7" y="254.2"/>
<use href="#sg" x="690.1" y="254.3"/>
<use href="#sb" x="694.1" y="257.3"/>
<use href="#sg" x="690.3" y="254.4"/>
<use href="#sg" x="686.8" y="254.8"/>
<use href="#sg" x="685.1" y="255"/>
<use href="#sb" x="698" y="258"/>
<use href="#sg" x="690.8" y="255"/>
<use href="#sg" x="683.7" y="255.1"/>
<use href="#sg" x="690.5" y="255.3"/>
<use href="#sg" x="690.9" y="255.3"/>
<use href="#sg" x="682.3" y="255.4"/>
<use href="#sg" x="683.8" y="255.4"/>
<use href="#sb" x="694.2" y="258.4"/>
<use href="#sg" x="690.6" y="255.6"/>
<use href="#sb" x="694.4" y="258.8"/>
<use href="#sg" x="684.3" y="255.8"/>
<use href="#sg" x="693.3" y="255.8"/>
<use href="#sg" x="691.7" y="256.3"/>
<use href="#sg" x="692.5" y="256.4"/>
<use href="#sg" x="684.1" y="256.5"/>
<use href="#sg" x="682.3" y="256.5"/>
<use href="#sg" x="684.1" y="256.7"/>
<use href="#sg" x="682.8" y="257.3"/>
<use href="#sg" x="689.6" y="257.5"/>
<use href="#sg" x="694.5" y="257.6"/>
<use href="#sb" x="696.5" y="260.6"/>
<use href="#sg" x="683.5" y="257.6"/>
<use href="#sg" x="691.8" y="257.8"/>
<use href="#sg" x="686.6" y="257.8"/>
<use href="#sg" x="691.9" y="257.8"/>
<use href="#sb" x="698.3" y="260.9"/>
<use href="#sg" x="692.9" y="258.1"/>
<use href="#sg" x="685.2" y="258.2"/>
<use href="#sb" x="697.2" y="261.2"/>
<use href="#sg" x="694" y="258.4"/>
<use href="#sg" x="683.5" y="258.4"/>
<use href="#sg" x="682.6" y="258.4"/>
<use href="#sg" x="691.2" y="258.5"/>
<use href="#sg" x="685.6" y="258.7"/>
<use href="#sb" x="698.5" y="261.8"/>
<use href="#sb" x="694.6" y="262"/>
<use href="#sb" x="695.4" y="262.3"/>
<use href="#sg" x="692.8" y="259.4"/>
<use href="#sg" x="695" y="259.5"/>
<use href="#sg" x="683.8" y="259.6"/>
<use href="#sg" x="686.6" y="259.6"/>
<use href="#sg" x="691" y="259.6"/>
<use href="#sg" x="689.5" y="259.8"/>
<use href="#sg" x="691.4" y="260.1"/>
<use href="#sg" x="686.5" y="260.1"/>
<use href="#sg" x="693.8" y="260.2"/>
<use href="#sg" x="698.8" y="260.4"/>
<use href="#sg" x="691.5" y="260.5"/>
<use href="#sg" x="684.4" y="260.7"/>
<use href="#sg" x="693.7" y="260.7"/>
<use href="#sg" x="698.2" y="260.8"/>
<use href="#sg" x="684.1" y="260.8"/>
<use href="#sb" x="696.5" y="264"/>
<use href="#sg" x="683.1" y="261"/>
<use href="#sg" x="689.3" y="261.2"/>
<use href="#sg" x="682.5" y="261.2"/>
<use href="#sg" x="695.5" y="261.6"/>
<use href="#sg" x="689.4" y="261.7"/>
<use href="#sg" x="693" y="261.9"/>
<use href="#sb" x="694.9" y="265"/>
<use href="#sg" x="688.4" y="262.1"/>
<use href="#sg" x="688.8" y="262.1"/>
<use href="#sg" x="685.6" y="262.1"/>
<use href="#sg" x="681.6" y="262.2"/>
<use href="#sg" x="694.9" y="262.2"/>
<use href="#sg" x="692.3" y="262.2"/>
<use href="#sb" x="694" y="265.2"/>
<use href="#sb" x="694.3" y="265.3"/>
<use href="#sg" x="693.6" y="262.3"/>
<use href="#sg" x="692.5" y="262.3"/>
<use href="#sg" x="686.3" y="262.4"/>
<use href="#sg" x="692.7" y="262.6"/>
<use href="#sb" x="693.8" y="265.7"/>
<use href="#sb" x="695.8" y="265.9"/>
<use href="#sg" x="689.1" y="262.9"/>
<use href="#sg" x="694.7" y="262.9"/>
<use href="#sg" x="690.9" y="263"/>
<use href="#sb" x="693.5" y="266.5"/>
<use href="#sg" x="690.2" y="263.5"/>
<use href="#sg" x="695.6" y="263.6"/>
<use href="#sb" x="691.4" y="266.6"/>
<use href="#sg" x="690.7" y="263.6"/>
<use href="#sg" x="700.3" y="263.7"/>
<use href="#sb" x="694.6" y="266.8"/>
<use href="#sg" x="691.5" y="264"/>
<use href="#sg" x="695.6" y="264"/>
<use href="#sg" x="701.5" y="264.1"/>
<use href="#sg" x="694.2" y="264.2"/>
<use href="#sg" x="690.5" y="264.4"/>
<use href="#sg" x="702.3" y="264.4"/>
<use href="#sg" x="691.4" y="264.6"/>
<use href="#sg" x="701" y="264.6"/>
<use href="#sg" x="693.9" y="264.6"/>
<use href="#sg" x="698.2" y="264.8"/>
<use href="#sb" x="696.7" y="267.9"/>
<use href="#sg" x="699.2" y="265"/>
<use href="#sg" x="700.3" y="265"/>
<use href="#sg" x="700.3" y="265.3"/>
<use href="#sg" x="699" y="265.5"/>
<use href="#sg" x="689.2" y="265.6"/>
<use href="#sg" x="696.7" y="265.6"/>
<use href="#sg" x="694.5" y="265.6"/>
<use href="#sg" x="694.3" y="265.7"/>
<use href="#sg" x="696.7" y="265.7"/>
<use href="#sg" x="690.7" y="265.9"/>
<use href="#sb" x="692.6" y="269"/>
<use href="#sg" x="692.7" y="266.1"/>
<use href="#sg" x="698.3" y="266.3"/>
<use href="#sg" x="695.9" y="266.5"/>
<use href="#sg" x="695.6" y="266.5"/>
<use href="#sb" x="695.2" y="269.5"/>
<use href="#sb" x="697.8" y="269.6"/>
<use href="#sg" x="696.7" y="266.7"/>
<use href="#sg" x="700.4" y="266.8"/>
<use href="#sg" x="694.6" y="267.1"/>
<use href="#sg" x="691.6" y="267.5"/>
<use href="#sg" x="689.6" y="267.7"/>
<use href="#sg" x="687.7" y="267.7"/>
<use href="#sg" x="695.4" y="267.9"/>
<use href="#sb" x="701.1" y="270.9"/>
<use href="#sg" x="693" y="268.4"/>
<use href="#sg" x="701.1" y="268.6"/>
<use href="#sb" x="698.4" y="271.6"/>
<use href="#sg" x="695.2" y="268.7"/>
<use href="#sb" x="698.4" y="271.7"/>
<use href="#sg" x="696.4" y="268.8"/>
<use href="#sg" x="698.5" y="268.8"/>
<use href="#sg" x="693.4" y="269"/>
<use href="#sb" x="687.9" y="272.1"/>
<use href="#sg" x="691.8" y="269.2"/>
<use href="#sg" x="695.6" y="269.5"/>
<use href="#sb" x="697.3" y="272.6"/>
<use href="#sg" x="700.7" y="269.7"/>
<use href="#sg" x="696.9" y="269.7"/>
<use href="#sg" x="695.2" y="270"/>
<use href="#sb" x="696.7" y="273.5"/>
<use href="#sb" x="695" y="273.5"/>
<use href="#sb" x="689.6" y="273.6"/>
<use href="#sb" x="689.2" y="273.6"/>
<use href="#sb" x="694" y="273.7"/>
<use href="#sg" x="699.1" y="270.8"/>
<use href="#sb" x="696.5" y="274"/>
<use href="#sb" x="694.1" y="274.4"/>
<use href="#sb" x="695.3" y="274.8"/>
<use href="#sb" x="687.4" y="275"/>
<use href="#sb" x="690.9" y="275.7"/>
<use href="#sb" x="690.6" y="275.9"/>
<use href="#sb" x="692.7" y="276.2"/>
<use href="#sb" x="694" y="277.1"/>
<use href="#sb" x="693" y="277.1"/>
<use href="#sb" x="695" y="277.2"/>
<use href="#sb" x="693.8" y="277.4"/>
<use href="#sb" x="697.4" y="277.6"/>
<use href="#sb" x="681" y="278.6"/>
<use href="#sb" x="690.6" y="278.6"/>
<use href="#sb" x="691.5" y="278.7"/>
<use href="#sb" x="699.4" y="279.1"/>
<use href="#sb" x="697.1" y="279.2"/>
<use href="#sb" x="694.1" y="279.4"/>
<use href="#sb" x="691.1" y="279.9"/>
<use href="#sb" x="691.6" y="280.3"/>
<use href="#sb" x="695.3" y="280.4"/>
<use href="#sb" x="687.8" y="281.2"/>
<use href="#sb" x="698.9" y="281.3"/>
<use href="#sb" x="682.7" y="281.8"/>
<use href="#sb" x="691.5" y="282.4"/>
<use href="#sb" x="697" y="282.6"/>
<use href="#sb" x="689.5" y="282.7"/>
<use href="#sb" x="696.1" y="282.8"/>
<use href="#sb" x="696.8" y="283"/>
<use href="#sb" x="687.5" y="283.4"/>
<use href="#sb" x="692.7" y="283.5"/>
<use href="#sb" x="698.8" y="283.6"/>
<use href="#sb" x="695" y="284.1"/>
<use href="#sb" x="691.7" y="284.4"/>
<use href="#sb" x="696.6" y="284.5"/>
<use href="#sb" x="689.5" y="285"/>
<use href="#sb" x="697.4" y="285.2"/>
<use href="#sb" x="695.9" y="285.5"/>
<use href="#sb" x="692.3" y="285.8"/>
<use href="#sb" x="699.5" y="286.7"/>
<use href="#sb" x="693.7" y="286.7"/>
<use href="#sb" x="691.1" y="286.8"/>
<use href="#sb" x="695.8" y="287"/>
<use href="#sb" x="692.8" y="287.1"/>
<use href="#sb" x="690" y="287.4"/>
<use href="#sb" x="690.8" y="288.3"/>
<use href="#sb" x="694.9" y="288.6"/>
<use href="#sb" x="688.9" y="288.9"/>
<use href="#sb" x="691.9" y="289.3"/>
<use href="#sb" x="693.7" y="289.6"/>
<use href="#sb" x="692.3" y="290.4"/>
<use href="#sb" x="690" y="294.8"/>
<use href="#sb" x="683.5" y="298"/>
<use href="#sb" x="689" y="299.5"/>
<text transform="translate(346.6,199) scale(0.87,1)" font-size="11.5" text-anchor="middle">HC</text>
<line x1="225.6" y1="204.6" x2="225.6" y2="330.2" stroke="#555" stroke-width="1.1" />
<line x1="225.6" y1="330.2" x2="351" y2="330.2" stroke="#555" stroke-width="1.1" />
<line x1="222" y1="329.9" x2="225.6" y2="329.9" stroke="#555" stroke-width="1.1" />
<line x1="222" y1="309.1" x2="225.6" y2="309.1" stroke="#555" stroke-width="1.1" />
<line x1="222" y1="288.3" x2="225.6" y2="288.3" stroke="#555" stroke-width="1.1" />
<line x1="222" y1="267.5" x2="225.6" y2="267.5" stroke="#555" stroke-width="1.1" />
<line x1="222" y1="246.7" x2="225.6" y2="246.7" stroke="#555" stroke-width="1.1" />
<line x1="222" y1="225.9" x2="225.6" y2="225.9" stroke="#555" stroke-width="1.1" />
<line x1="222" y1="205.1" x2="225.6" y2="205.1" stroke="#555" stroke-width="1.1" />
<text x="217.8" y="334.1" font-size="12" text-anchor="end" >0</text>
<text x="217.8" y="292.5" font-size="12" text-anchor="end" >100</text>
<text x="217.8" y="250.9" font-size="12" text-anchor="end" >200</text>
<text x="217.8" y="209.3" font-size="12" text-anchor="end" >300</text>
<line x1="267.3" y1="330.2" x2="267.3" y2="334.5" stroke="#555" stroke-width="1.1" />
<text x="262.9" y="345.4" font-size="12" text-anchor="middle" >200</text>
<line x1="309.2" y1="330.2" x2="309.2" y2="334.5" stroke="#555" stroke-width="1.1" />
<text x="304.8" y="345.4" font-size="12" text-anchor="middle" >400</text>
<line x1="351.1" y1="330.2" x2="351.1" y2="334.5" stroke="#555" stroke-width="1.1" />
<text x="346.7" y="345.4" font-size="12" text-anchor="middle" >600</text>
<text x="0" y="0" font-size="13" text-anchor="middle" transform="translate(193.3,264.3) rotate(-90)">Distance</text>
<path d="M270.3,224.1 270.3,210.9 332.8,210.9 332.8,317.2" fill="none" stroke="#333" stroke-width="0.8" />
<path d="M253.75,313.1 253.75,224.1 286.25,224.1 286.25,264.1" fill="none" stroke="#333" stroke-width="0.8" />
<path d="M271.9,316.3 271.9,264.1 300.3,264.1 300.3,312.4" fill="none" stroke="#3030a0" stroke-width="0.8" />
<path d="M267.2,325 267.2,316.3 278.3,316.3 278.3,324.5" fill="none" stroke="#3030a0" stroke-width="0.8" />
<path d="M265.6,328.6 265.6,325 269.8,325 269.8,328.6" fill="none" stroke="#3030a0" stroke-width="0.8" />
<path d="M275,328.5 275,324.5 281.8,324.5 281.8,328.5" fill="none" stroke="#3030a0" stroke-width="0.8" />
<path d="M294.6,324.5 294.6,312.4 306.7,312.4 306.7,327.6" fill="none" stroke="#3030a0" stroke-width="0.8" />
<path d="M290.7,328.5 290.7,324.5 297.7,324.5 297.7,328.5" fill="none" stroke="#3030a0" stroke-width="0.8" />
<path d="M245.3,317.2 245.3,313.2 262.2,313.2 262.2,325" fill="none" stroke="#e04040" stroke-width="0.8" />
<path d="M238.5,321 238.5,317.2 252.6,317.2 252.6,328.1" fill="none" stroke="#e04040" stroke-width="0.8" />
<path d="M232.5,326.9 232.5,321 244.6,321 244.6,326" fill="none" stroke="#e04040" stroke-width="0.8" />
<path d="M230,329.3 230,326.9 235,326.9 235,329.3" fill="none" stroke="#e04040" stroke-width="0.8" />
<path d="M242,329.3 242,326 247,326 247,329.3" fill="none" stroke="#e04040" stroke-width="0.8" />
<path d="M250,329.6 250,328.1 255,328.1 255,329.6" fill="none" stroke="#e04040" stroke-width="0.8" />
<path d="M260.4,329.5 260.4,325 263.5,325 263.5,329.5" fill="none" stroke="#e04040" stroke-width="0.8" />
<path d="M322.3,321.4 322.3,317.2 342.8,317.2 342.8,327.6" fill="none" stroke="#33dd33" stroke-width="0.8" />
<path d="M315.7,328.5 315.7,321.4 328.75,321.4 328.75,324.5" fill="none" stroke="#33dd33" stroke-width="0.8" />
<path d="M324.4,328.5 324.4,324.5 333.4,324.5 333.4,328.5" fill="none" stroke="#33dd33" stroke-width="0.8" />
<path d="M339,329.5 339,327.6 346,327.6 346,329.5" fill="none" stroke="#33dd33" stroke-width="0.8" />
<path d="M227,330 227,327.72 228.98,327.72 228.98,330" fill="none" stroke="#e04040" stroke-width="0.75" />
<path d="M229.72,330 229.72,327.57 232.43,327.57 232.43,330" fill="none" stroke="#e04040" stroke-width="0.75" />
<path d="M232.81,330 232.81,327.19 234.33,327.19 234.33,330" fill="none" stroke="#e04040" stroke-width="0.75" />
<path d="M234.94,330 234.94,326.91 236.91,326.91 236.91,330" fill="none" stroke="#e04040" stroke-width="0.75" />
<path d="M237.78,330 237.78,327.84 240.95,327.84 240.95,330" fill="none" stroke="#e04040" stroke-width="0.75" />
<path d="M242.02,330 242.02,327.56 243.82,327.56 243.82,330" fill="none" stroke="#e04040" stroke-width="0.75" />
<path d="M245.16,330 245.16,327.37 247.71,327.37 247.71,330" fill="none" stroke="#e04040" stroke-width="0.75" />
<path d="M248.81,330 248.81,327.34 250.44,327.34 250.44,330" fill="none" stroke="#e04040" stroke-width="0.75" />
<path d="M251.45,330 251.45,328.64 253.55,328.64 253.55,330" fill="none" stroke="#e04040" stroke-width="0.75" />
<path d="M254.89,330 254.89,327.41 257.34,327.41 257.34,330" fill="none" stroke="#e04040" stroke-width="0.75" />
<path d="M258.69,330 258.69,327.04 261.62,327.04 261.62,330" fill="none" stroke="#e04040" stroke-width="0.75" />
<path d="M262.39,330 262.39,327.9 265.49,327.9 265.49,330" fill="none" stroke="#e04040" stroke-width="0.75" />
<path d="M266,330 266,328.52 269.26,328.52 269.26,330" fill="none" stroke="#3030a0" stroke-width="0.75" />
<path d="M269.72,330 269.72,326.96 271.65,326.96 271.65,330" fill="none" stroke="#3030a0" stroke-width="0.75" />
<path d="M272.48,330 272.48,328.16 275.23,328.16 275.23,330" fill="none" stroke="#3030a0" stroke-width="0.75" />
<path d="M276.14,330 276.14,328.07 278.41,328.07 278.41,330" fill="none" stroke="#3030a0" stroke-width="0.75" />
<path d="M279.41,330 279.41,327.07 282.08,327.07 282.08,330" fill="none" stroke="#3030a0" stroke-width="0.75" />
<path d="M283.2,330 283.2,327.16 286.56,327.16 286.56,330" fill="none" stroke="#3030a0" stroke-width="0.75" />
<path d="M288.05,330 288.05,328.41 290.89,328.41 290.89,330" fill="none" stroke="#3030a0" stroke-width="0.75" />
<path d="M292.22,330 292.22,327.07 295.65,327.07 295.65,330" fill="none" stroke="#3030a0" stroke-width="0.75" />
<path d="M296.64,330 296.64,328.32 299.56,328.32 299.56,330" fill="none" stroke="#3030a0" stroke-width="0.75" />
<path d="M300.86,330 300.86,328.19 303.51,328.19 303.51,330" fill="none" stroke="#3030a0" stroke-width="0.75" />
<path d="M303.88,330 303.88,326.92 307.09,326.92 307.09,330" fill="none" stroke="#3030a0" stroke-width="0.75" />
<path d="M307.5,330 307.5,327.96 310.6,327.96 310.6,330" fill="none" stroke="#3030a0" stroke-width="0.75" />
<path d="M311,330 311,327.32 313.09,327.32 313.09,330" fill="none" stroke="#33dd33" stroke-width="0.75" />
<path d="M314.44,330 314.44,327.59 316.02,327.59 316.02,330" fill="none" stroke="#33dd33" stroke-width="0.75" />
<path d="M316.38,330 316.38,328.1 319.31,328.1 319.31,330" fill="none" stroke="#33dd33" stroke-width="0.75" />
<path d="M320.67,330 320.67,327.79 324.13,327.79 324.13,330" fill="none" stroke="#33dd33" stroke-width="0.75" />
<path d="M325.63,330 325.63,328.56 327.75,328.56 327.75,330" fill="none" stroke="#33dd33" stroke-width="0.75" />
<path d="M328.77,330 328.77,328.34 330.33,328.34 330.33,330" fill="none" stroke="#33dd33" stroke-width="0.75" />
<path d="M331.12,330 331.12,328.42 333.84,328.42 333.84,330" fill="none" stroke="#33dd33" stroke-width="0.75" />
<path d="M334.19,330 334.19,328.14 337.43,328.14 337.43,330" fill="none" stroke="#33dd33" stroke-width="0.75" />
<path d="M338.88,330 338.88,328.02 342.17,328.02 342.17,330" fill="none" stroke="#33dd33" stroke-width="0.75" />
<path d="M343.03,330 343.03,327.54 345.57,327.54 345.57,330" fill="none" stroke="#33dd33" stroke-width="0.75" />
<path d="M346.58,330 346.58,327.58 349.2,327.58 349.2,330" fill="none" stroke="#33dd33" stroke-width="0.75" />
<line x1="75.17" y1="355.4" x2="75.17" y2="397.1" stroke="#999" stroke-width="0.6" stroke-dasharray="1,1"/>
<line x1="117.03" y1="355.4" x2="117.03" y2="397.1" stroke="#999" stroke-width="0.6" stroke-dasharray="1,1"/>
<line x1="158.9" y1="355.4" x2="158.9" y2="397.1" stroke="#999" stroke-width="0.6" stroke-dasharray="1,1"/>
<path d="M33.3 378.7h0M33.5 377.3h0M33.7 379.7h0M33.9 386.4h0M34.1 376.5h0M34.3 378.8h0M34.6 381.3h0M34.8 386.5h0M35 375.8h0M35.2 376.4h0M35.4 378.2h0M35.6 382.2h0M35.8 375.5h0M36 379.6h0M36.2 377.3h0M36.4 383.7h0M36.6 386h0M36.9 380.1h0M37.1 382.9h0M37.3 376.3h0M37.5 382.6h0M37.7 389.3h0M37.9 380.2h0M38.1 377.2h0M38.3 384.5h0M38.5 375.8h0M38.7 376.3h0M39 378.9h0M39.2 375.3h0M39.4 385h0M39.6 378.5h0M39.8 383h0M40 376.4h0M40.2 378.8h0M40.4 381h0M40.6 378.6h0M40.8 374.6h0M41 385.5h0M41.3 385.7h0M41.5 381.6h0M41.7 383.2h0M41.9 382.6h0M42.1 387.7h0M42.3 387.3h0M42.5 378.7h0M42.7 383.8h0M42.9 375.1h0M43.1 380h0M43.3 381.7h0M43.6 382.1h0M43.8 380h0M44 379.4h0M44.2 382.2h0M44.4 386.8h0M44.6 380.7h0M44.8 382.6h0M45 378.3h0M45.2 380.2h0M45.4 387.2h0M45.7 382.9h0M45.9 378.6h0M46.1 381.4h0M46.3 377.9h0M46.5 387.8h0M46.7 379.9h0M46.9 380.4h0M47.1 377h0M47.3 380.4h0M47.5 380.7h0M47.7 380h0M48 381.4h0M48.2 383.9h0M48.4 379.8h0M48.6 381.1h0M48.8 380.2h0M49 384.7h0M49.2 381.7h0M49.4 382.8h0M49.6 386.2h0M49.8 382.7h0M50 381.9h0M50.3 381.2h0M50.5 375.6h0M50.7 376.6h0M50.9 381.8h0M51.1 382.8h0M51.3 378.5h0M51.5 377.5h0M51.7 378h0M51.9 382h0M52.1 382.5h0M52.3 379.4h0M52.6 386.9h0M52.8 382.6h0M53 380.9h0M53.2 380.5h0M53.4 378.8h0M53.6 382.5h0M53.8 379.2h0M54 380.3h0M54.2 374.6h0M54.4 386.1h0M54.7 381h0M54.9 385.5h0M55.1 383.1h0M55.3 383h0M55.5 382h0M55.7 377.2h0M55.9 381.7h0M56.1 382.5h0M56.3 382.6h0M56.5 384.5h0M56.7 384.4h0M57 378.6h0M57.2 380.7h0M57.4 380.1h0M57.6 381.7h0M57.8 384h0M58 381.7h0M58.2 382.6h0M58.4 378.2h0M58.6 375.4h0M58.8 383.7h0M59 383.3h0M59.3 386.4h0M59.5 382.2h0M59.7 381.2h0M59.9 386.5h0M60.1 385.8h0M60.3 386.6h0M60.5 376.9h0M60.7 380.2h0M60.9 378.3h0M61.1 382.9h0M61.4 380.3h0M61.6 385.4h0M61.8 383h0M62 380.7h0M62.2 385.1h0M62.4 383.4h0M62.6 381.1h0M62.8 380.7h0M63 380.2h0M63.2 379h0M63.4 384.4h0M63.7 377.2h0M63.9 384.3h0M64.1 383.3h0M64.3 379.9h0M64.5 385.6h0M64.7 378.8h0M64.9 379.8h0M65.1 381.8h0M65.3 383h0M65.5 380h0M65.7 376.8h0M66 380.3h0M66.2 380.1h0M66.4 381.2h0M66.6 381.3h0M66.8 378.3h0M67 381.5h0M67.2 380.8h0M67.4 384.8h0M67.6 377h0M67.8 380.4h0M68 378.2h0M68.3 379.2h0M68.5 380.7h0M68.7 380h0M68.9 380.6h0M69.1 379.6h0M69.3 379.6h0M69.5 376.8h0M69.7 379.4h0M69.9 379.8h0M70.1 378.6h0M70.4 380.7h0M70.6 377.7h0M70.8 380.2h0M71 379.9h0M71.2 381.4h0M71.4 379.6h0M71.6 378.7h0M71.8 378.8h0M72 380.1h0M72.2 379.5h0M72.4 379h0M72.7 384.7h0M72.9 377h0M73.1 383.3h0M73.3 381.8h0M73.5 378.5h0M73.7 375.3h0M73.9 379.2h0M74.1 382.7h0M74.3 381.2h0M74.5 384.2h0M74.7 382h0M75 383.8h0M40.2 392.3h0M41.7 392.8h0M48.6 392.8h0M58.2 392.3h0M75 371.6h0M52.1 389.4h0M64.7 390.3h0" stroke="#f20a0a" stroke-width="2.5" stroke-linecap="round" fill="none" />
<path d="M75.2 363.1h0M75.4 364.8h0M75.6 364h0M75.8 366.4h0M76 360.3h0M76.2 362.6h0M76.4 359.5h0M76.6 361.5h0M76.8 365.8h0M77.1 357.4h0M77.3 360.4h0M77.5 359.6h0M77.7 362.7h0M77.9 362.7h0M78.1 361.9h0M78.3 357.6h0M78.5 364.2h0M78.7 363.8h0M78.9 360.4h0M79.1 365.7h0M79.4 358.3h0M79.6 364h0M79.8 358.9h0M80 361.8h0M80.2 362.2h0M80.4 363.9h0M80.6 358.4h0M80.8 362.1h0M81 364.3h0M81.2 360.1h0M81.4 361.8h0M81.7 360.4h0M81.9 362.3h0M82.1 360.7h0M82.3 360.5h0M82.5 361.4h0M82.7 365h0M82.9 360.4h0M83.1 358.5h0M83.3 360.5h0M83.5 359.5h0M83.7 359.8h0M84 362.1h0M84.2 359.2h0M84.4 362h0M84.6 363.6h0M84.8 364.2h0M85 359.3h0M85.2 360h0M85.4 360.1h0M85.6 362.7h0M85.8 365.4h0M86.1 359.8h0M86.3 361.7h0M86.5 362.8h0M86.7 362.8h0M86.9 362.7h0M87.1 365.4h0M87.3 360.1h0M87.5 360h0M87.7 359.6h0M87.9 362.2h0M88.1 364.1h0M88.4 364.4h0M88.6 362.1h0M88.8 357.7h0M89 359.5h0M89.2 361.4h0M89.4 360.5h0M89.6 359.7h0M89.8 361.3h0M90 361h0M90.2 361h0M90.4 362.7h0M90.7 363.9h0M90.9 362.7h0M91.1 359h0M91.3 364.8h0M91.5 362.4h0M91.7 362.4h0M91.9 361.4h0M92.1 362.4h0M92.3 359.8h0M92.5 362.3h0M92.8 361.5h0M93 360h0M93.2 364.5h0M93.4 359.1h0M93.6 359.3h0M93.8 364.3h0M94 361.7h0M94.2 363.1h0M94.4 362.3h0M94.6 359.8h0M94.8 365.5h0M95.1 359.7h0M95.3 360.6h0M95.5 361.5h0M95.7 356.7h0M95.9 362.5h0M96.1 364.7h0M96.3 360.7h0M96.5 361.2h0M96.7 362.8h0M96.9 366h0M97.1 365.5h0M97.4 358h0M97.6 364.7h0M97.8 358.5h0M98 359.7h0M98.2 366.2h0M98.4 361.1h0M98.6 360.1h0M98.8 359.1h0M99 358.6h0M99.2 358.8h0M99.4 361.6h0M99.7 362h0M99.9 361.9h0M100.1 360.3h0M100.3 363.5h0M100.5 363.7h0M100.7 356.6h0M100.9 359.4h0M101.1 359.2h0M101.3 362h0M101.5 363.3h0M101.8 362.4h0M102 363.2h0M102.2 362.8h0M102.4 364.8h0M102.6 360.2h0M102.8 360.8h0M103 359.8h0M103.2 361.3h0M103.4 363h0M103.6 357.1h0M103.8 359.5h0M104.1 360.3h0M104.3 359.6h0M104.5 362.1h0M104.7 359.9h0M104.9 363.1h0M105.1 359.3h0M105.3 359.5h0M105.5 359.7h0M105.7 360.6h0M105.9 361.2h0M106.1 361h0M106.4 359.9h0M106.6 362.4h0M106.8 360h0M107 359.8h0M107.2 364.2h0M107.4 365.1h0M107.6 360.8h0M107.8 362.2h0M108 363.2h0M108.2 364.1h0M108.5 363.8h0M108.7 365h0M108.9 362.2h0M109.1 364.8h0M109.3 365.1h0M109.5 361.7h0M109.7 358.3h0M109.9 358.8h0M110.1 361.8h0M110.3 360.7h0M110.5 362h0M110.8 361.7h0M111 363.1h0M111.2 361.5h0M111.4 363.7h0M111.6 363.1h0M111.8 361.8h0M112 361.7h0M112.2 357.1h0M112.4 363.3h0M112.6 363.8h0M112.8 360.1h0M113.1 360.3h0M113.3 360h0M113.5 361.7h0M113.7 364.7h0M113.9 362.2h0M114.1 364.2h0M114.3 361.6h0M114.5 357.8h0M114.7 362.2h0M114.9 361.3h0M115.1 359.2h0M115.4 364.3h0M115.6 359.9h0M115.8 362.2h0M116 363h0M116.2 362.3h0M116.4 363.6h0M116.6 359.7h0M116.8 361.3h0" stroke="#0c0c96" stroke-width="2.5" stroke-linecap="round" fill="none" />
<path d="M117 374.5h0M117.2 372.9h0M117.5 371.4h0M117.7 374.7h0M117.9 376.8h0M118.1 375.6h0M118.3 374.8h0M118.5 372.5h0M118.7 375.5h0M118.9 377.6h0M119.1 375.2h0M119.3 371h0M119.5 372.6h0M119.8 371.6h0M120 369.9h0M120.2 371.5h0M120.4 372.2h0M120.6 375.5h0M120.8 372.8h0M121 375.4h0M121.2 372.8h0M121.4 371.5h0M121.6 377.3h0M121.8 371.1h0M122.1 373.1h0M122.3 371.7h0M122.5 374.1h0M122.7 372.9h0M122.9 376.6h0M123.1 374.6h0M123.3 373.9h0M123.5 375.4h0M123.7 375h0M123.9 373.9h0M124.2 374h0M124.4 372.9h0M124.6 372.5h0M124.8 376.4h0M125 375.8h0M125.2 372.3h0M125.4 374h0M125.6 375h0M125.8 373.1h0M126 375.4h0M126.2 373.4h0M126.5 375.3h0M126.7 372.7h0M126.9 374.3h0M127.1 373.6h0M127.3 375.1h0M127.5 372.5h0M127.7 372.9h0M127.9 371.8h0M128.1 374.3h0M128.3 374.3h0M128.5 372.6h0M128.8 372.3h0M129 372h0M129.2 375.1h0M129.4 375.2h0M129.6 377.4h0M129.8 373.4h0M130 373.1h0M130.2 375.3h0M130.4 375.5h0M130.6 373.6h0M130.8 373.4h0M131.1 372.6h0M131.3 375.6h0M131.5 375h0M131.7 372.4h0M131.9 374.3h0M132.1 374.3h0M132.3 368.5h0M132.5 373h0M132.7 374.8h0M132.9 374.6h0M133.2 372.3h0M133.4 371.5h0M133.6 373.3h0M133.8 375.9h0M134 374.4h0M134.2 374.6h0M134.4 377.4h0M134.6 374h0M134.8 374.1h0M135 373.8h0M135.2 374.6h0M135.5 372.3h0M135.7 373.3h0M135.9 376.7h0M136.1 374.1h0M136.3 374.7h0M136.5 376.5h0M136.7 376.7h0M136.9 373.2h0M137.1 375.9h0M137.3 376.2h0M137.5 373.5h0M137.8 372.7h0M138 376.4h0M138.2 376.9h0M138.4 375h0M138.6 373.5h0M138.8 373.7h0M139 373.2h0M139.2 373h0M139.4 369.8h0M139.6 370.5h0M139.9 374.9h0M140.1 372.6h0M140.3 372.5h0M140.5 374.2h0M140.7 372h0M140.9 372.3h0M141.1 370.6h0M141.3 372.7h0M141.5 374.6h0M141.7 375.2h0M141.9 374.5h0M142.2 373.5h0M142.4 373.5h0M142.6 373.3h0M142.8 374.6h0M143 376.9h0M143.2 374.2h0M143.4 374.3h0M143.6 374.4h0M143.8 371.7h0M144 373.1h0M144.2 374.9h0M144.5 373h0M144.7 372.4h0M144.9 373.5h0M145.1 372.2h0M145.3 373h0M145.5 372.4h0M145.7 371.2h0M145.9 376.8h0M146.1 373.3h0M146.3 372.6h0M146.5 376.2h0M146.8 374.2h0M147 373.2h0M147.2 373.3h0M147.4 377.1h0M147.6 378.5h0M147.8 372.8h0M148 376.6h0M148.2 375.1h0M148.4 375.5h0M148.6 371.8h0M148.9 368.2h0M149.1 373.3h0M149.3 371.4h0M149.5 371.7h0M149.7 372.6h0M149.9 373.1h0M150.1 371.5h0M150.3 372.6h0M150.5 373.4h0M150.7 373.5h0M150.9 376.1h0M151.2 373.5h0M151.4 372.7h0M151.6 374.3h0M151.8 371.4h0M152 373.8h0M152.2 373.4h0M152.4 375.1h0M152.6 370.6h0M152.8 373.9h0M153 374.8h0M153.2 372.3h0M153.5 375.4h0M153.7 374.4h0M153.9 378.1h0M154.1 371.7h0M154.3 374.9h0M154.5 375.1h0M154.7 373.1h0M154.9 375.2h0M155.1 370.7h0M155.3 371.8h0M155.6 373.4h0M155.8 377.2h0M156 373.1h0M156.2 374.5h0M156.4 371.8h0M156.6 375.7h0M156.8 374.7h0M157 372.1h0M157.2 372.8h0M157.4 371h0M157.6 375.2h0M157.9 374.8h0M158.1 374.6h0M158.3 374h0M158.5 375h0M158.7 373.1h0" stroke="#12ee12" stroke-width="2.5" stroke-linecap="round" fill="none" />
<path d="M36 370h0M44.4 370.7h0M72.2 368.9h0M148.4 367h0M116.6 364.5h0" stroke="#0c0c96" stroke-width="2.5" stroke-linecap="round" fill="none" />
<line x1="33.3" y1="355.4" x2="33.3" y2="397.1" stroke="#555" stroke-width="1.1" />
<line x1="33.3" y1="397.1" x2="158.9" y2="397.1" stroke="#555" stroke-width="1.1" />
<line x1="29.8" y1="396.9" x2="33.3" y2="396.9" stroke="#555" stroke-width="1.1" />
<line x1="29.8" y1="388.6" x2="33.3" y2="388.6" stroke="#555" stroke-width="1.1" />
<line x1="29.8" y1="380.3" x2="33.3" y2="380.3" stroke="#555" stroke-width="1.1" />
<line x1="29.8" y1="372" x2="33.3" y2="372" stroke="#555" stroke-width="1.1" />
<line x1="29.8" y1="363.7" x2="33.3" y2="363.7" stroke="#555" stroke-width="1.1" />
<line x1="29.8" y1="355.4" x2="33.3" y2="355.4" stroke="#555" stroke-width="1.1" />
<text x="26.3" y="359.7" font-size="12" text-anchor="end" >2</text>
<text x="26.3" y="376.3" font-size="12" text-anchor="end" >0</text>
<text x="26.3" y="392.9" font-size="12" text-anchor="end" >-2</text>
<line x1="33.3" y1="397.1" x2="33.3" y2="400.6" stroke="#555" stroke-width="1.1" />
<line x1="54.23" y1="397.1" x2="54.23" y2="400.6" stroke="#555" stroke-width="1.1" />
<line x1="75.17" y1="397.1" x2="75.17" y2="400.6" stroke="#555" stroke-width="1.1" />
<line x1="96.1" y1="397.1" x2="96.1" y2="400.6" stroke="#555" stroke-width="1.1" />
<line x1="117.03" y1="397.1" x2="117.03" y2="400.6" stroke="#555" stroke-width="1.1" />
<line x1="137.97" y1="397.1" x2="137.97" y2="400.6" stroke="#555" stroke-width="1.1" />
<line x1="158.9" y1="397.1" x2="158.9" y2="400.6" stroke="#555" stroke-width="1.1" />
<text x="33.3" y="414" font-size="12" text-anchor="middle" >0</text>
<text x="75.17" y="414" font-size="12" text-anchor="middle" >200</text>
<text x="117.03" y="414" font-size="12" text-anchor="middle" >400</text>
<text x="158.9" y="414" font-size="12" text-anchor="middle" >600</text>
<text x="96.1" y="430.7" font-size="13" text-anchor="middle" >Instances</text>
<text x="0" y="0" font-size="13" text-anchor="middle" transform="translate(11.6,375.4) rotate(-90)">PC1</text>
<line x1="267.57" y1="355.4" x2="267.57" y2="397.1" stroke="#999" stroke-width="0.6" stroke-dasharray="1,1"/>
<line x1="309.43" y1="355.4" x2="309.43" y2="397.1" stroke="#999" stroke-width="0.6" stroke-dasharray="1,1"/>
<line x1="351.3" y1="355.4" x2="351.3" y2="397.1" stroke="#999" stroke-width="0.6" stroke-dasharray="1,1"/>
<path d="M225.7 390.5h0M225.9 384h0M226.1 386.4h0M226.3 379.7h0M226.5 380.5h0M226.7 385.1h0M227 385.4h0M227.2 384.7h0M227.4 382.8h0M227.6 389.5h0M227.8 381.8h0M228 384.2h0M228.2 382.1h0M228.4 386.7h0M228.6 381.3h0M228.8 384.9h0M229 384.5h0M229.3 381.6h0M229.5 386.8h0M229.7 382.3h0M229.9 385.8h0M230.1 382.7h0M230.3 379.7h0M230.5 380.9h0M230.7 384.6h0M230.9 382.5h0M231.1 382.6h0M231.4 380.3h0M231.6 388h0M231.8 382.6h0M232 383.8h0M232.2 386.3h0M232.4 378.7h0M232.6 386.5h0M232.8 382h0M233 380.6h0M233.2 384.4h0M233.4 382.8h0M233.7 383.9h0M233.9 382.7h0M234.1 379.8h0M234.3 385.7h0M234.5 382.9h0M234.7 381.1h0M234.9 383.7h0M235.1 382h0M235.3 381.1h0M235.5 385.8h0M235.7 378.3h0M236 383.6h0M236.2 383.4h0M236.4 380.9h0M236.6 381.4h0M236.8 383.6h0M237 385.7h0M237.2 384.4h0M237.4 381.3h0M237.6 380h0M237.8 382.8h0M238.1 381.5h0M238.3 383.2h0M238.5 382.4h0M238.7 382.4h0M238.9 383.9h0M239.1 383.6h0M239.3 384.2h0M239.5 383h0M239.7 383.2h0M239.9 386.4h0M240.1 382h0M240.4 384.4h0M240.6 388.6h0M240.8 383.6h0M241 388.1h0M241.2 385.6h0M241.4 383h0M241.6 382.9h0M241.8 385.5h0M242 378.2h0M242.2 382.3h0M242.4 384.2h0M242.7 382.5h0M242.9 387.8h0M243.1 383.2h0M243.3 381.1h0M243.5 385.2h0M243.7 382.5h0M243.9 387.3h0M244.1 387.5h0M244.3 382.5h0M244.5 378.6h0M244.7 383h0M245 381.8h0M245.2 384.5h0M245.4 381.1h0M245.6 385.1h0M245.8 383.3h0M246 380.9h0M246.2 385.7h0M246.4 384.4h0M246.6 383.4h0M246.8 381.3h0M247.1 385.1h0M247.3 380h0M247.5 382.2h0M247.7 388.6h0M247.9 380.7h0M248.1 379.1h0M248.3 385.1h0M248.5 383.5h0M248.7 387.1h0M248.9 382.6h0M249.1 382.6h0M249.4 383.3h0M249.6 385.1h0M249.8 385.2h0M250 384.2h0M250.2 383.3h0M250.4 381.2h0M250.6 384.9h0M250.8 378.8h0M251 385.2h0M251.2 382.3h0M251.4 385.5h0M251.7 384.4h0M251.9 380.5h0M252.1 387.4h0M252.3 383.3h0M252.5 385h0M252.7 385.1h0M252.9 385.3h0M253.1 383.4h0M253.3 377.6h0M253.5 378.9h0M253.8 387.5h0M254 385.4h0M254.2 382.1h0M254.4 382.2h0M254.6 381.7h0M254.8 381h0M255 383.5h0M255.2 385.8h0M255.4 383.9h0M255.6 385.8h0M255.8 387.6h0M256.1 380.5h0M256.3 378.5h0M256.5 385h0M256.7 378.1h0M256.9 382.1h0M257.1 386.2h0M257.3 383.5h0M257.5 384h0M257.7 383.1h0M257.9 386.2h0M258.1 384.6h0M258.4 379.2h0M258.6 386.2h0M258.8 381.8h0M259 382.2h0M259.2 382.1h0M259.4 385.3h0M259.6 387.3h0M259.8 386.3h0M260 382.4h0M260.2 382.4h0M260.4 384.1h0M260.7 389.6h0M260.9 383.8h0M261.1 386.4h0M261.3 381.8h0M261.5 382.5h0M261.7 381.9h0M261.9 382.6h0M262.1 382.8h0M262.3 386.4h0M262.5 385.6h0M262.8 385h0M263 384.5h0M263.2 378.2h0M263.4 383.7h0M263.6 387.4h0M263.8 387.2h0M264 380.7h0M264.2 383.3h0M264.4 382.1h0M264.6 384.3h0M264.8 389.7h0M265.1 383.1h0M265.3 383h0M265.5 386.6h0M265.7 378.5h0M265.9 382.8h0M266.1 381.1h0M266.3 384h0M266.5 382.3h0M266.7 383.4h0M266.9 381.5h0M267.1 384.6h0M267.4 380.4h0M232.6 393.3h0M234.1 393.6h0M241 393.6h0M250.6 393.3h0M267.4 375.9h0M244.5 390.8h0M257.1 391.5h0" stroke="#f20a0a" stroke-width="2.5" stroke-linecap="round" fill="none" />
<path d="M267.6 366.2h0M267.8 366.1h0M268 370.4h0M268.2 367.9h0M268.4 368.2h0M268.6 367.6h0M268.8 370h0M269 367h0M269.2 367h0M269.5 369.3h0M269.7 367.3h0M269.9 367h0M270.1 370.4h0M270.3 367.5h0M270.5 365.7h0M270.7 366h0M270.9 369.3h0M271.1 368.7h0M271.3 367.3h0M271.5 366.6h0M271.8 365.9h0M272 367.2h0M272.2 365.9h0M272.4 368.6h0M272.6 364.1h0M272.8 367.7h0M273 369.1h0M273.2 368.4h0M273.4 370.6h0M273.6 368.7h0M273.8 368h0M274.1 366.5h0M274.3 365.4h0M274.5 368.9h0M274.7 368.7h0M274.9 366.2h0M275.1 365.5h0M275.3 366h0M275.5 366.9h0M275.7 369.5h0M275.9 368.4h0M276.1 370.2h0M276.4 368.7h0M276.6 365.2h0M276.8 364.6h0M277 367.9h0M277.2 366.3h0M277.4 365h0M277.6 369.3h0M277.8 369.9h0M278 368.6h0M278.2 371.2h0M278.5 366.2h0M278.7 367.6h0M278.9 368h0M279.1 367.4h0M279.3 366.6h0M279.5 367.5h0M279.7 369.7h0M279.9 366.3h0M280.1 368.4h0M280.3 366.9h0M280.5 368.7h0M280.8 367.4h0M281 370.3h0M281.2 367.2h0M281.4 368h0M281.6 365.6h0M281.8 368.9h0M282 369.1h0M282.2 366.2h0M282.4 371h0M282.6 366.4h0M282.8 367.6h0M283.1 368.3h0M283.3 367.3h0M283.5 368h0M283.7 369.1h0M283.9 366.2h0M284.1 369.1h0M284.3 367.3h0M284.5 367.9h0M284.7 368.8h0M284.9 368.6h0M285.2 367h0M285.4 368.2h0M285.6 365.1h0M285.8 366h0M286 368.3h0M286.2 365.7h0M286.4 371.8h0M286.6 364.4h0M286.8 369.9h0M287 369.8h0M287.2 365.5h0M287.5 370.4h0M287.7 368.8h0M287.9 366.9h0M288.1 371.2h0M288.3 367.8h0M288.5 365.9h0M288.7 368.8h0M288.9 364.9h0M289.1 369.1h0M289.3 364.9h0M289.5 366.8h0M289.8 367.3h0M290 367.9h0M290.2 369.3h0M290.4 365.6h0M290.6 369.6h0M290.8 367.5h0M291 366.2h0M291.2 366.7h0M291.4 366.3h0M291.6 368.7h0M291.8 369.8h0M292.1 367.1h0M292.3 367.8h0M292.5 365.6h0M292.7 371.1h0M292.9 367.6h0M293.1 366.8h0M293.3 368.4h0M293.5 370.4h0M293.7 367.5h0M293.9 365.7h0M294.2 368.8h0M294.4 369.2h0M294.6 369.3h0M294.8 369.3h0M295 370.7h0M295.2 361.9h0M295.4 367.9h0M295.6 365.4h0M295.8 365.4h0M296 368.5h0M296.2 366.5h0M296.5 364.2h0M296.7 365.1h0M296.9 365.7h0M297.1 368.8h0M297.3 368.6h0M297.5 367.4h0M297.7 364.7h0M297.9 368.8h0M298.1 366.3h0M298.3 365.4h0M298.5 366h0M298.8 367.5h0M299 368.6h0M299.2 366.2h0M299.4 368h0M299.6 366.8h0M299.8 368.4h0M300 368.4h0M300.2 368.3h0M300.4 369.3h0M300.6 365.8h0M300.9 369.9h0M301.1 366.8h0M301.3 368.2h0M301.5 366.6h0M301.7 370.4h0M301.9 367.4h0M302.1 367.3h0M302.3 364.9h0M302.5 365.6h0M302.7 366.8h0M302.9 367.6h0M303.2 367.3h0M303.4 365.6h0M303.6 365.1h0M303.8 366.3h0M304 365.2h0M304.2 370.1h0M304.4 365.7h0M304.6 363.8h0M304.8 367.2h0M305 368.4h0M305.2 364.9h0M305.5 370.7h0M305.7 365.2h0M305.9 369.5h0M306.1 366.5h0M306.3 369.5h0M306.5 364.7h0M306.7 367.3h0M306.9 368.4h0M307.1 367.4h0M307.3 364.9h0M307.5 364.6h0M307.8 366.9h0M308 367.8h0M308.2 364.6h0M308.4 367.1h0M308.6 368.4h0M308.8 363.9h0M309 370.2h0M309.2 366.8h0" stroke="#0c0c96" stroke-width="2.5" stroke-linecap="round" fill="none" />
<path d="M309.4 375.2h0M309.6 376.9h0M309.9 378.9h0M310.1 377.5h0M310.3 376.8h0M310.5 377.4h0M310.7 379.2h0M310.9 373.8h0M311.1 375h0M311.3 381h0M311.5 378.4h0M311.7 379.1h0M311.9 374.9h0M312.2 376.2h0M312.4 377.4h0M312.6 378.4h0M312.8 377.7h0M313 377.5h0M313.2 377h0M313.4 380.1h0M313.6 376.5h0M313.8 377.7h0M314 376.1h0M314.2 378h0M314.5 375.2h0M314.7 378.2h0M314.9 376.6h0M315.1 381h0M315.3 377.8h0M315.5 378.5h0M315.7 378.7h0M315.9 378.4h0M316.1 379.3h0M316.3 378.4h0M316.6 376h0M316.8 376.7h0M317 376.2h0M317.2 379.7h0M317.4 376.8h0M317.6 376.1h0M317.8 377.5h0M318 378.9h0M318.2 377h0M318.4 375.7h0M318.6 378.1h0M318.9 374.7h0M319.1 375.8h0M319.3 375.6h0M319.5 381.3h0M319.7 379.2h0M319.9 375.9h0M320.1 377.8h0M320.3 377.6h0M320.5 377.7h0M320.7 377.7h0M320.9 379h0M321.2 378.7h0M321.4 377h0M321.6 378.8h0M321.8 374.2h0M322 377.8h0M322.2 376.8h0M322.4 375.1h0M322.6 377.4h0M322.8 379.8h0M323 379.1h0M323.2 377.8h0M323.5 378.2h0M323.7 378.9h0M323.9 378.9h0M324.1 375.8h0M324.3 377.3h0M324.5 375.6h0M324.7 377.2h0M324.9 375.8h0M325.1 376.6h0M325.3 376.9h0M325.6 379.3h0M325.8 379h0M326 376h0M326.2 373h0M326.4 378.5h0M326.6 378.9h0M326.8 379.8h0M327 378.5h0M327.2 378.1h0M327.4 377.4h0M327.6 377.9h0M327.9 378.2h0M328.1 378.3h0M328.3 379.8h0M328.5 380h0M328.7 376h0M328.9 376.1h0M329.1 379.8h0M329.3 376.9h0M329.5 375.9h0M329.7 379.6h0M329.9 377h0M330.2 376.5h0M330.4 378.8h0M330.6 378.3h0M330.8 377.5h0M331 377.6h0M331.2 379.8h0M331.4 376.7h0M331.6 378.2h0M331.8 378.3h0M332 376.3h0M332.3 380.5h0M332.5 378.2h0M332.7 379.7h0M332.9 378.1h0M333.1 374h0M333.3 378.1h0M333.5 377h0M333.7 377.7h0M333.9 377.4h0M334.1 379.1h0M334.3 377.3h0M334.6 378.1h0M334.8 376.8h0M335 379.6h0M335.2 375.4h0M335.4 379.1h0M335.6 377.5h0M335.8 377.2h0M336 376.5h0M336.2 378.5h0M336.4 376.8h0M336.6 377.8h0M336.9 380.5h0M337.1 379.9h0M337.3 378.2h0M337.5 379h0M337.7 379.2h0M337.9 377.7h0M338.1 374.8h0M338.3 376h0M338.5 376.3h0M338.7 380.1h0M338.9 376.3h0M339.2 379h0M339.4 376.9h0M339.6 380.3h0M339.8 376.4h0M340 374.6h0M340.2 374.7h0M340.4 378.1h0M340.6 376.8h0M340.8 379.8h0M341 377.7h0M341.3 376.6h0M341.5 378.8h0M341.7 376.8h0M341.9 377.7h0M342.1 377.3h0M342.3 377.7h0M342.5 376.8h0M342.7 375.9h0M342.9 373.6h0M343.1 378h0M343.3 379.5h0M343.6 380.4h0M343.8 377.8h0M344 376.4h0M344.2 377.9h0M344.4 377.3h0M344.6 379.2h0M344.8 376h0M345 376.3h0M345.2 376.9h0M345.4 378.7h0M345.6 379.1h0M345.9 377.6h0M346.1 377.7h0M346.3 375.2h0M346.5 377.8h0M346.7 373.1h0M346.9 376.2h0M347.1 378.3h0M347.3 379.5h0M347.5 372.9h0M347.7 378.3h0M348 378.1h0M348.2 376.7h0M348.4 375.1h0M348.6 377.1h0M348.8 377.4h0M349 375.4h0M349.2 377.2h0M349.4 376.8h0M349.6 375.2h0M349.8 378.1h0M350 378.1h0M350.3 375h0M350.5 376.1h0M350.7 379.4h0M350.9 376.4h0M351.1 380.1h0" stroke="#12ee12" stroke-width="2.5" stroke-linecap="round" fill="none" />
<path d="M228.4 374.6h0M236.8 375.1h0M264.6 373.7h0M340.8 372.1h0M309 370h0M228.2 374.4h0M237 374.9h0M243.3 376.7h0M249.4 377.2h0M246 381.8h0M260.7 377.6h0M264.8 374.2h0M266.3 375.6h0M255 379.7h0" stroke="#0c0c96" stroke-width="2.5" stroke-linecap="round" fill="none" />
<line x1="225.7" y1="355.4" x2="225.7" y2="397.1" stroke="#555" stroke-width="1.1" />
<line x1="225.7" y1="397.1" x2="351.3" y2="397.1" stroke="#555" stroke-width="1.1" />
<line x1="222.2" y1="397.1" x2="225.7" y2="397.1" stroke="#555" stroke-width="1.1" />
<line x1="222.2" y1="390.15" x2="225.7" y2="390.15" stroke="#555" stroke-width="1.1" />
<line x1="222.2" y1="383.2" x2="225.7" y2="383.2" stroke="#555" stroke-width="1.1" />
<line x1="222.2" y1="376.25" x2="225.7" y2="376.25" stroke="#555" stroke-width="1.1" />
<line x1="222.2" y1="369.3" x2="225.7" y2="369.3" stroke="#555" stroke-width="1.1" />
<line x1="222.2" y1="362.35" x2="225.7" y2="362.35" stroke="#555" stroke-width="1.1" />
<line x1="222.2" y1="355.4" x2="225.7" y2="355.4" stroke="#555" stroke-width="1.1" />
<text x="218.7" y="366.65" font-size="12" text-anchor="end" >2</text>
<text x="218.7" y="380.55" font-size="12" text-anchor="end" >0</text>
<text x="218.7" y="394.45" font-size="12" text-anchor="end" >-2</text>
<line x1="225.7" y1="397.1" x2="225.7" y2="400.6" stroke="#555" stroke-width="1.1" />
<line x1="246.63" y1="397.1" x2="246.63" y2="400.6" stroke="#555" stroke-width="1.1" />
<line x1="267.57" y1="397.1" x2="267.57" y2="400.6" stroke="#555" stroke-width="1.1" />
<line x1="288.5" y1="397.1" x2="288.5" y2="400.6" stroke="#555" stroke-width="1.1" />
<line x1="309.43" y1="397.1" x2="309.43" y2="400.6" stroke="#555" stroke-width="1.1" />
<line x1="330.37" y1="397.1" x2="330.37" y2="400.6" stroke="#555" stroke-width="1.1" />
<line x1="351.3" y1="397.1" x2="351.3" y2="400.6" stroke="#555" stroke-width="1.1" />
<text x="225.7" y="414" font-size="12" text-anchor="middle" >0</text>
<text x="267.57" y="414" font-size="12" text-anchor="middle" >200</text>
<text x="309.43" y="414" font-size="12" text-anchor="middle" >400</text>
<text x="351.3" y="414" font-size="12" text-anchor="middle" >600</text>
<text x="288.5" y="430.7" font-size="13" text-anchor="middle" >Instances</text>
<text x="0" y="0" font-size="13" text-anchor="middle" transform="translate(204,375.4) rotate(-90)">PC1</text>
<line x1="459.47" y1="355.2" x2="459.47" y2="397.1" stroke="#999" stroke-width="0.6" stroke-dasharray="1,1"/>
<line x1="501.33" y1="355.2" x2="501.33" y2="397.1" stroke="#999" stroke-width="0.6" stroke-dasharray="1,1"/>
<line x1="543.2" y1="355.2" x2="543.2" y2="397.1" stroke="#999" stroke-width="0.6" stroke-dasharray="1,1"/>
<path d="M417.6 374.7h0M417.8 383.7h0M418 382.1h0M418.2 381h0M418.4 379.5h0M418.6 380.5h0M418.9 381.3h0M419.1 380h0M419.3 378.1h0M419.5 381.2h0M419.7 381.1h0M419.9 379.6h0M420.1 381.8h0M420.3 382h0M420.5 379.7h0M420.7 379.9h0M420.9 382h0M421.2 378.4h0M421.4 380.7h0M421.6 379.4h0M421.8 386.6h0M422 382.4h0M422.2 388h0M422.4 379.7h0M422.6 377.4h0M422.8 381.8h0M423 382h0M423.3 379.4h0M423.5 378.9h0M423.7 381.3h0M423.9 379.9h0M424.1 382.6h0M424.3 376.8h0M424.5 383.8h0M424.7 378.8h0M424.9 384.1h0M425.1 383.9h0M425.3 381.9h0M425.6 385.5h0M425.8 382.6h0M426 382.6h0M426.2 381.2h0M426.4 378h0M426.6 380.6h0M426.8 381.4h0M427 382.2h0M427.2 384.8h0M427.4 380.2h0M427.6 379.7h0M427.9 381.4h0M428.1 382.4h0M428.3 384h0M428.5 378.3h0M428.7 381.3h0M428.9 382.7h0M429.1 381.4h0M429.3 378.7h0M429.5 383.3h0M429.7 385.7h0M430 378.8h0M430.2 381.2h0M430.4 381.3h0M430.6 380.1h0M430.8 381.7h0M431 375.3h0M431.2 377.8h0M431.4 380.5h0M431.6 380.2h0M431.8 381.6h0M432 384.1h0M432.3 381.4h0M432.5 379.4h0M432.7 382.2h0M432.9 377.2h0M433.1 383.3h0M433.3 384.4h0M433.5 379.2h0M433.7 380.8h0M433.9 384.2h0M434.1 378h0M434.3 378.5h0M434.6 379.8h0M434.8 380.6h0M435 378.3h0M435.2 387.1h0M435.4 384h0M435.6 373.9h0M435.8 384.5h0M436 382.8h0M436.2 379h0M436.4 380.9h0M436.6 385h0M436.9 377.3h0M437.1 379.3h0M437.3 382.2h0M437.5 380.4h0M437.7 383.3h0M437.9 382.8h0M438.1 381.4h0M438.3 377.6h0M438.5 375.9h0M438.7 380h0M439 376.8h0M439.2 382h0M439.4 380.2h0M439.6 381.7h0M439.8 382.9h0M440 383.1h0M440.2 379.4h0M440.4 382h0M440.6 379.8h0M440.8 379h0M441 375.7h0M441.3 380.7h0M441.5 381.7h0M441.7 381.8h0M441.9 378.3h0M442.1 382.3h0M442.3 384.6h0M442.5 384h0M442.7 378.4h0M442.9 377.9h0M443.1 379.5h0M443.3 383.8h0M443.6 379.5h0M443.8 382.5h0M444 379.4h0M444.2 381.4h0M444.4 376h0M444.6 381.2h0M444.8 382.2h0M445 380.3h0M445.2 376h0M445.4 381h0M445.7 380.5h0M445.9 383.7h0M446.1 385.3h0M446.3 379.6h0M446.5 379.9h0M446.7 383.4h0M446.9 388.2h0M447.1 385.2h0M447.3 381.2h0M447.5 385.4h0M447.7 379.3h0M448 381.4h0M448.2 383.2h0M448.4 383.6h0M448.6 382.9h0M448.8 386.1h0M449 377.9h0M449.2 379.1h0M449.4 379.4h0M449.6 382.5h0M449.8 385.8h0M450 378.1h0M450.3 380.9h0M450.5 374.4h0M450.7 378h0M450.9 377.1h0M451.1 385.2h0M451.3 383.5h0M451.5 380h0M451.7 380h0M451.9 381.5h0M452.1 379.7h0M452.3 385h0M452.6 379.5h0M452.8 380.7h0M453 382.9h0M453.2 377.9h0M453.4 384.9h0M453.6 381.6h0M453.8 386.7h0M454 381.7h0M454.2 382.2h0M454.4 377h0M454.7 380.9h0M454.9 378.9h0M455.1 377.4h0M455.3 380.8h0M455.5 380.6h0M455.7 379.7h0M455.9 382.4h0M456.1 379.2h0M456.3 379.8h0M456.5 386.2h0M456.7 386.4h0M457 384.5h0M457.2 380.3h0M457.4 379.9h0M457.6 379.8h0M457.8 376.1h0M458 377.9h0M458.2 374.7h0M458.4 380.4h0M458.6 377.9h0M458.8 380.7h0M459 377.4h0M459.3 381.6h0M424.5 392.1h0M426 392.6h0M432.9 392.6h0M442.5 392.1h0M459.3 371.4h0M436.4 389.2h0M449 390.1h0M421.8 369.3h0M428.1 371h0M433.3 372.6h0" stroke="#f20a0a" stroke-width="2.5" stroke-linecap="round" fill="none" />
<path d="M459.5 362.2h0M459.7 361.2h0M459.9 360.1h0M460.1 365.3h0M460.3 361.8h0M460.5 363h0M460.7 358.3h0M460.9 361.7h0M461.1 362.7h0M461.4 357.8h0M461.6 361h0M461.8 359.7h0M462 360.7h0M462.2 361.7h0M462.4 359.8h0M462.6 362.8h0M462.8 364.2h0M463 362.7h0M463.2 360h0M463.4 362.1h0M463.7 359.1h0M463.9 359.8h0M464.1 360.9h0M464.3 359h0M464.5 360.5h0M464.7 360.7h0M464.9 361.9h0M465.1 361.5h0M465.3 361.5h0M465.5 359.1h0M465.7 358h0M466 359.1h0M466.2 360.8h0M466.4 361.6h0M466.6 360.8h0M466.8 362.5h0M467 361.4h0M467.2 362h0M467.4 361.4h0M467.6 366.3h0M467.8 361.3h0M468 360h0M468.3 363.6h0M468.5 357.7h0M468.7 361h0M468.9 362.5h0M469.1 358.4h0M469.3 363.3h0M469.5 355.7h0M469.7 362.8h0M469.9 359.4h0M470.1 358.3h0M470.4 359.9h0M470.6 361h0M470.8 362.8h0M471 361.6h0M471.2 360.9h0M471.4 359.3h0M471.6 365.9h0M471.8 360h0M472 363.7h0M472.2 362.6h0M472.4 361.5h0M472.7 362.6h0M472.9 360.1h0M473.1 364.7h0M473.3 360.3h0M473.5 363.4h0M473.7 362.1h0M473.9 361.5h0M474.1 364.3h0M474.3 360.5h0M474.5 356.9h0M474.7 362.7h0M475 363.2h0M475.2 358.2h0M475.4 357.9h0M475.6 365.6h0M475.8 362.1h0M476 363h0M476.2 361h0M476.4 361.5h0M476.6 363.4h0M476.8 362.2h0M477.1 359h0M477.3 363.3h0M477.5 360.9h0M477.7 360h0M477.9 357.7h0M478.1 360.4h0M478.3 360.8h0M478.5 363.3h0M478.7 360.8h0M478.9 358.5h0M479.1 360.4h0M479.4 358.8h0M479.6 362.3h0M479.8 359.7h0M480 361.8h0M480.2 362.8h0M480.4 362.6h0M480.6 358.8h0M480.8 360.1h0M481 361.7h0M481.2 361.9h0M481.4 359.6h0M481.7 362.3h0M481.9 359h0M482.1 360.7h0M482.3 362.5h0M482.5 361.7h0M482.7 363.5h0M482.9 363.6h0M483.1 362.4h0M483.3 362.3h0M483.5 362.1h0M483.7 362.9h0M484 362.7h0M484.2 360.6h0M484.4 364.1h0M484.6 366.6h0M484.8 357.8h0M485 361.1h0M485.2 360.9h0M485.4 358.9h0M485.6 359h0M485.8 358.3h0M486.1 359.3h0M486.3 359.7h0M486.5 360.3h0M486.7 361.6h0M486.9 361.6h0M487.1 368.8h0M487.3 357.9h0M487.5 361.6h0M487.7 363.4h0M487.9 358.9h0M488.1 362.8h0M488.4 360.5h0M488.6 363.1h0M488.8 363.7h0M489 359h0M489.2 361h0M489.4 364.6h0M489.6 359.9h0M489.8 359.4h0M490 361.9h0M490.2 359.8h0M490.4 358.6h0M490.7 358.9h0M490.9 360h0M491.1 359.7h0M491.3 357.9h0M491.5 360.9h0M491.7 361.9h0M491.9 361.9h0M492.1 354.6h0M492.3 363.4h0M492.5 361.3h0M492.8 365.2h0M493 361.4h0M493.2 361.7h0M493.4 361.5h0M493.6 359.7h0M493.8 358.2h0M494 360.8h0M494.2 363h0M494.4 362.4h0M494.6 361.3h0M494.8 362.8h0M495.1 361.5h0M495.3 360.2h0M495.5 360.9h0M495.7 357.1h0M495.9 364.8h0M496.1 361h0M496.3 359.1h0M496.5 363.6h0M496.7 364.9h0M496.9 356.9h0M497.1 359.3h0M497.4 360.2h0M497.6 358.8h0M497.8 363.4h0M498 363.7h0M498.2 358h0M498.4 361.1h0M498.6 364.7h0M498.8 361.6h0M499 358h0M499.2 363.6h0M499.4 364.7h0M499.7 366.2h0M499.9 361.7h0M500.1 361.5h0M500.3 362.7h0M500.5 362.5h0M500.7 361.9h0M500.9 362.7h0M501.1 362.5h0" stroke="#0c0c96" stroke-width="2.5" stroke-linecap="round" fill="none" />
<path d="M501.3 371.9h0M501.5 373.5h0M501.8 375.1h0M502 371.8h0M502.2 376h0M502.4 372.4h0M502.6 374.7h0M502.8 375.2h0M503 371.8h0M503.2 375.3h0M503.4 375h0M503.6 372.4h0M503.8 372.3h0M504.1 372.9h0M504.3 374.5h0M504.5 372.1h0M504.7 373.3h0M504.9 371.6h0M505.1 376.4h0M505.3 370.4h0M505.5 377h0M505.7 372.3h0M505.9 370.9h0M506.1 373.9h0M506.4 372.3h0M506.6 373.2h0M506.8 372.9h0M507 373.9h0M507.2 376.2h0M507.4 371.7h0M507.6 372.2h0M507.8 370.7h0M508 373.2h0M508.2 373.3h0M508.5 372.1h0M508.7 373.2h0M508.9 373.7h0M509.1 372.2h0M509.3 369.7h0M509.5 372.1h0M509.7 374.7h0M509.9 375.4h0M510.1 373.6h0M510.3 372.1h0M510.5 372.8h0M510.8 368.5h0M511 371.9h0M511.2 373.5h0M511.4 372h0M511.6 374.6h0M511.8 374.7h0M512 372.5h0M512.2 372.3h0M512.4 372.1h0M512.6 373h0M512.8 373h0M513.1 371.4h0M513.3 374.9h0M513.5 374.2h0M513.7 368.9h0M513.9 374.1h0M514.1 369.5h0M514.3 370.2h0M514.5 370.5h0M514.7 373.8h0M514.9 375.4h0M515.1 369.5h0M515.4 373h0M515.6 372.3h0M515.8 374.7h0M516 374.9h0M516.2 374.3h0M516.4 374.1h0M516.6 373.7h0M516.8 374.5h0M517 372.1h0M517.2 372.2h0M517.5 371.7h0M517.7 373.7h0M517.9 372.1h0M518.1 376h0M518.3 374.3h0M518.5 373h0M518.7 375.4h0M518.9 370.1h0M519.1 373.7h0M519.3 374.6h0M519.5 374.8h0M519.8 376.5h0M520 369.7h0M520.2 373.2h0M520.4 374.2h0M520.6 373h0M520.8 371.6h0M521 375h0M521.2 375.6h0M521.4 372.3h0M521.6 372.4h0M521.8 370.3h0M522.1 373.2h0M522.3 370.5h0M522.5 377.6h0M522.7 373.9h0M522.9 371.6h0M523.1 373h0M523.3 373.9h0M523.5 372.8h0M523.7 371.2h0M523.9 375.7h0M524.2 370.4h0M524.4 372.7h0M524.6 372.2h0M524.8 372.2h0M525 373.3h0M525.2 375h0M525.4 371.1h0M525.6 375.6h0M525.8 375.5h0M526 373.5h0M526.2 372.2h0M526.5 370.3h0M526.7 372.8h0M526.9 372.1h0M527.1 371.4h0M527.3 374.6h0M527.5 374.9h0M527.7 373.4h0M527.9 374.4h0M528.1 373.7h0M528.3 374.5h0M528.5 376.6h0M528.8 374.4h0M529 372.5h0M529.2 374h0M529.4 374.9h0M529.6 374.9h0M529.8 374.3h0M530 374.5h0M530.2 375.2h0M530.4 373.4h0M530.6 375.5h0M530.8 372.4h0M531.1 374.3h0M531.3 372.8h0M531.5 375.4h0M531.7 373.5h0M531.9 373.6h0M532.1 371.9h0M532.3 373.3h0M532.5 370.7h0M532.7 372.9h0M532.9 374.2h0M533.2 376.3h0M533.4 372.7h0M533.6 373.1h0M533.8 372.7h0M534 373.1h0M534.2 373.2h0M534.4 366.4h0M534.6 372.6h0M534.8 372.9h0M535 375.1h0M535.2 373.1h0M535.5 375.7h0M535.7 372.7h0M535.9 373.9h0M536.1 372.1h0M536.3 370.9h0M536.5 373.8h0M536.7 373.4h0M536.9 375.2h0M537.1 374.5h0M537.3 376.5h0M537.5 374.2h0M537.8 374.6h0M538 374.6h0M538.2 373.5h0M538.4 373.4h0M538.6 371.1h0M538.8 375.2h0M539 373.4h0M539.2 372.1h0M539.4 373h0M539.6 370.2h0M539.9 373.6h0M540.1 375.4h0M540.3 375.6h0M540.5 373h0M540.7 368.2h0M540.9 372.8h0M541.1 374.1h0M541.3 373.6h0M541.5 370.3h0M541.7 374.2h0M541.9 371.4h0M542.2 373.9h0M542.4 372.4h0M542.6 371.5h0M542.8 373.1h0M543 373.1h0" stroke="#12ee12" stroke-width="2.5" stroke-linecap="round" fill="none" />
<path d="M420.3 369.8h0M428.7 370.5h0M456.5 368.7h0M532.7 366.8h0M500.9 364.3h0" stroke="#0c0c96" stroke-width="2.5" stroke-linecap="round" fill="none" />
<line x1="417.6" y1="355.2" x2="417.6" y2="397.1" stroke="#555" stroke-width="1.1" />
<line x1="417.6" y1="397.1" x2="543.2" y2="397.1" stroke="#555" stroke-width="1.1" />
<line x1="414.1" y1="396.7" x2="417.6" y2="396.7" stroke="#555" stroke-width="1.1" />
<line x1="414.1" y1="388.4" x2="417.6" y2="388.4" stroke="#555" stroke-width="1.1" />
<line x1="414.1" y1="380.1" x2="417.6" y2="380.1" stroke="#555" stroke-width="1.1" />
<line x1="414.1" y1="371.8" x2="417.6" y2="371.8" stroke="#555" stroke-width="1.1" />
<line x1="414.1" y1="363.5" x2="417.6" y2="363.5" stroke="#555" stroke-width="1.1" />
<line x1="414.1" y1="355.2" x2="417.6" y2="355.2" stroke="#555" stroke-width="1.1" />
<text x="410.6" y="359.5" font-size="12" text-anchor="end" >2</text>
<text x="410.6" y="376.1" font-size="12" text-anchor="end" >0</text>
<text x="410.6" y="392.7" font-size="12" text-anchor="end" >-2</text>
<line x1="417.6" y1="397.1" x2="417.6" y2="400.6" stroke="#555" stroke-width="1.1" />
<line x1="438.53" y1="397.1" x2="438.53" y2="400.6" stroke="#555" stroke-width="1.1" />
<line x1="459.47" y1="397.1" x2="459.47" y2="400.6" stroke="#555" stroke-width="1.1" />
<line x1="480.4" y1="397.1" x2="480.4" y2="400.6" stroke="#555" stroke-width="1.1" />
<line x1="501.33" y1="397.1" x2="501.33" y2="400.6" stroke="#555" stroke-width="1.1" />
<line x1="522.27" y1="397.1" x2="522.27" y2="400.6" stroke="#555" stroke-width="1.1" />
<line x1="543.2" y1="397.1" x2="543.2" y2="400.6" stroke="#555" stroke-width="1.1" />
<text x="417.6" y="414" font-size="12" text-anchor="middle" >0</text>
<text x="459.47" y="414" font-size="12" text-anchor="middle" >200</text>
<text x="501.33" y="414" font-size="12" text-anchor="middle" >400</text>
<text x="543.2" y="414" font-size="12" text-anchor="middle" >600</text>
<text x="480.4" y="430.7" font-size="13" text-anchor="middle" >Instances</text>
<text x="0" y="0" font-size="13" text-anchor="middle" transform="translate(395.9,375.4) rotate(-90)">PC1</text>
<line x1="651.27" y1="354.6" x2="651.27" y2="396.6" stroke="#999" stroke-width="0.6" stroke-dasharray="1,1"/>
<line x1="693.13" y1="354.6" x2="693.13" y2="396.6" stroke="#999" stroke-width="0.6" stroke-dasharray="1,1"/>
<line x1="735" y1="354.6" x2="735" y2="396.6" stroke="#999" stroke-width="0.6" stroke-dasharray="1,1"/>
<path d="M609.4 381.7h0M609.6 385.6h0M609.8 376.6h0M610 378h0M610.2 385.6h0M610.4 378.5h0M610.7 380.7h0M610.9 383.4h0M611.1 379.6h0M611.3 381.8h0M611.5 375.6h0M611.7 384.3h0M611.9 383h0M612.1 384.7h0M612.3 380.8h0M612.5 386.7h0M612.7 384.5h0M613 380h0M613.2 380.2h0M613.4 383.8h0M613.6 382.1h0M613.8 382.7h0M614 380.5h0M614.2 378.7h0M614.4 381.1h0M614.6 379.8h0M614.8 372.5h0M615.1 378.6h0M615.3 382.8h0M615.5 379h0M615.7 375.3h0M615.9 383.2h0M616.1 383.9h0M616.3 378.6h0M616.5 374.6h0M616.7 376.5h0M616.9 378.6h0M617.1 383.3h0M617.4 375.6h0M617.6 378.9h0M617.8 374.8h0M618 378.6h0M618.2 381.6h0M618.4 380.5h0M618.6 382.2h0M618.8 383h0M619 379.2h0M619.2 382.7h0M619.4 381.6h0M619.7 375.1h0M619.9 380.5h0M620.1 384.2h0M620.3 378.8h0M620.5 373h0M620.7 381.1h0M620.9 382h0M621.1 380.2h0M621.3 378.5h0M621.5 381.4h0M621.8 378.7h0M622 382.9h0M622.2 383.1h0M622.4 377.4h0M622.6 381.4h0M622.8 382.3h0M623 378.1h0M623.2 375h0M623.4 381.6h0M623.6 381.6h0M623.8 379.1h0M624.1 376.6h0M624.3 377.1h0M624.5 378.6h0M624.7 377.7h0M624.9 378.1h0M625.1 374.5h0M625.3 387.4h0M625.5 379.9h0M625.7 381.2h0M625.9 379.5h0M626.1 384.2h0M626.4 383.3h0M626.6 378.4h0M626.8 380.8h0M627 381.6h0M627.2 377.6h0M627.4 385.6h0M627.6 381.5h0M627.8 384.2h0M628 381.2h0M628.2 382h0M628.4 381.2h0M628.7 379.4h0M628.9 379.3h0M629.1 379.7h0M629.3 374.3h0M629.5 379.7h0M629.7 375.1h0M629.9 381.1h0M630.1 383.7h0M630.3 388.3h0M630.5 381.9h0M630.8 379.1h0M631 378.9h0M631.2 379h0M631.4 378.5h0M631.6 378.4h0M631.8 383.6h0M632 373h0M632.2 382.3h0M632.4 380.9h0M632.6 384.2h0M632.8 373.7h0M633.1 372.7h0M633.3 375.3h0M633.5 383.3h0M633.7 380.6h0M633.9 376.4h0M634.1 383.7h0M634.3 382.2h0M634.5 382.1h0M634.7 384h0M634.9 382.2h0M635.1 383.6h0M635.4 385.1h0M635.6 376.3h0M635.8 374.9h0M636 385.3h0M636.2 376.6h0M636.4 387.5h0M636.6 383h0M636.8 383.7h0M637 380.2h0M637.2 378.5h0M637.5 382.4h0M637.7 379.8h0M637.9 374h0M638.1 383.3h0M638.3 378.2h0M638.5 382h0M638.7 382.5h0M638.9 380.1h0M639.1 384.4h0M639.3 378.7h0M639.5 379.1h0M639.8 378.7h0M640 378.5h0M640.2 377.3h0M640.4 378.4h0M640.6 379.6h0M640.8 379.9h0M641 376h0M641.2 382.8h0M641.4 379.3h0M641.6 378.8h0M641.8 377.9h0M642.1 378.9h0M642.3 380.1h0M642.5 375.3h0M642.7 379.7h0M642.9 377.2h0M643.1 372.9h0M643.3 387.7h0M643.5 379.9h0M643.7 374.1h0M643.9 373.3h0M644.1 381.5h0M644.4 378.1h0M644.6 385.6h0M644.8 379.2h0M645 380.8h0M645.2 382h0M645.4 377.8h0M645.6 380.9h0M645.8 384.8h0M646 379.1h0M646.2 381.7h0M646.5 378.8h0M646.7 383.4h0M646.9 378.2h0M647.1 376.8h0M647.3 378.8h0M647.5 377.6h0M647.7 377.9h0M647.9 382.7h0M648.1 382.4h0M648.3 379.7h0M648.5 381.2h0M648.8 385.2h0M649 384.5h0M649.2 382.7h0M649.4 377.5h0M649.6 383h0M649.8 383.8h0M650 385.2h0M650.2 381.1h0M650.4 378.6h0M650.6 376.8h0M650.8 382.4h0M651.1 382.9h0M616.3 391.9h0M617.8 392.4h0M624.7 392.4h0M634.3 391.9h0M651.1 371.2h0M628.2 389h0M640.8 389.9h0" stroke="#f20a0a" stroke-width="2.5" stroke-linecap="round" fill="none" />
<path d="M651.3 363.5h0M651.5 362.4h0M651.7 358.1h0M651.9 359h0M652.1 359h0M652.3 361.3h0M652.5 360.5h0M652.7 362h0M652.9 358.8h0M653.2 359.2h0M653.4 358.5h0M653.6 362.2h0M653.8 360.9h0M654 359.8h0M654.2 358.2h0M654.4 362.8h0M654.6 359.4h0M654.8 361.2h0M655 361h0M655.2 362.4h0M655.5 359.5h0M655.7 359.5h0M655.9 363.2h0M656.1 358.1h0M656.3 362.8h0M656.5 360.2h0M656.7 357.8h0M656.9 363.9h0M657.1 364.6h0M657.3 359.9h0M657.5 359.4h0M657.8 360.2h0M658 359.2h0M658.2 362.8h0M658.4 359.9h0M658.6 360.1h0M658.8 359.4h0M659 362.4h0M659.2 355.1h0M659.4 361.3h0M659.6 364.7h0M659.8 363.2h0M660.1 363.4h0M660.3 358h0M660.5 358.7h0M660.7 360.2h0M660.9 359.4h0M661.1 360.9h0M661.3 358.3h0M661.5 362.2h0M661.7 357.1h0M661.9 359.9h0M662.2 357.3h0M662.4 364.9h0M662.6 362.2h0M662.8 360.6h0M663 360.7h0M663.2 363.9h0M663.4 358.7h0M663.6 360.3h0M663.8 363.8h0M664 363.5h0M664.2 362.4h0M664.5 362.4h0M664.7 360.5h0M664.9 360.7h0M665.1 359.4h0M665.3 359.6h0M665.5 364.7h0M665.7 358h0M665.9 365.1h0M666.1 361.1h0M666.3 362.5h0M666.5 364.1h0M666.8 358.7h0M667 364.6h0M667.2 361.9h0M667.4 363.4h0M667.6 360.1h0M667.8 362.4h0M668 361.1h0M668.2 359.9h0M668.4 360.7h0M668.6 360.1h0M668.9 360.3h0M669.1 359.3h0M669.3 362.9h0M669.5 367.1h0M669.7 363.2h0M669.9 363.7h0M670.1 362.2h0M670.3 361.3h0M670.5 361.5h0M670.7 363.9h0M670.9 365.1h0M671.2 360h0M671.4 359.8h0M671.6 361.5h0M671.8 359h0M672 360.8h0M672.2 363.3h0M672.4 362.2h0M672.6 361.5h0M672.8 359.5h0M673 361.9h0M673.2 360.7h0M673.5 365.6h0M673.7 360.8h0M673.9 358.3h0M674.1 363.6h0M674.3 360.2h0M674.5 359.1h0M674.7 360h0M674.9 360.1h0M675.1 360.3h0M675.3 360.9h0M675.5 361.3h0M675.8 362.7h0M676 362.2h0M676.2 363.3h0M676.4 361.2h0M676.6 357.9h0M676.8 362.5h0M677 361h0M677.2 361.4h0M677.4 358.5h0M677.6 360.9h0M677.9 358.6h0M678.1 364.5h0M678.3 357.2h0M678.5 358.9h0M678.7 357.9h0M678.9 360.7h0M679.1 360.5h0M679.3 359.2h0M679.5 364.2h0M679.7 364.8h0M679.9 358.4h0M680.2 361.6h0M680.4 359h0M680.6 358.7h0M680.8 364.2h0M681 359.2h0M681.2 361.7h0M681.4 361.5h0M681.6 365.9h0M681.8 361.5h0M682 363h0M682.2 357.5h0M682.5 362.7h0M682.7 358.7h0M682.9 360.4h0M683.1 357.3h0M683.3 361.8h0M683.5 361.3h0M683.7 361.9h0M683.9 360.1h0M684.1 362.4h0M684.3 360.3h0M684.6 357.6h0M684.8 368.3h0M685 360h0M685.2 360.6h0M685.4 361.8h0M685.6 359.8h0M685.8 360.7h0M686 359.5h0M686.2 360.3h0M686.4 361.3h0M686.6 360.8h0M686.9 361.7h0M687.1 364.9h0M687.3 362.9h0M687.5 359.3h0M687.7 366.5h0M687.9 364.4h0M688.1 361h0M688.3 362.5h0M688.5 362.8h0M688.7 361.7h0M688.9 357.5h0M689.2 363.5h0M689.4 366.2h0M689.6 359.9h0M689.8 360.2h0M690 365h0M690.2 363.6h0M690.4 357.9h0M690.6 358.9h0M690.8 357.6h0M691 364.5h0M691.2 357.8h0M691.5 362.7h0M691.7 360.7h0M691.9 361.3h0M692.1 359.1h0M692.3 359.3h0M692.5 362.8h0M692.7 363.8h0M692.9 356.1h0" stroke="#0c0c96" stroke-width="2.5" stroke-linecap="round" fill="none" />
<path d="M693.1 373.1h0M693.3 373.8h0M693.6 373.4h0M693.8 373.2h0M694 373.2h0M694.2 375.8h0M694.4 370.2h0M694.6 370.6h0M694.8 373h0M695 372.9h0M695.2 374.2h0M695.4 372.3h0M695.6 375.1h0M695.9 374.1h0M696.1 374.2h0M696.3 374.5h0M696.5 371.9h0M696.7 372.5h0M696.9 373.8h0M697.1 371.1h0M697.3 372.5h0M697.5 368.1h0M697.7 371.1h0M697.9 372.1h0M698.2 370.5h0M698.4 372.8h0M698.6 374.3h0M698.8 375h0M699 371.5h0M699.2 372.9h0M699.4 372.8h0M699.6 371.1h0M699.8 375.8h0M700 373h0M700.3 371.4h0M700.5 375h0M700.7 377h0M700.9 371.5h0M701.1 369.8h0M701.3 373.8h0M701.5 374.7h0M701.7 372h0M701.9 375.5h0M702.1 375.2h0M702.3 377.1h0M702.6 371.6h0M702.8 375.5h0M703 370.6h0M703.2 373.6h0M703.4 375.8h0M703.6 371.9h0M703.8 373.2h0M704 374.7h0M704.2 373.7h0M704.4 369.9h0M704.6 370.1h0M704.9 371.6h0M705.1 372.8h0M705.3 372.9h0M705.5 372.6h0M705.7 373.7h0M705.9 371.6h0M706.1 375.9h0M706.3 372.1h0M706.5 373.6h0M706.7 374.6h0M706.9 374.2h0M707.2 376.7h0M707.4 374.5h0M707.6 373.4h0M707.8 372.5h0M708 373.7h0M708.2 375.1h0M708.4 373.4h0M708.6 376.3h0M708.8 369.4h0M709 374h0M709.3 375.3h0M709.5 372.8h0M709.7 374.4h0M709.9 375h0M710.1 374.6h0M710.3 374.5h0M710.5 374.6h0M710.7 375.5h0M710.9 373.3h0M711.1 370.6h0M711.3 372.7h0M711.6 371.9h0M711.8 374.5h0M712 371.4h0M712.2 373.1h0M712.4 373.5h0M712.6 374.6h0M712.8 371.3h0M713 371.9h0M713.2 372.4h0M713.4 373.7h0M713.6 375.1h0M713.9 374h0M714.1 372.3h0M714.3 371.2h0M714.5 370.8h0M714.7 371.8h0M714.9 372.6h0M715.1 374h0M715.3 374.8h0M715.5 373.3h0M715.7 373.5h0M716 372h0M716.2 374h0M716.4 373.6h0M716.6 372.2h0M716.8 372.2h0M717 372.1h0M717.2 373.1h0M717.4 374.2h0M717.6 373.3h0M717.8 374.5h0M718 374.6h0M718.3 371.4h0M718.5 371.6h0M718.7 374.9h0M718.9 370.9h0M719.1 373.6h0M719.3 373.7h0M719.5 370.7h0M719.7 373.1h0M719.9 375.4h0M720.1 374h0M720.3 372.6h0M720.6 373.6h0M720.8 372.8h0M721 374.2h0M721.2 369.7h0M721.4 374.7h0M721.6 369.4h0M721.8 375.2h0M722 371.2h0M722.2 374.2h0M722.4 373.3h0M722.6 376.4h0M722.9 372.4h0M723.1 372.4h0M723.3 374.9h0M723.5 372.5h0M723.7 371.7h0M723.9 373.1h0M724.1 371.3h0M724.3 372.5h0M724.5 375.3h0M724.7 372.1h0M725 371.3h0M725.2 372.9h0M725.4 374.9h0M725.6 374h0M725.8 371.4h0M726 375h0M726.2 370.7h0M726.4 370.2h0M726.6 372.6h0M726.8 371.1h0M727 372.5h0M727.3 372.7h0M727.5 371.5h0M727.7 372.8h0M727.9 372.4h0M728.1 373.9h0M728.3 373.8h0M728.5 372.6h0M728.7 372.3h0M728.9 369.9h0M729.1 374.9h0M729.3 375.6h0M729.6 371.5h0M729.8 374.7h0M730 372.7h0M730.2 376.1h0M730.4 374.3h0M730.6 372.3h0M730.8 372.4h0M731 374.8h0M731.2 369.6h0M731.4 372.9h0M731.7 375.4h0M731.9 374h0M732.1 370.4h0M732.3 373.3h0M732.5 373.5h0M732.7 369.6h0M732.9 374.3h0M733.1 371.8h0M733.3 373.4h0M733.5 371.3h0M733.7 375.4h0M734 373.6h0M734.2 372.5h0M734.4 373.4h0M734.6 373.9h0M734.8 370.7h0" stroke="#12ee12" stroke-width="2.5" stroke-linecap="round" fill="none" />
<path d="M712 374.8h0M698.2 374.4h0M720.8 376.5h0M728.5 375.1h0M732.7 374.4h0M711.1 374.9h0M713.9 374.7h0M707.2 375.5h0M696.9 372.6h0M722.6 376h0M711.6 376.8h0M720.3 374.6h0M733.7 375.7h0M704.6 374.6h0" stroke="#e83010" stroke-width="2.5" stroke-linecap="round" fill="none" />
<path d="M612.1 369.6h0M620.5 370.3h0M648.3 368.5h0M724.5 366.6h0M692.7 364.1h0M707.8 366.4h0M728.7 366.7h0M706.5 366.6h0M731.9 369.9h0M709.3 369.1h0M717.4 366.3h0M731.4 369.6h0M722.6 367h0M697.3 368.3h0M714.9 368.4h0M723.5 366.8h0M728.9 366.2h0" stroke="#0c0c96" stroke-width="2.5" stroke-linecap="round" fill="none" />
<line x1="609.4" y1="354.6" x2="609.4" y2="396.6" stroke="#555" stroke-width="1.1" />
<line x1="609.4" y1="396.6" x2="735" y2="396.6" stroke="#555" stroke-width="1.1" />
<line x1="605.9" y1="396.5" x2="609.4" y2="396.5" stroke="#555" stroke-width="1.1" />
<line x1="605.9" y1="388.2" x2="609.4" y2="388.2" stroke="#555" stroke-width="1.1" />
<line x1="605.9" y1="379.9" x2="609.4" y2="379.9" stroke="#555" stroke-width="1.1" />
<line x1="605.9" y1="371.6" x2="609.4" y2="371.6" stroke="#555" stroke-width="1.1" />
<line x1="605.9" y1="363.3" x2="609.4" y2="363.3" stroke="#555" stroke-width="1.1" />
<line x1="605.9" y1="355" x2="609.4" y2="355" stroke="#555" stroke-width="1.1" />
<text x="602.4" y="359.3" font-size="12" text-anchor="end" >2</text>
<text x="602.4" y="375.9" font-size="12" text-anchor="end" >0</text>
<text x="602.4" y="392.5" font-size="12" text-anchor="end" >-2</text>
<line x1="609.4" y1="396.6" x2="609.4" y2="400.1" stroke="#555" stroke-width="1.1" />
<line x1="630.33" y1="396.6" x2="630.33" y2="400.1" stroke="#555" stroke-width="1.1" />
<line x1="651.27" y1="396.6" x2="651.27" y2="400.1" stroke="#555" stroke-width="1.1" />
<line x1="672.2" y1="396.6" x2="672.2" y2="400.1" stroke="#555" stroke-width="1.1" />
<line x1="693.13" y1="396.6" x2="693.13" y2="400.1" stroke="#555" stroke-width="1.1" />
<line x1="714.07" y1="396.6" x2="714.07" y2="400.1" stroke="#555" stroke-width="1.1" />
<line x1="735" y1="396.6" x2="735" y2="400.1" stroke="#555" stroke-width="1.1" />
<text x="609.4" y="414" font-size="12" text-anchor="middle" >0</text>
<text x="651.27" y="414" font-size="12" text-anchor="middle" >200</text>
<text x="693.13" y="414" font-size="12" text-anchor="middle" >400</text>
<text x="735" y="414" font-size="12" text-anchor="middle" >600</text>
<text x="672.2" y="430.7" font-size="13" text-anchor="middle" >Instances</text>
<text x="0" y="0" font-size="13" text-anchor="middle" transform="translate(587.7,375.4) rotate(-90)">PC1</text>
<line x1="221" y1="122.3" x2="229.3" y2="122.3" stroke="#000" stroke-width="0.8" />
<path d="M229.3 122.3 230.8 123.3 232.8 123.9 235.3 124.3 238.3 124.4 319.3 124.4 320.3 123.3 321.3 122.6 322.8 122.1 324.8 121.8 330.4 121.7 355 121.8" fill="none" stroke="#000" stroke-width="0.85" stroke-linejoin="round"/>
<path d="M229.3 122.3 229.8 123.1 230.8 124.4 232.3 125.5 233.3 126 234.8 126.4 237.8 126.7 241.8 126.8 271.8 126.6 319.3 126.5 320.3 124.3 321.3 123.1 322.8 122.1 324.8 121.5 326.8 121.4 330.4 121.3 355 121.7" fill="none" stroke="#000" stroke-width="0.85" stroke-linejoin="round"/>
<path d="M229.3 122.3 230.3 124.7 231.3 126.3 232.3 127.4 233.3 128.1 234.8 128.7 236.3 129.1 238.3 129.3 240.8 129.3 271.3 128.8 319.3 128.6 320.3 125.4 320.8 124.3 321.8 122.8 322.3 122.3 323.3 121.6 325.3 120.9 327.3 120.7 330.9 120.7 355 121.5" fill="none" stroke="#000" stroke-width="0.85" stroke-linejoin="round"/>
<path d="M229.3 122.3 230.3 125.7 231.3 127.9 232.3 129.4 233.3 130.4 234.3 131.1 235.8 131.6 237.8 131.9 240.3 132 256.3 131.4 270.3 131 289.8 130.8 319.3 130.7 320.3 126.3 320.8 124.8 321.8 122.8 322.3 122.1 323.3 121.1 324.3 120.5 325.3 120.2 327.8 119.8 330.9 119.8 345.4 120.8 355 121.3" fill="none" stroke="#000" stroke-width="0.85" stroke-linejoin="round"/>
<path d="M229.3 122.3 229.8 124.7 230.8 128.3 231.8 130.7 232.8 132.3 233.8 133.4 235.3 134.3 237.3 134.8 239.8 134.9 256.3 133.8 270.3 133.3 289.8 133 319.3 132.8 320.3 127.2 320.8 125.3 321.8 122.6 322.3 121.7 323.3 120.4 324.3 119.6 325.3 119.1 326.3 118.8 327.8 118.6 330.9 118.7 345.4 120.3 355 121" fill="none" stroke="#000" stroke-width="0.85" stroke-linejoin="round"/>
<path d="M229.3 122.3 229.8 125.4 230.8 129.9 231.8 132.9 232.8 134.9 233.8 136.2 235.3 137.3 236.8 137.8 239.3 137.9 255.8 136.4 269.8 135.6 289.8 135.2 319.3 135 320.3 128 320.8 125.6 321.8 122.3 322.3 121.1 323.3 119.5 324.3 118.5 325.8 117.6 327.8 117.2 330.9 117.3 345.4 119.6 355 120.6" fill="none" stroke="#000" stroke-width="0.85" stroke-linejoin="round"/>
<path d="M229.3 122.3 229.8 126 230.8 131.6 231.8 135.2 232.8 137.6 233.8 139.2 234.3 139.7 235.3 140.5 236.8 141 238.8 141.2 241.3 141 249.8 139.8 255.8 139 262.3 138.5 269.8 138 289.8 137.4 319.3 137.1 320.3 128.7 320.8 125.9 321.8 121.8 322.3 120.4 323.3 118.4 324.3 117.1 325.8 116.1 326.8 115.7 327.8 115.6 329.4 115.5 330.9 115.7 333.9 116.2 345.4 118.8 350 119.6 355 120.2" fill="none" stroke="#000" stroke-width="0.85" stroke-linejoin="round"/>
<path d="M229.3 122.3 229.8 126.7 230.8 133.3 231.8 137.7 232.8 140.5 233.8 142.4 234.3 143 235.3 143.9 236.8 144.5 238.3 144.7 240.8 144.4 249.3 142.8 255.3 141.8 261.8 141.1 269.3 140.5 278.3 140 289.3 139.6 319.3 139.2 319.8 133.7 320.8 126 321.3 123.3 322.3 119.5 323.3 117.1 324.3 115.5 324.8 115 325.8 114.3 327.3 113.7 329.4 113.6 331.9 114 345.4 117.9 350 118.9 355 119.7" fill="none" stroke="#000" stroke-width="0.85" stroke-linejoin="round"/>
<path d="M229.3 122.3 229.8 127.5 230.8 135.2 231.8 140.3 232.8 143.6 233.8 145.8 234.3 146.5 235.3 147.5 236.8 148.2 238.3 148.3 240.8 148 249.3 145.9 255.3 144.7 261.8 143.7 269.3 142.9 278.3 142.3 289.3 141.8 302.3 141.5 319.3 141.3 319.8 135 320.8 126.1 321.3 122.9 322.3 118.4 323.3 115.6 324.3 113.7 324.8 113.1 325.8 112.2 327.3 111.5 328.4 111.4 329.4 111.4 331.9 111.9 334.4 112.8 341.4 115.5 345.4 116.9 350 118.1 355 119.2" fill="none" stroke="#000" stroke-width="0.85" stroke-linejoin="round"/>
<path d="M229.3 122.3 229.8 128.3 230.8 137.3 231.3 140.5 232.3 145.2 233.3 148.3 234.3 150.2 235.3 151.3 235.8 151.6 236.8 152 238.3 152.2 240.3 151.8 249.8 148.9 256.3 147.4 262.8 146.2 269.8 145.4 278.8 144.6 289.8 144.1 302.8 143.7 319.3 143.5 319.8 138.3 320.8 130.9 321.3 128.3 322.2 124.3 323.2 121.5 324.2 119.2 328.6 110.6 329.1 31.5 330.1 113 331.6 115.8 333.1 117.8 335.1 119.5 336.1 120 337.6 120.7 340.1 121.3 343.5 121.8 348 121.9 355 122" fill="none" stroke="#000" stroke-width="0.85" stroke-linejoin="round"/>
<path d="M229.3 122.3 229.8 129.2 230.8 139.4 231.3 143.1 232.3 148.5 233.3 151.9 234.3 154 235.3 155.3 235.8 155.7 236.8 156.1 238.3 156.2 240.3 155.7 249.3 152.4 255.8 150.4 262.3 149 269.3 148 278.3 147 289.3 146.3 302.3 145.9 319.3 145.6 320.3 135.2 320.8 131.5 321.8 126.1 322.8 122.2 323.8 119.2 327.3 110.8 327.8 30.4 328.8 113 330.3 115.9 331.8 117.8 332.8 118.8 333.8 119.5 334.8 120.1 336.4 120.7 338.9 121.4 342.4 121.8 346.9 121.9 355 121.9" fill="none" stroke="#000" stroke-width="0.85" stroke-linejoin="round"/>
<path d="M229.3 122.3 319.3 122.3 320.3 123 321.3 123.4 322.3 123.6 323.8 123.7 338.9 122.5 355 122" fill="none" stroke="#000" stroke-width="0.85" stroke-linejoin="round"/>
<path d="M229.3 122.3 230.3 121.6 231.3 121.1 233.8 120.5 237.8 120.2 244.8 120.1 319.3 120.1 320.3 121.9 321.3 122.9 322.8 123.5 324.3 123.6 339.4 122.5 355 122" fill="none" stroke="#000" stroke-width="0.85" stroke-linejoin="round"/>
<path d="M229.3 122.3 230.3 120.7 231.3 119.6 232.8 118.6 234.3 118 236.3 117.6 238.3 117.5 246.8 117.3 319.3 117.3 320.3 120.5 321.3 122.1 322.3 123 323.8 123.4 326.3 123.5 334.4 122.8 340.9 122.4 355 122" fill="none" stroke="#000" stroke-width="0.85" stroke-linejoin="round"/>
<path d="M229.3 122.3 230.3 119.6 231.3 117.8 232.8 116.1 234.3 115.1 236.3 114.5 238.8 114.1 242.3 114 248.3 113.9 319.3 113.9 320.3 118.7 321.3 121.2 322.3 122.5 322.8 122.9 323.8 123.3 324.8 123.4 326.3 123.5 339.9 122.5 355 122" fill="none" stroke="#000" stroke-width="0.85" stroke-linejoin="round"/>
<path d="M229.3 122.3 230.3 115.3 231.2 111.6 232.2 109.7 232.7 109.1 233.6 108.3 234.1 107.5 234.3 29.3 235.1 113 235.6 111.6 236.6 110.3 238.1 109 240.1 107.5 240.3 33 241.1 113 241.6 112.2 242.1 111.7 244.2 110.5 247.7 109.1 252.8 107.5 253.1 33.9 253.8 113 254.3 112.2 254.8 111.7 256.8 110.5 260.3 109.1 265.3 107.5 265.6 33.9 266.3 113 266.8 112.3 267.3 111.9 268.8 111.1 270.3 110.5 274.7 109.1 281.2 107.5 281.4 33.9 282.2 113 282.7 112.3 283.7 111.6 286.8 110.4 291.3 109 297.9 107.5 298.1 33.9 298.9 113 299.4 112.3 300.4 111.7 303.5 110.5 309 109 316.1 107.5 316.4 33.9 317.1 113 319.3 112.4 319.8 115.7 320.3 118.1 321.3 121 321.8 121.9 322.8 123 323.3 123.3 324.3 123.6 326.8 123.6 335.4 122.9 341.9 122.5 355 122.1" fill="none" stroke="#000" stroke-width="0.85" stroke-linejoin="round"/>
<path d="M229.3 122.3 230.3 115.7 230.8 113.6 231.8 111.2 232.3 110.4 233.2 109.5 234.2 109 236.2 108.5 236.4 31.3 237.2 113.8 237.7 112.8 239.2 111.5 241.7 110 245.2 108.5 245.4 34.6 246.2 113.8 246.7 113.2 247.7 112.6 251.2 111.3 256.6 109.9 263.6 108.5 263.9 34.2 264.6 113.8 265.1 113.2 266.1 112.7 268.1 112 270.6 111.3 277 110 286 108.5 286.2 34.6 287 113.8 287.5 113.2 288.5 112.7 290.5 112 293.1 111.3 299.6 109.9 308.2 108.5 308.4 34.2 309.2 113.8 311.2 113.2 313.2 112.8 319.3 112.4 319.8 115.7 320.3 118.1 321.3 121 321.8 121.9 322.8 123 323.3 123.3 324.3 123.6 326.8 123.6 335.4 122.9 341.9 122.5 355 122.1" fill="none" stroke="#000" stroke-width="0.85" stroke-linejoin="round"/>
<path d="M229.3 122.3 230.3 116.2 231.3 113 231.8 112 232.7 110.8 233.2 110.4 234.2 110 234.7 109.5 234.9 30 235.7 114.5 236.7 113.9 238.7 113.4 246.7 112.2 258.8 110.9 275.3 109.5 275.6 34.5 276.3 114.5 276.8 114 278.3 113.3 282.8 112.2 289.8 110.9 299.3 109.5 299.6 34.5 300.3 114.5 303.3 113.7 306.8 113.3 311.3 113.1 319.3 113 319.8 116.2 320.3 118.4 321.3 121.2 321.8 122 322.8 123 324.3 123.6 326.8 123.6 334.9 122.9 341.4 122.5 355 122.1" fill="none" stroke="#000" stroke-width="0.85" stroke-linejoin="round"/>
<line x1="210.8" y1="56.1" x2="210.8" y2="95" stroke="#000" stroke-width="1.0" />
<text x="0" y="0" font-size="12" text-anchor="middle" transform="translate(205.3,76.4) rotate(-90)">40 mV</text>
<line x1="338.8" y1="66.5" x2="351" y2="66.5" stroke="#111" stroke-width="0.9" stroke-dasharray="1.5,0.6"/>
<text x="353.1" y="71.4" font-size="12" text-anchor="start" >0</text>
<line x1="325.6" y1="155.4" x2="351.6" y2="155.4" stroke="#111" stroke-width="1.0" />
<text x="338.6" y="168.6" font-size="12" text-anchor="middle" >0.1 s</text>
<text x="239" y="15.9" font-size="13" text-anchor="start" >Regular firing</text>
<circle cx="335.3" cy="12.3" r="5.6" fill="#ee1111" />
<line x1="413.6" y1="132.7" x2="421.5" y2="132.7" stroke="#000" stroke-width="0.8" />
<path d="M421.5 132.7 422 133.3 423 134.2 424 134.8 425.5 135.2 429 135.5 437.5 135.6 509.4 135.6 510.4 134.5 511.9 133.5 513.4 133.1 515.4 132.8 520.9 132.7 547 132.7" fill="none" stroke="#000" stroke-width="0.85" stroke-linejoin="round"/>
<path d="M421.5 132.7 422 133.9 423 135.5 424 136.4 425.5 137.2 427 137.6 429 137.8 436 137.9 509.4 137.9 510.4 135.8 510.9 135.2 511.9 134.2 513.4 133.4 515.4 133 520.9 132.7 547 132.7" fill="none" stroke="#000" stroke-width="0.85" stroke-linejoin="round"/>
<path d="M421.5 132.7 422 134.4 423 136.7 424 138.1 425.5 139.2 427 139.7 428.5 140 431 140.1 435.5 140.1 509.4 140.1 510.4 137.2 510.9 136.2 511.9 134.8 513.4 133.7 515.4 133.1 517.4 132.8 520.9 132.7 547 132.7" fill="none" stroke="#000" stroke-width="0.85" stroke-linejoin="round"/>
<path d="M421.5 132.7 422 134.9 423 137.9 424 139.8 424.5 140.4 425.5 141.2 427 141.9 428.5 142.2 431 142.4 435 142.5 509.4 142.4 510.4 138.6 510.9 137.3 511.9 135.5 512.4 134.9 513.4 134 514.4 133.5 515.4 133.2 517.4 132.9 520.9 132.7 547 132.7" fill="none" stroke="#000" stroke-width="0.85" stroke-linejoin="round"/>
<path d="M421.5 132.7 422 135.4 423 139.1 424 141.4 425 142.8 426.5 143.8 428 144.4 430.5 144.7 434.5 144.7 509.4 144.6 510.4 139.9 510.9 138.3 511.9 136.1 512.4 135.3 513.4 134.3 514.4 133.7 515.4 133.3 517.4 132.9 520.9 132.7 547 132.7" fill="none" stroke="#000" stroke-width="0.85" stroke-linejoin="round"/>
<path d="M421.5 132.7 422 135.8 423 140.1 424 142.7 425 144.3 425.5 144.8 426.5 145.6 428 146.2 430.5 146.5 434 146.6 460.5 146.4 509.4 146.4 510.4 141 510.9 139.2 511.9 136.6 512.4 135.7 513.4 134.5 514.4 133.8 515.4 133.4 517.4 132.9 520.9 132.7 547 132.7" fill="none" stroke="#000" stroke-width="0.85" stroke-linejoin="round"/>
<path d="M421.5 132.7 422 136.3 423 141.2 424 144.2 425 146.1 425.5 146.7 426.5 147.5 428 148.2 430 148.5 433.5 148.6 460.5 148.4 509.4 148.4 510.4 142.2 510.9 140.1 511.9 137.2 512.4 136.2 513.4 134.8 514.4 134 515.4 133.5 517.4 133 520.9 132.7 547 132.7" fill="none" stroke="#000" stroke-width="0.85" stroke-linejoin="round"/>
<path d="M421.5 132.7 422 136.6 423 142.1 424 145.4 425 147.4 425.5 148 426.5 149 428 149.7 430 150.1 433.5 150.2 460 150 509.4 149.9 510.4 143.1 510.9 140.8 511.9 137.6 512.4 136.5 513.4 135 514.4 134.1 515.4 133.5 517.4 133 520.9 132.8 547 132.7" fill="none" stroke="#000" stroke-width="0.85" stroke-linejoin="round"/>
<path d="M421.5 132.7 422 137 423 142.9 424 146.5 425 148.7 425.5 149.4 426.5 150.4 428 151.2 430 151.6 433.5 151.8 460 151.5 509.4 151.4 510.4 144 510.9 141.5 511.9 138 512.4 136.9 513.4 135.2 514.4 134.2 515.4 133.6 517.4 133 520.9 132.8 547 132.7" fill="none" stroke="#000" stroke-width="0.85" stroke-linejoin="round"/>
<path d="M421.5 132.7 422 137.4 423 143.8 424 147.7 425 150 425.5 150.8 426.5 151.9 428 152.7 430 153.2 433 153.3 460 153 509.4 152.9 510.4 144.9 510.9 142.2 511.9 138.5 512.4 137.2 513.4 135.4 514.4 134.3 515.4 133.7 517.4 133.1 520.9 132.8 547 132.7" fill="none" stroke="#000" stroke-width="0.85" stroke-linejoin="round"/>
<path d="M421.5 132.7 422 137.7 423 144.7 424 148.8 425 151.4 425.5 152.2 426.5 153.4 428 154.3 430 154.8 433 154.9 459.5 154.5 509.4 154.4 510.4 145.8 510.9 142.9 511.9 138.9 512.4 137.5 513.4 135.6 514.4 134.5 515.4 133.8 517.4 133.1 520.9 132.8 547 132.7" fill="none" stroke="#000" stroke-width="0.85" stroke-linejoin="round"/>
<path d="M421.5 132.7 423.5 132 426 131.5 429.5 131.2 434 131 474.9 130.3 509.4 130.1 511.9 130.8 514.4 131.4 517.4 131.8 521.4 132.2 531 132.6 547 132.7" fill="none" stroke="#000" stroke-width="0.85" stroke-linejoin="round"/>
<path d="M421.5 132.7 422.5 131.7 423.5 131 424.5 130.4 426 129.8 429.5 129 434 128.5 474.9 126.6 509.4 126.1 511.9 128 514.4 129.3 517.4 130.4 521.4 131.4 525.9 132 531 132.3 537.5 132.5 547 132.7" fill="none" stroke="#000" stroke-width="0.85" stroke-linejoin="round"/>
<path d="M421.5 132.7 422.5 131 423.5 129.7 424.5 128.7 426 127.6 427.5 126.9 429.5 126.2 434 125.4 442.5 124.6 474.9 122.1 509.4 121.2 510.4 122.7 511.9 124.5 514.4 126.8 515.9 127.9 517.4 128.8 519.4 129.7 521.4 130.4 525.9 131.4 531 132.1 537.5 132.4 547 132.6" fill="none" stroke="#000" stroke-width="0.85" stroke-linejoin="round"/>
<path d="M421.5 132.7 422.5 130.3 423.5 128.4 424.5 127 426 125.4 427.5 124.4 429.5 123.4 431.5 122.8 434 122.3 442.5 121.1 474.9 117.6 509.4 116.4 510.4 118.4 511.9 121 512.9 122.5 514.4 124.3 515.9 125.9 517.4 127.1 519.4 128.4 521.4 129.4 523.4 130.2 525.9 130.9 531 131.8 537.5 132.3 547 132.6" fill="none" stroke="#000" stroke-width="0.85" stroke-linejoin="round"/>
<path d="M421.5 132.7 422.5 129.5 423.5 127.1 424.5 125.3 426 123.2 427.5 121.9 429.5 120.6 431.5 119.8 434 119.1 437.5 118.4 442.5 117.6 474.9 113 509.4 111.4 510.4 114.1 511.9 117.5 512.9 119.4 514.4 121.8 515.9 123.8 517.4 125.4 519.4 127.1 521.4 128.4 523.4 129.4 525.9 130.4 528.5 131 531 131.5 537.5 132.2 547 132.6" fill="none" stroke="#000" stroke-width="0.85" stroke-linejoin="round"/>
<path d="M421.5 132.7 423 125.8 424.5 121 425.5 118.7 426.5 116.9 427.5 115.4 428.6 114.2 429.6 113.3 431.1 112 434.1 110.2 438.6 108.1 446.7 104.8 446.9 31 447.7 109.5 448.2 109.1 449.2 108.6 452.7 107.5 457.6 106.2 464.1 104.8 464.4 31 465.1 109.5 466.1 108.7 469.1 107.4 473.2 106.2 478.2 104.8 478.4 31 479.2 109.5 479.7 109.1 480.7 108.6 483.7 107.5 488.1 106.2 494.1 104.8 494.4 31 495.1 109.5 496.1 108.6 498.1 107.5 501.1 106.2 505.1 104.8 505.4 31 506.1 109.5 507.5 109.1 509.4 108.8 510.4 111.8 511.9 115.6 513.4 118.7 514.9 121.3 516.4 123.3 518.4 125.5 520.4 127.2 522.4 128.5 524.4 129.5 526.4 130.2 529 130.9 531.5 131.4 538 132.2 547 132.5" fill="none" stroke="#000" stroke-width="0.85" stroke-linejoin="round"/>
<path d="M421.5 132.7 423 126.2 424 123.1 425 120.7 426 118.8 427 117.3 428 116.2 429.5 114.8 431.1 113.7 432.6 112.9 436.6 111.3 442.1 109.5 454.2 106 454.4 31.2 455.2 110.8 455.7 110.4 457.2 109.8 461.1 108.7 466.6 107.4 474 106 474.2 31.2 475 110.8 475.5 110.2 476 109.8 477.6 108.8 480.6 107.4 484.2 106 484.4 31.2 485.2 110.8 485.7 110.3 486.7 109.8 489.7 108.7 494.2 107.4 499.7 106 499.9 31.2 500.7 110.8 502.2 110.4 504.3 110.1 509.4 109.9 510.9 114 512.4 117.4 513.9 120.2 515.4 122.5 516.9 124.3 518.9 126.3 520.9 127.8 523.4 129.2 525.4 130 527.4 130.6 530 131.2 532.5 131.6 538.5 132.2 547 132.5" fill="none" stroke="#000" stroke-width="0.85" stroke-linejoin="round"/>
<line x1="414.3" y1="58.2" x2="414.3" y2="99.2" stroke="#000" stroke-width="1.0" />
<text x="0" y="0" font-size="12" text-anchor="middle" transform="translate(408.8,77.5) rotate(-90)">40 mV</text>
<line x1="523.8" y1="64.5" x2="536" y2="64.5" stroke="#111" stroke-width="0.9" stroke-dasharray="1.5,0.6"/>
<text x="537.4" y="69.3" font-size="12" text-anchor="start" >0</text>
<line x1="522.7" y1="156.4" x2="547.7" y2="156.4" stroke="#111" stroke-width="1.0" />
<text x="535.4" y="169.8" font-size="12" text-anchor="middle" >0.1 s</text>
<text x="430" y="15.9" font-size="13" text-anchor="start" >Delayed firing</text>
<circle cx="528.5" cy="12.4" r="5.6" fill="#0a0a99" />
<line x1="605.8" y1="126.3" x2="614.8" y2="126.3" stroke="#000" stroke-width="0.8" />
<path d="M614.8 126.3 615.3 127.9 615.8 129 616.3 129.7 617.3 130.5 618.3 130.9 619.3 131.1 622.8 131.2 702.1 131.1 702.6 129.6 703.1 128.5 703.6 127.8 704.6 127 705.6 126.6 706.6 126.4 710.6 126.3 738.8 126.3" fill="none" stroke="#000" stroke-width="0.85" stroke-linejoin="round"/>
<path d="M614.8 126.3 615.3 129 615.8 130.9 616.3 132.1 617.3 133.5 618.3 134.2 619.3 134.5 622.3 134.6 646.2 134.4 702.1 134.4 702.6 131.8 703.1 130 703.6 128.8 704.6 127.5 705.6 126.8 706.6 126.5 708.1 126.4 710.6 126.3 738.8 126.3" fill="none" stroke="#000" stroke-width="0.85" stroke-linejoin="round"/>
<path d="M614.8 126.3 615.3 130 615.8 132.5 616.3 134.2 616.8 135.3 617.8 136.6 618.8 137.2 619.8 137.4 621.8 137.5 646.2 137.2 702.1 137.1 702.6 133.6 703.1 131.3 703.6 129.7 704.1 128.6 704.6 127.9 705.6 127 706.6 126.6 708.1 126.4 710.6 126.3 738.8 126.3" fill="none" stroke="#000" stroke-width="0.85" stroke-linejoin="round"/>
<path d="M614.8 126.3 615.3 130.9 615.8 134.1 616.3 136.2 616.8 137.7 617.3 138.6 618.3 139.7 619.3 140.2 621.3 140.4 633.3 140 645.7 139.8 702.1 139.7 702.6 135.4 703.1 132.5 703.6 130.5 704.1 129.2 704.6 128.2 705.6 127.2 706.6 126.7 708.1 126.4 710.6 126.3 738.8 126.3" fill="none" stroke="#000" stroke-width="0.85" stroke-linejoin="round"/>
<path d="M614.8 126.3 615.3 131.9 615.8 135.6 616.3 138.2 616.8 139.9 617.3 141 617.8 141.8 618.3 142.3 619.3 142.8 621.3 143.1 633.3 142.5 645.7 142.2 702.1 142.1 702.6 137 703.1 133.6 703.6 131.3 704.1 129.7 704.6 128.6 705.6 127.4 706.6 126.8 708.1 126.5 710.6 126.3 738.8 126.3" fill="none" stroke="#000" stroke-width="0.85" stroke-linejoin="round"/>
<path d="M614.8 126.3 615.3 132.7 615.8 137.1 616.3 140 616.8 142 617.3 143.3 617.8 144.2 618.3 144.7 619.3 145.3 620.3 145.5 621.3 145.6 632.8 144.8 645.2 144.5 664.2 144.3 702.1 144.3 702.6 138.5 703.1 134.6 703.6 131.9 704.1 130.1 704.6 128.9 705.6 127.5 706.6 126.9 708.1 126.5 710.6 126.3 738.8 126.3" fill="none" stroke="#000" stroke-width="0.85" stroke-linejoin="round"/>
<path d="M614.8 126.3 615.3 133.6 615.8 138.5 616.3 141.8 616.8 144 617.3 145.5 617.8 146.5 618.3 147.1 619.3 147.8 620.8 148 632.8 147.1 645.2 146.6 664.2 146.4 702.1 146.4 702.6 140 703.1 135.6 703.6 132.6 704.1 130.6 704.6 129.2 705.1 128.3 705.6 127.6 706.6 126.9 708.1 126.5 710.6 126.3 738.8 126.3" fill="none" stroke="#000" stroke-width="0.85" stroke-linejoin="round"/>
<path d="M614.8 126.3 615.3 134.4 615.8 139.8 616.3 143.5 616.8 146 617.3 147.6 617.8 148.7 618.3 149.4 619.3 150.1 620.8 150.4 632.8 149.2 645.2 148.7 664.2 148.5 702.1 148.4 702.6 141.3 703.1 136.5 703.6 133.2 704.1 131 704.6 129.5 705.1 128.5 705.6 127.8 706.6 127 708.1 126.5 710.6 126.3 738.8 126.3" fill="none" stroke="#000" stroke-width="0.85" stroke-linejoin="round"/>
<path d="M614.8 126.3 615.3 135.1 615.8 141.1 616.3 145.1 616.8 147.8 617.3 149.6 617.8 150.7 618.3 151.5 619.3 152.3 620.8 152.5 632.8 151.2 645.2 150.5 664.2 150.3 702.1 150.2 702.6 142.5 703.1 137.3 703.6 133.8 704.1 131.4 704.6 129.8 705.1 128.6 705.6 127.9 706.6 127 708.1 126.5 710.6 126.3 738.8 126.3" fill="none" stroke="#000" stroke-width="0.85" stroke-linejoin="round"/>
<path d="M614.8 126.3 615.3 135.8 615.8 142.2 616.3 146.5 616.8 149.4 617.3 151.3 617.8 152.6 618.3 153.4 619.3 154.2 619.8 154.4 620.8 154.5 628.3 153.4 632.3 152.9 638.2 152.5 645.2 152.2 664.2 151.9 702.1 151.8 702.6 143.6 703.1 138.1 703.6 134.3 704.1 131.7 704.6 130 705.1 128.8 705.6 128 706.6 127.1 708.1 126.5 710.6 126.3 738.8 126.3" fill="none" stroke="#000" stroke-width="0.85" stroke-linejoin="round"/>
<path d="M614.8 126.3 615.3 136.4 615.8 143.3 616.3 147.9 616.8 151 617.3 153 617.8 154.3 618.3 155.2 618.8 155.7 619.3 156.1 619.8 156.2 620.8 156.3 628.3 155.1 632.3 154.6 638.2 154.1 645.2 153.7 664.2 153.4 702.1 153.3 702.6 144.6 703.1 138.8 703.6 134.8 704.1 132 704.6 130.2 705.1 129 705.6 128.1 706.6 127.1 708.1 126.6 710.6 126.3 738.8 126.3" fill="none" stroke="#000" stroke-width="0.85" stroke-linejoin="round"/>
<path d="M614.8 126.3 615.8 127 616.8 127.3 618.8 127.5 650.9 127.6 702.1 127.6 703.1 127 704.1 126.7 707.1 126.4 738.8 126.3" fill="none" stroke="#2a2a2a" stroke-width="0.75" stroke-linejoin="round"/>
<path d="M614.8 126.3 615.8 125.8 616.8 125.5 618.8 125.3 650.9 125.3 702.1 125.3 703.1 125.8 704.1 126 707.1 126.3 738.8 126.3" fill="none" stroke="#2a2a2a" stroke-width="0.75" stroke-linejoin="round"/>
<path d="M614.8 126.3 615.8 124.7 616.8 124 617.8 123.7 618.8 123.5 622.8 123.4 650.9 123.4 702.1 123.4 703.1 124.7 704.1 125.5 705.1 125.8 707.1 126.2 712 126.3 738.8 126.3" fill="none" stroke="#2a2a2a" stroke-width="0.75" stroke-linejoin="round"/>
<path d="M614.8 126.3 615.8 123.6 616.8 122.4 617.8 121.8 618.8 121.5 622.8 121.3 650.9 121.3 702.1 121.3 703.1 123.6 704.1 124.9 705.1 125.5 706.1 125.9 707.1 126.1 712 126.3 738.8 126.3" fill="none" stroke="#2a2a2a" stroke-width="0.75" stroke-linejoin="round"/>
<path d="M614.8 126.3 615.8 122.5 616.8 120.7 617.8 119.9 618.8 119.5 620.8 119.3 622.8 119.2 650.9 119.2 702.1 119.2 703.1 122.5 704.1 124.2 705.1 125.2 706.1 125.7 707.1 126 709 126.2 712 126.3 738.8 126.3" fill="none" stroke="#2a2a2a" stroke-width="0.75" stroke-linejoin="round"/>
<path d="M614.8 126.3 615.8 121.4 616.8 119.1 617.8 118.1 618.8 117.6 620.8 117.3 622.8 117.2 650.9 117.2 702.1 117.2 703.1 121.4 704.1 123.7 705.1 124.9 706.1 125.5 707.1 125.9 709 126.2 712 126.3 738.8 126.3" fill="none" stroke="#2a2a2a" stroke-width="0.75" stroke-linejoin="round"/>
<path d="M614.8 126.3 615.8 120.4 616.8 117.7 617.8 116.5 618.8 115.9 620.8 115.5 622.8 115.4 650.9 115.4 702.1 115.4 703.1 120.4 704.1 123.1 705.1 124.6 706.1 125.4 707.1 125.8 709 126.2 712 126.3 738.8 126.3" fill="none" stroke="#2a2a2a" stroke-width="0.75" stroke-linejoin="round"/>
<path d="M614.8 126.3 615.8 119.5 616.8 116.4 617.8 114.9 618.8 114.3 619.8 114 620.8 113.8 622.8 113.7 650.9 113.7 702.1 113.7 703.1 119.5 704.1 122.7 705.1 124.3 706.1 125.2 707.1 125.7 709 126.1 712 126.3 738.8 126.3" fill="none" stroke="#2a2a2a" stroke-width="0.75" stroke-linejoin="round"/>
<path d="M614.8 126.3 615.7 112 616 29.3 616.5 113 618.7 128.6 624.1 112 624.4 39.8 624.9 113 627.1 128.6 632.4 112 632.6 38.9 633.2 113 635.4 128.6 640.6 112 640.9 38.9 641.4 113 643.6 128.6 648.5 112 648.8 37 649.3 113 651.5 128.6 655.9 112 656.1 36.5 656.7 113 658.9 128.6 663.9 112 664.1 36 664.7 113 666.9 128.6 671.3 112 671.5 35.5 672.1 113 674.3 128.6 679 112 679.2 35 679.8 113 682 128.6 686.5 112 686.8 34.6 687.3 113 689.5 128.6 693.9 112 694.1 34.3 694.7 113 696.9 128.6 697.9 124.3 699 121.3 699.5 120.1 700.5 118.3 702.1 116.6 702.6 119.3 703.1 121.3 704.1 123.8 704.6 124.5 705.6 125.4 707.1 126 708.6 126.2 711.7 126.3 738.8 126.3" fill="none" stroke="#000" stroke-width="0.85" stroke-linejoin="round"/>
<path d="M614.8 126.3 615.4 117.4 616 113 616.2 30.5 616.8 114 619 127.5 620 124.9 621 123 622.5 121.2 624 120 626 119.2 628 118.8 631 118.5 636 118.3 702.1 118.3 702.6 120.6 703.1 122.2 704.1 124.2 704.6 124.8 705.6 125.5 707.1 126 708.6 126.2 711.7 126.3 738.8 126.3" fill="none" stroke="#000" stroke-width="0.85" stroke-linejoin="round"/>
<path d="M614.8 126.3 615.8 113.5 616.3 113.5 616.5 31.5 617.1 114.5 619.3 127 620.3 125.7 621.3 124.8 622.8 123.8 624.3 123.3 626.3 122.8 628.3 122.6 635.8 122.4 702.1 122.4 703.1 124.3 704.1 125.3 705.6 125.9 707.1 126.2 711.7 126.3 738.8 126.3" fill="none" stroke="#000" stroke-width="0.85" stroke-linejoin="round"/>
<line x1="599.4" y1="61.5" x2="599.4" y2="98.4" stroke="#000" stroke-width="1.0" />
<text x="0" y="0" font-size="12" text-anchor="middle" transform="translate(594,79.9) rotate(-90)">40 mV</text>
<line x1="718.4" y1="72.4" x2="730.8" y2="72.4" stroke="#111" stroke-width="0.9" stroke-dasharray="1.5,0.6"/>
<text x="731.8" y="76.5" font-size="12" text-anchor="start" >0</text>
<line x1="714.1" y1="151.2" x2="739" y2="151.2" stroke="#000" stroke-width="1.0" />
<text x="726.6" y="165" font-size="12" text-anchor="middle" >0.1 s</text>
<text x="627" y="15.9" font-size="13" text-anchor="start" >Stuttering</text>
<circle cx="702.2" cy="12.4" r="5.6" fill="#22ee22" />
</svg>
</body></html>
